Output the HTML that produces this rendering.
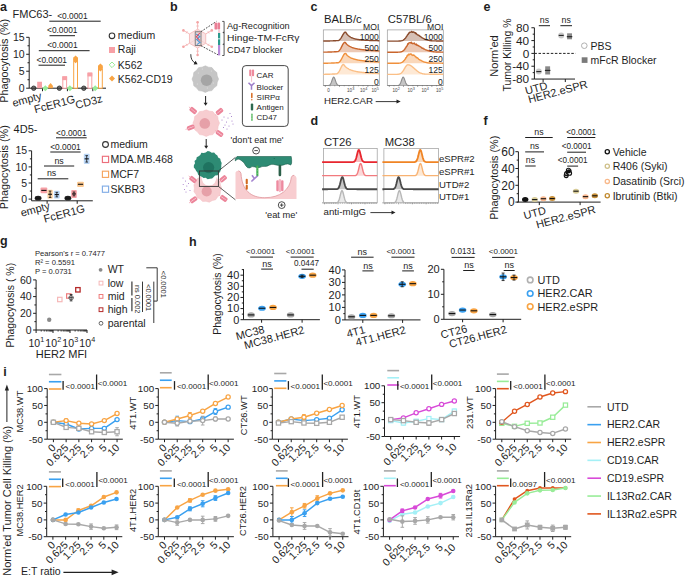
<!DOCTYPE html>
<html><head><meta charset="utf-8"><style>
html,body{margin:0;padding:0;background:#fff;width:685px;height:576px;overflow:hidden}
svg{display:block;font-family:"Liberation Sans",sans-serif}
</style></head><body>
<svg width="685" height="576" viewBox="0 0 685 576" fill="#1e1e1e">
<text x="0" y="10.5" font-size="12.5" font-weight="bold">a</text>
<text x="12.5" y="17.7" font-size="11">FMC63-</text>
<line x1="29.2" y1="37.3" x2="29.2" y2="88.2" stroke="#1e1e1e" stroke-width="1"/>
<line x1="26.2" y1="88.2" x2="29.2" y2="88.2" stroke="#1e1e1e" stroke-width="1"/>
<text x="24.7" y="91.88" font-size="10.5" text-anchor="end">0</text>
<line x1="26.2" y1="71.23" x2="29.2" y2="71.23" stroke="#1e1e1e" stroke-width="1"/>
<text x="24.7" y="74.91" font-size="10.5" text-anchor="end">5</text>
<line x1="26.2" y1="54.27" x2="29.2" y2="54.27" stroke="#1e1e1e" stroke-width="1"/>
<text x="24.7" y="57.94" font-size="10.5" text-anchor="end">10</text>
<line x1="26.2" y1="37.3" x2="29.2" y2="37.3" stroke="#1e1e1e" stroke-width="1"/>
<text x="24.7" y="40.98" font-size="10.5" text-anchor="end">15</text>
<line x1="27.5" y1="79.72" x2="29.2" y2="79.72" stroke="#1e1e1e" stroke-width="1"/>
<line x1="27.5" y1="62.75" x2="29.2" y2="62.75" stroke="#1e1e1e" stroke-width="1"/>
<line x1="27.5" y1="45.78" x2="29.2" y2="45.78" stroke="#1e1e1e" stroke-width="1"/>
<line x1="29.2" y1="88.2" x2="106" y2="88.2" stroke="#1e1e1e" stroke-width="1"/>
<line x1="42.5" y1="88.2" x2="42.5" y2="91.2" stroke="#1e1e1e" stroke-width="1"/>
<line x1="67.4" y1="88.2" x2="67.4" y2="91.2" stroke="#1e1e1e" stroke-width="1"/>
<line x1="92.8" y1="88.2" x2="92.8" y2="91.2" stroke="#1e1e1e" stroke-width="1"/>
<rect x="37.2" y="81.75" width="4.8" height="6.45" fill="#f7a0a6" stroke="none" stroke-width="1"/>
<path d="M48.3 85.73 L50.6 82.93 L52.9 85.73 L52.9 88.2 L48.3 88.2Z" stroke="none" fill="#f8a444" stroke-width="1"/>
<circle cx="33.7" cy="88.2" r="2.2" fill="#777" stroke="#333" stroke-width="0.9"/>
<line x1="31.5" y1="88.2" x2="35.9" y2="88.2" stroke="#222" stroke-width="0.9"/>
<path d="M42.3 88.2 L45.3 85.2 L48.3 88.2 L45.3 91.2Z" stroke="none" fill="#98ec98" stroke-width="1"/>
<rect x="62.8" y="77.16" width="3.8" height="11.04" fill="#fff" stroke="#f7a0a6" stroke-width="1"/>
<rect x="62.3" y="76.16" width="4.8" height="4" fill="#f7a0a6" stroke="none" stroke-width="1"/>
<rect x="73.7" y="58.16" width="3.8" height="30.04" fill="#fff" stroke="#f8a444" stroke-width="1"/>
<path d="M73.2 57.66 L75.6 55.46 L78 57.66 L75.6 59.86Z" stroke="none" fill="#f8a444" stroke-width="1"/>
<path d="M73.2 59.46 L75.6 57.26 L78 59.46 L75.6 61.66Z" stroke="none" fill="#f8a444" stroke-width="1"/>
<path d="M73.2 61.06 L75.6 58.86 L78 61.06 L75.6 63.26Z" stroke="none" fill="#f8a444" stroke-width="1"/>
<circle cx="59.4" cy="88.2" r="2.2" fill="#777" stroke="#333" stroke-width="0.9"/>
<line x1="57.2" y1="88.2" x2="61.6" y2="88.2" stroke="#222" stroke-width="0.9"/>
<path d="M66.9 88.2 L69.9 85.2 L72.9 88.2 L69.9 91.2Z" stroke="none" fill="#98ec98" stroke-width="1"/>
<rect x="88" y="73.43" width="3.8" height="14.77" fill="#fff" stroke="#f7a0a6" stroke-width="1"/>
<rect x="87.5" y="72.43" width="4.8" height="4" fill="#f7a0a6" stroke="none" stroke-width="1"/>
<rect x="98.5" y="66.3" width="3.8" height="21.9" fill="#fff" stroke="#f8a444" stroke-width="1"/>
<path d="M98 65.8 L100.4 63.6 L102.8 65.8 L100.4 68Z" stroke="none" fill="#f8a444" stroke-width="1"/>
<path d="M98 67.6 L100.4 65.4 L102.8 67.6 L100.4 69.8Z" stroke="none" fill="#f8a444" stroke-width="1"/>
<path d="M98 69.2 L100.4 67 L102.8 69.2 L100.4 71.4Z" stroke="none" fill="#f8a444" stroke-width="1"/>
<circle cx="83.8" cy="88.2" r="2.2" fill="#777" stroke="#333" stroke-width="0.9"/>
<line x1="81.6" y1="88.2" x2="86" y2="88.2" stroke="#222" stroke-width="0.9"/>
<path d="M92.2 88.2 L95.2 85.2 L98.2 88.2 L95.2 91.2Z" stroke="none" fill="#98ec98" stroke-width="1"/>
<line x1="49.3" y1="21.2" x2="100.7" y2="21.2" stroke="#1e1e1e" stroke-width="1"/>
<text x="72.4" y="18.6" font-size="8.4" text-anchor="middle">&lt;0.0001</text>
<line x1="49.5" y1="35.7" x2="75" y2="35.7" stroke="#1e1e1e" stroke-width="1"/>
<text x="62.25" y="33.4" font-size="8.4" text-anchor="middle">&lt;0.0001</text>
<line x1="38.8" y1="50.7" x2="89.6" y2="50.7" stroke="#1e1e1e" stroke-width="1"/>
<text x="62.4" y="48.4" font-size="8.4" text-anchor="middle">&lt;0.0001</text>
<line x1="38.5" y1="65.2" x2="65" y2="65.2" stroke="#1e1e1e" stroke-width="1"/>
<text x="51.75" y="62.9" font-size="8.4" text-anchor="middle">&lt;0.0001</text>
<text x="8.1" y="60.8" font-size="10.8" text-anchor="middle" transform="rotate(-90 8.1 60.8)">Phagocytosis (%)</text>
<text x="27.86" y="103.01" font-size="11" text-anchor="middle" transform="rotate(-15 27.86 103.01)">empty</text>
<text x="55.52" y="107.83" font-size="11" text-anchor="middle" transform="rotate(-15 55.52 107.83)">FcER1G</text>
<text x="89.87" y="105.48" font-size="11" text-anchor="middle" transform="rotate(-15 89.87 105.48)">CD3z</text>
<circle cx="112" cy="35.8" r="2.8" fill="none" stroke="#333" stroke-width="1.1"/>
<text x="117.8" y="38.8" font-size="10.5">medium</text>
<rect x="109" y="47" width="6" height="6" fill="#f7a0a6" stroke="none" stroke-width="1"/>
<text x="117.8" y="53.3" font-size="10.5">Raji</text>
<path d="M109.2 64.8 L112 62 L114.8 64.8 L112 67.6Z" stroke="#98ec98" fill="none" stroke-width="1"/>
<text x="117.8" y="68.9" font-size="10.5">K562</text>
<path d="M109 78.6 L112 75.6 L115 78.6 L112 81.6Z" stroke="none" fill="#f8a444" stroke-width="1"/>
<text x="117.8" y="82.5" font-size="10.5">K562-CD19</text>
<text x="13.6" y="132.8" font-size="11">4D5-</text>
<line x1="31.6" y1="150.8" x2="31.6" y2="200.8" stroke="#1e1e1e" stroke-width="1"/>
<line x1="28.6" y1="199.1" x2="31.6" y2="199.1" stroke="#1e1e1e" stroke-width="1"/>
<text x="27.1" y="202.78" font-size="10.5" text-anchor="end">0</text>
<line x1="28.6" y1="183" x2="31.6" y2="183" stroke="#1e1e1e" stroke-width="1"/>
<text x="27.1" y="186.68" font-size="10.5" text-anchor="end">5</text>
<line x1="28.6" y1="166.9" x2="31.6" y2="166.9" stroke="#1e1e1e" stroke-width="1"/>
<text x="27.1" y="170.58" font-size="10.5" text-anchor="end">10</text>
<line x1="28.6" y1="150.8" x2="31.6" y2="150.8" stroke="#1e1e1e" stroke-width="1"/>
<text x="27.1" y="154.48" font-size="10.5" text-anchor="end">15</text>
<line x1="29.9" y1="191.05" x2="31.6" y2="191.05" stroke="#1e1e1e" stroke-width="1"/>
<line x1="29.9" y1="174.95" x2="31.6" y2="174.95" stroke="#1e1e1e" stroke-width="1"/>
<line x1="29.9" y1="158.85" x2="31.6" y2="158.85" stroke="#1e1e1e" stroke-width="1"/>
<line x1="31.6" y1="200.8" x2="92.8" y2="200.8" stroke="#1e1e1e" stroke-width="1"/>
<line x1="47.1" y1="200.8" x2="47.1" y2="203.8" stroke="#1e1e1e" stroke-width="1"/>
<line x1="77.2" y1="200.8" x2="77.2" y2="203.8" stroke="#1e1e1e" stroke-width="1"/>
<line x1="56" y1="137.8" x2="86.7" y2="137.8" stroke="#1e1e1e" stroke-width="1"/>
<text x="71.35" y="135.5" font-size="8.4" text-anchor="middle">&lt;0.0001</text>
<line x1="50.3" y1="152" x2="80.6" y2="152" stroke="#1e1e1e" stroke-width="1"/>
<text x="65.45" y="149.7" font-size="8.4" text-anchor="middle">&lt;0.0001</text>
<line x1="44" y1="166" x2="74.2" y2="166" stroke="#1e1e1e" stroke-width="1"/>
<text x="59.1" y="163.6" font-size="8.8" text-anchor="middle">ns</text>
<line x1="37.7" y1="178.8" x2="68.3" y2="178.8" stroke="#1e1e1e" stroke-width="1"/>
<text x="51.6" y="176.4" font-size="8.8" text-anchor="middle">ns</text>
<ellipse cx="38.1" cy="198.13" rx="3.4" ry="2.3" fill="#222"/>
<line x1="35.3" y1="198.13" x2="40.9" y2="198.13" stroke="#111" stroke-width="1.1"/>
<rect x="40.5" y="187.61" width="6.8" height="5.6" fill="#f7a0a6" stroke="none" stroke-width="1" rx="1"/>
<line x1="41.3" y1="190.41" x2="46.5" y2="190.41" stroke="#111" stroke-width="1.1"/>
<rect x="47.4" y="189.87" width="5.4" height="8.8" fill="#fcd3a6" stroke="none" stroke-width="1" rx="1"/>
<line x1="48.2" y1="194.27" x2="52" y2="194.27" stroke="#111" stroke-width="1.1"/>
<rect x="53.9" y="190.69" width="5.8" height="7.8" fill="#b9d5f5" stroke="none" stroke-width="1" rx="1"/>
<line x1="54.7" y1="194.59" x2="58.9" y2="194.59" stroke="#111" stroke-width="1.1"/>
<ellipse cx="67.9" cy="198.13" rx="3.4" ry="2.3" fill="#222"/>
<line x1="65.1" y1="198.13" x2="70.7" y2="198.13" stroke="#111" stroke-width="1.1"/>
<rect x="71.2" y="189.95" width="5.6" height="8" fill="#f7a0a6" stroke="none" stroke-width="1" rx="1"/>
<line x1="72" y1="193.95" x2="76" y2="193.95" stroke="#111" stroke-width="1.1"/>
<rect x="77.1" y="181.69" width="6.8" height="5.2" fill="#fcc890" stroke="none" stroke-width="1" rx="1"/>
<line x1="77.9" y1="184.29" x2="83.1" y2="184.29" stroke="#111" stroke-width="1.1"/>
<rect x="83.8" y="153.65" width="5.8" height="10.4" fill="#b9d5f5" stroke="none" stroke-width="1" rx="1"/>
<line x1="84.6" y1="158.85" x2="88.8" y2="158.85" stroke="#111" stroke-width="1.1"/>
<line x1="50.1" y1="191.05" x2="50.1" y2="197.49" stroke="#111" stroke-width="0.8"/>
<line x1="48.8" y1="191.05" x2="51.4" y2="191.05" stroke="#111" stroke-width="0.8"/>
<line x1="48.8" y1="197.49" x2="51.4" y2="197.49" stroke="#111" stroke-width="0.8"/>
<line x1="56.8" y1="192.34" x2="56.8" y2="196.85" stroke="#111" stroke-width="0.8"/>
<line x1="55.5" y1="192.34" x2="58.1" y2="192.34" stroke="#111" stroke-width="0.8"/>
<line x1="55.5" y1="196.85" x2="58.1" y2="196.85" stroke="#111" stroke-width="0.8"/>
<line x1="86.7" y1="155.63" x2="86.7" y2="162.07" stroke="#111" stroke-width="0.8"/>
<line x1="85.4" y1="155.63" x2="88" y2="155.63" stroke="#111" stroke-width="0.8"/>
<line x1="85.4" y1="162.07" x2="88" y2="162.07" stroke="#111" stroke-width="0.8"/>
<line x1="74" y1="192.02" x2="74" y2="195.88" stroke="#111" stroke-width="0.8"/>
<line x1="72.7" y1="192.02" x2="75.3" y2="192.02" stroke="#111" stroke-width="0.8"/>
<line x1="72.7" y1="195.88" x2="75.3" y2="195.88" stroke="#111" stroke-width="0.8"/>
<text x="8.1" y="167.2" font-size="10.8" text-anchor="middle" transform="rotate(-90 8.1 167.2)">Phagocytosis (%)</text>
<text x="36.16" y="212.91" font-size="11" text-anchor="middle" transform="rotate(-15 36.16 212.91)">empty</text>
<text x="65.22" y="217.33" font-size="11" text-anchor="middle" transform="rotate(-15 65.22 217.33)">FcER1G</text>
<circle cx="105.5" cy="144.5" r="2.9" fill="none" stroke="#333" stroke-width="1.1"/>
<text x="110.4" y="148" font-size="10.5">medium</text>
<rect x="102.4" y="156.3" width="6.2" height="6.2" fill="none" stroke="#ec6f7c" stroke-width="1.15"/>
<text x="110.4" y="163" font-size="10.5">MDA.MB.468</text>
<rect x="102.4" y="171.2" width="6.2" height="6.2" fill="none" stroke="#f5a560" stroke-width="1.15"/>
<text x="110.4" y="178" font-size="10.5">MCF7</text>
<rect x="102.4" y="186.1" width="6.2" height="6.2" fill="none" stroke="#82ade6" stroke-width="1.15"/>
<text x="110.4" y="193" font-size="10.5">SKBR3</text>
<text x="170" y="10.5" font-size="12.5" font-weight="bold">b</text>
<line x1="197.6" y1="29.2" x2="197.6" y2="22.4" stroke="#f4b4b4" stroke-width="0.9"/>
<circle cx="197.6" cy="22.2" r="1.3" fill="#f4a4a4" stroke="none" stroke-width="1"/>
<line x1="198.9" y1="26" x2="196.3" y2="26" stroke="#f4b4b4" stroke-width="0.8"/>
<line x1="205.74" y1="33.9" x2="211.63" y2="30.5" stroke="#f4b4b4" stroke-width="0.9"/>
<circle cx="211.8" cy="30.4" r="1.3" fill="#f4a4a4" stroke="none" stroke-width="1"/>
<line x1="209.16" y1="33.43" x2="207.86" y2="31.17" stroke="#f4b4b4" stroke-width="0.8"/>
<line x1="205.74" y1="43.3" x2="211.63" y2="46.7" stroke="#f4b4b4" stroke-width="0.9"/>
<circle cx="211.8" cy="46.8" r="1.3" fill="#f4a4a4" stroke="none" stroke-width="1"/>
<line x1="207.86" y1="46.03" x2="209.16" y2="43.77" stroke="#f4b4b4" stroke-width="0.8"/>
<line x1="197.6" y1="48" x2="197.6" y2="54.8" stroke="#f4b4b4" stroke-width="0.9"/>
<circle cx="197.6" cy="55" r="1.3" fill="#f4a4a4" stroke="none" stroke-width="1"/>
<line x1="196.3" y1="51.2" x2="198.9" y2="51.2" stroke="#f4b4b4" stroke-width="0.8"/>
<line x1="189.46" y1="43.3" x2="183.57" y2="46.7" stroke="#f4b4b4" stroke-width="0.9"/>
<circle cx="183.4" cy="46.8" r="1.3" fill="#f4a4a4" stroke="none" stroke-width="1"/>
<line x1="186.04" y1="43.77" x2="187.34" y2="46.03" stroke="#f4b4b4" stroke-width="0.8"/>
<line x1="189.46" y1="33.9" x2="183.57" y2="30.5" stroke="#f4b4b4" stroke-width="0.9"/>
<circle cx="183.4" cy="30.4" r="1.3" fill="#f4a4a4" stroke="none" stroke-width="1"/>
<line x1="187.34" y1="31.17" x2="186.04" y2="33.43" stroke="#f4b4b4" stroke-width="0.8"/>
<path d="M197.6 29.2 L205.74 33.9 L205.74 43.3 L197.6 48 L189.46 43.3 L189.46 33.9Z" stroke="#f2b4b4" fill="#f9e2e2" stroke-width="0.8"/>
<path d="M197.6 29.2 L197.6 38.6 L189.5 43.3 M197.6 38.6 L205.7 43.3" stroke="#f4c4c4" fill="none" stroke-width="0.5"/>
<rect x="195.2" y="31.8" width="5.8" height="13.7" fill="#f0dada" stroke="#666" stroke-width="0.8"/>
<path d="M196.2 34 L199.8 36.5 L196.6 39.5 L200 42.5 L196.8 44.6" stroke="#4a9ad8" fill="none" stroke-width="1.1"/>
<path d="M199.8 33 L196.4 36.8 L199.8 40.5" stroke="#d84860" fill="none" stroke-width="1.1"/>
<line x1="201" y1="31.6" x2="216.4" y2="21.4" stroke="#333" stroke-width="0.9" stroke-dasharray="1.7 1.3"/>
<line x1="201" y1="45.7" x2="218" y2="54.8" stroke="#333" stroke-width="0.9" stroke-dasharray="1.7 1.3"/>
<rect x="214.5" y="22.6" width="2.7" height="7" fill="#ea7f95" stroke="none" stroke-width="1" rx="1.2"/>
<rect x="217.4" y="22.6" width="2.7" height="7" fill="#ea7f95" stroke="none" stroke-width="1" rx="1.2"/>
<rect x="218" y="29.6" width="2.1" height="3.4" fill="#f6d0d8" stroke="none" stroke-width="1"/>
<rect x="218" y="33" width="2.2" height="12" fill="#2a9a8c" stroke="none" stroke-width="1"/>
<line x1="219.1" y1="38.4" x2="219.1" y2="39.3" stroke="#fff" stroke-width="2.2"/>
<rect x="218" y="45" width="2.2" height="10.4" fill="#b78ad8" stroke="none" stroke-width="1"/>
<path d="M222.2 21.4 L224.1 21.4 L224.1 55.5 L222.2 55.5" stroke="#444" fill="none" stroke-width="0.9"/>
<path d="M224.1 31.6 L222.3 32.6 L224.1 33.6Z" stroke="none" fill="#444" stroke-width="1"/>
<path d="M224.1 43.3 L222.3 44.3 L224.1 45.3Z" stroke="none" fill="#444" stroke-width="1"/>
<text x="227" y="28.8" font-size="9" textLength="62.6" lengthAdjust="spacingAndGlyphs">Ag-Recognition</text>
<text x="227" y="41.2" font-size="9" textLength="72.5" lengthAdjust="spacingAndGlyphs">Hinge-TM-FcR&#947;</text>
<text x="227" y="53.4" font-size="9" textLength="55.7" lengthAdjust="spacingAndGlyphs">CD47 blocker</text>
<path d="M190.8 54.2 Q190.6 60.5 195.2 63" stroke="#222" fill="none" stroke-width="0.9"/>
<path d="M193.6 64.6 L197.6 64.2 L195.6 60.8Z" stroke="none" fill="#222" stroke-width="1"/>
<path d="M218.6 79.1 L217.27 82.31 L216.82 85.75 L214.06 87.86 L211.95 90.62 L208.51 91.07 L205.3 92.4 L202.09 91.07 L198.65 90.62 L196.54 87.86 L193.78 85.75 L193.33 82.31 L192 79.1 L193.33 75.89 L193.78 72.45 L196.54 70.34 L198.65 67.58 L202.09 67.13 L205.3 65.8 L208.51 67.13 L211.95 67.58 L214.06 70.34 L216.82 72.45 L217.27 75.89Z" stroke="#bbb" fill="#c6c6c6" stroke-width="0.5"/>
<circle cx="206.6" cy="80.2" r="5.8" fill="#a5a5a5" stroke="none" stroke-width="1"/>
<circle cx="198.3" cy="73.1" r="0.5" fill="#e4e4e4" stroke="none" stroke-width="1"/>
<circle cx="211.3" cy="71.1" r="0.5" fill="#e4e4e4" stroke="none" stroke-width="1"/>
<circle cx="213.3" cy="83.1" r="0.5" fill="#e4e4e4" stroke="none" stroke-width="1"/>
<circle cx="197.3" cy="84.1" r="0.5" fill="#e4e4e4" stroke="none" stroke-width="1"/>
<circle cx="207.3" cy="88.1" r="0.5" fill="#e4e4e4" stroke="none" stroke-width="1"/>
<circle cx="202.3" cy="69.1" r="0.5" fill="#e4e4e4" stroke="none" stroke-width="1"/>
<line x1="205.6" y1="96" x2="205.6" y2="103.3" stroke="#222" stroke-width="1"/>
<path d="M203.6 102.8 L205.6 105.8 L207.6 102.8Z" stroke="none" fill="#222" stroke-width="1"/>
<path d="M219.5 123.1 L218.17 126.31 L217.72 129.75 L214.96 131.86 L212.85 134.62 L209.41 135.07 L206.2 136.4 L202.99 135.07 L199.55 134.62 L197.44 131.86 L194.68 129.75 L194.23 126.31 L192.9 123.1 L194.23 119.89 L194.68 116.45 L197.44 114.34 L199.55 111.58 L202.99 111.13 L206.2 109.8 L209.41 111.13 L212.85 111.58 L214.96 114.34 L217.72 116.45 L218.17 119.89Z" stroke="#f2bcc0" fill="#f7cdd0" stroke-width="0.5"/>
<circle cx="204.8" cy="123.4" r="5.3" fill="#e6a0a8" stroke="none" stroke-width="1"/>
<g transform="translate(193.2 110.5) rotate(40)">
<rect x="-3.8" y="-2.3" width="7.6" height="4.6" fill="#ec8499" stroke="none" stroke-width="1" rx="1.4"/>
<rect x="-3" y="-0.25" width="6" height="0.5" fill="#fbe0e6" stroke="none" stroke-width="1"/>
<line x1="-5.6" y1="0" x2="-3.8" y2="0" stroke="#f4b0bc" stroke-width="0.8"/>
</g>
<g transform="translate(219.5 111.5) rotate(-40)">
<rect x="-3.8" y="-2.3" width="7.6" height="4.6" fill="#ec8499" stroke="none" stroke-width="1" rx="1.4"/>
<rect x="-3" y="-0.25" width="6" height="0.5" fill="#fbe0e6" stroke="none" stroke-width="1"/>
<line x1="-5.6" y1="0" x2="-3.8" y2="0" stroke="#f4b0bc" stroke-width="0.8"/>
</g>
<g transform="translate(190.8 127.5) rotate(-20)">
<rect x="-3.8" y="-2.3" width="7.6" height="4.6" fill="#ec8499" stroke="none" stroke-width="1" rx="1.4"/>
<rect x="-3" y="-0.25" width="6" height="0.5" fill="#fbe0e6" stroke="none" stroke-width="1"/>
<line x1="-5.6" y1="0" x2="-3.8" y2="0" stroke="#f4b0bc" stroke-width="0.8"/>
</g>
<g transform="translate(219.5 133.5) rotate(35)">
<rect x="-3.8" y="-2.3" width="7.6" height="4.6" fill="#ec8499" stroke="none" stroke-width="1" rx="1.4"/>
<rect x="-3" y="-0.25" width="6" height="0.5" fill="#fbe0e6" stroke="none" stroke-width="1"/>
<line x1="-5.6" y1="0" x2="-3.8" y2="0" stroke="#f4b0bc" stroke-width="0.8"/>
</g>
<circle cx="222" cy="120" r="0.5" fill="#9060c0" stroke="none" stroke-width="1"/>
<circle cx="224" cy="117" r="0.5" fill="#9060c0" stroke="none" stroke-width="1"/>
<circle cx="226.5" cy="122" r="0.5" fill="#9060c0" stroke="none" stroke-width="1"/>
<circle cx="228" cy="118" r="0.5" fill="#9060c0" stroke="none" stroke-width="1"/>
<circle cx="230" cy="113.5" r="0.5" fill="#9060c0" stroke="none" stroke-width="1"/>
<circle cx="225" cy="125" r="0.5" fill="#9060c0" stroke="none" stroke-width="1"/>
<circle cx="229" cy="126" r="0.5" fill="#9060c0" stroke="none" stroke-width="1"/>
<circle cx="232" cy="121" r="0.5" fill="#9060c0" stroke="none" stroke-width="1"/>
<circle cx="223.5" cy="127.5" r="0.5" fill="#9060c0" stroke="none" stroke-width="1"/>
<circle cx="227" cy="129" r="0.5" fill="#9060c0" stroke="none" stroke-width="1"/>
<circle cx="231.5" cy="116.5" r="0.5" fill="#9060c0" stroke="none" stroke-width="1"/>
<circle cx="233" cy="124" r="0.5" fill="#9060c0" stroke="none" stroke-width="1"/>
<line x1="206.2" y1="139" x2="206.2" y2="146.3" stroke="#222" stroke-width="1"/>
<path d="M204.2 145.8 L206.2 148.8 L208.2 145.8Z" stroke="none" fill="#222" stroke-width="1"/>
<path d="M221.7 188.2 L220.41 191.36 L220.08 194.75 L217.47 196.95 L215.61 199.8 L212.28 200.53 L209.3 202.2 L206.01 201.29 L202.6 201.38 L200.11 199.06 L197.05 197.55 L195.92 194.33 L193.91 191.57 L194.41 188.2 L193.91 184.83 L195.92 182.07 L197.05 178.85 L200.11 177.34 L202.6 175.02 L206.01 175.11 L209.3 174.2 L212.28 175.87 L215.61 176.6 L217.47 179.45 L220.08 181.65 L220.41 185.04Z" stroke="#f2bcc0" fill="#f7cdd0" stroke-width="0.5"/>
<circle cx="206.7" cy="191.4" r="5.1" fill="#e6a0a8" stroke="none" stroke-width="1"/>
<g transform="translate(193 179.5) rotate(40)">
<rect x="-3.8" y="-2.3" width="7.6" height="4.6" fill="#ec8499" stroke="none" stroke-width="1" rx="1.4"/>
<rect x="-3" y="-0.25" width="6" height="0.5" fill="#fbe0e6" stroke="none" stroke-width="1"/>
<line x1="-5.6" y1="0" x2="-3.8" y2="0" stroke="#f4b0bc" stroke-width="0.8"/>
</g>
<g transform="translate(223.2 178.8) rotate(-40)">
<rect x="-3.8" y="-2.3" width="7.6" height="4.6" fill="#ec8499" stroke="none" stroke-width="1" rx="1.4"/>
<rect x="-3" y="-0.25" width="6" height="0.5" fill="#fbe0e6" stroke="none" stroke-width="1"/>
<line x1="-5.6" y1="0" x2="-3.8" y2="0" stroke="#f4b0bc" stroke-width="0.8"/>
</g>
<g transform="translate(193.6 199.8) rotate(-35)">
<rect x="-3.8" y="-2.3" width="7.6" height="4.6" fill="#ec8499" stroke="none" stroke-width="1" rx="1.4"/>
<rect x="-3" y="-0.25" width="6" height="0.5" fill="#fbe0e6" stroke="none" stroke-width="1"/>
<line x1="-5.6" y1="0" x2="-3.8" y2="0" stroke="#f4b0bc" stroke-width="0.8"/>
</g>
<g transform="translate(223.8 198.4) rotate(35)">
<rect x="-3.8" y="-2.3" width="7.6" height="4.6" fill="#ec8499" stroke="none" stroke-width="1" rx="1.4"/>
<rect x="-3" y="-0.25" width="6" height="0.5" fill="#fbe0e6" stroke="none" stroke-width="1"/>
<line x1="-5.6" y1="0" x2="-3.8" y2="0" stroke="#f4b0bc" stroke-width="0.8"/>
</g>
<circle cx="183" cy="178" r="0.5" fill="#9a68c4" stroke="none" stroke-width="1"/>
<circle cx="185.5" cy="181" r="0.5" fill="#9a68c4" stroke="none" stroke-width="1"/>
<circle cx="183.2" cy="184.5" r="0.5" fill="#9a68c4" stroke="none" stroke-width="1"/>
<circle cx="186.8" cy="186" r="0.5" fill="#9a68c4" stroke="none" stroke-width="1"/>
<circle cx="184.5" cy="189.5" r="0.5" fill="#9a68c4" stroke="none" stroke-width="1"/>
<circle cx="188.5" cy="183.5" r="0.5" fill="#9a68c4" stroke="none" stroke-width="1"/>
<circle cx="190" cy="190.5" r="0.5" fill="#9a68c4" stroke="none" stroke-width="1"/>
<circle cx="186" cy="192" r="0.5" fill="#9a68c4" stroke="none" stroke-width="1"/>
<path d="M201.3 174.5 Q201.3 185.6 209 185.6 Q216.7 185.6 216.7 174.5 Z" stroke="none" fill="#fff" stroke-width="1"/>
<path d="M221.3 165.2 L221.32 167.36 L220.89 169.49 L220.27 171.6 L218.85 173.3 L217.65 175.15 L215.13 175.43 L213.76 177.09 L212.06 178.62 L209.83 178.67 L207.7 179.24 L205.7 177.82 L203.57 177.9 L201.8 176.78 L199.78 176.1 L198.14 174.76 L197.49 172.62 L196.16 171.08 L195.29 169.23 L193.81 167.4 L193.87 165.2 L195 163.19 L194.5 160.91 L196.28 159.38 L196.71 157.21 L198.65 156.15 L200.29 155 L201.35 152.73 L203.7 152.9 L205.67 152.41 L207.7 151.03 L209.89 151.38 L211.74 152.78 L214.12 152.6 L215.61 154.31 L217.38 155.52 L218.16 157.6 L220.27 158.8 L220.73 160.96 L221.67 162.99Z" stroke="none" fill="#2e8b74" stroke-width="1"/>
<circle cx="208.6" cy="167.6" r="5.6" fill="#1f7360" stroke="none" stroke-width="1"/>
<rect x="199.4" y="171" width="19" height="15.4" fill="none" stroke="#333" stroke-width="0.9"/>
<line x1="218.4" y1="171" x2="235.4" y2="157.4" stroke="#333" stroke-width="0.8"/>
<line x1="218.4" y1="186.4" x2="235.4" y2="199.8" stroke="#333" stroke-width="0.8"/>
<path d="M235.5 199 L235.5 172.6 Q236.3 170.6 238.4 170.8 Q240.6 171.3 241 173.5 C242 190 250.5 197.7 264.8 197.7 C280 197.7 290 190 291.4 177.2 Q292.3 175 294.2 175.3 Q296.3 175.9 296.5 178 L296.5 199 Z" stroke="none" fill="#f8cdd0" stroke-width="1"/>
<path d="M238.4 170.8 Q240.6 171.3 241 173.5 C242 190 250.5 197.7 264.8 197.7 C280 197.7 290 190 291.4 177.2 Q292.3 175 294.2 175.3" stroke="#e0959c" fill="none" stroke-width="0.8"/>
<path d="M235.3 158.5 L237 156.5 L291.2 156.5 Q291.9 160 291.6 163 Q291.2 165.2 290.4 164.9 Q289 164 287.6 163.9 Q285.5 164 283.6 164.9 Q281 165.6 278.7 165.4 Q276 165 273.7 164.4 Q271.5 164.1 269.7 164.9 Q267 166.5 264.8 166.4 Q262 166.2 259.8 167.4 Q257 168.2 254.8 166.9 Q252 165.8 249.9 167.9 Q247.5 168.6 245.9 165.9 Q244 162 241.9 160.9 Q239.8 159 238 159 Q236.5 159.8 235.3 160.9 Z" stroke="#1d5e4c" fill="#2e8b74" stroke-width="0.6"/>
<circle cx="274.2" cy="158.6" r="0.5" fill="#1c5e4e" stroke="none" stroke-width="1"/>
<rect x="256.3" y="165.6" width="2.1" height="11" fill="#3fae50" stroke="none" stroke-width="1" rx="0.8"/>
<line x1="256.6" y1="168" x2="258.1" y2="168" stroke="#a6e0ae" stroke-width="0.4"/>
<line x1="256.6" y1="170.7" x2="258.1" y2="170.7" stroke="#a6e0ae" stroke-width="0.4"/>
<line x1="256.6" y1="173.4" x2="258.1" y2="173.4" stroke="#a6e0ae" stroke-width="0.4"/>
<path d="M257.5 175.8 L254.4 178.6 M254.4 178.6 L252 175.2 M254.4 178.6 L251.4 181.5" stroke="#a585d0" fill="none" stroke-width="1.6"/>
<rect x="245.7" y="178.8" width="2.1" height="5.4" fill="#d2691f" stroke="none" stroke-width="1" rx="1"/>
<rect x="245.7" y="184.8" width="2.1" height="5" fill="#d2691f" stroke="none" stroke-width="1" rx="1"/>
<rect x="278.6" y="164.8" width="2.6" height="11.4" fill="#2b5f49" stroke="none" stroke-width="1" rx="1.2"/>
<rect x="276.3" y="180.3" width="2.4" height="11" fill="#ee8aa0" stroke="none" stroke-width="1" rx="1.1"/>
<rect x="281.1" y="180.3" width="2.4" height="11" fill="#ee8aa0" stroke="none" stroke-width="1" rx="1.1"/>
<rect x="278.9" y="179.4" width="2" height="12.4" fill="#f6c4cf" stroke="#ee8aa0" stroke-width="0.5" rx="1"/>
<text x="230.6" y="143.3" font-size="8.7" textLength="53" lengthAdjust="spacingAndGlyphs">'don't eat me'</text>
<circle cx="256.1" cy="150.6" r="3.4" fill="#fff" stroke="#222" stroke-width="0.8"/>
<line x1="254.3" y1="150.6" x2="257.9" y2="150.6" stroke="#222" stroke-width="0.8"/>
<circle cx="281.7" cy="205.1" r="3.4" fill="#fff" stroke="#222" stroke-width="0.8"/>
<line x1="279.9" y1="205.1" x2="283.5" y2="205.1" stroke="#222" stroke-width="0.8"/>
<line x1="281.7" y1="203.3" x2="281.7" y2="206.9" stroke="#222" stroke-width="0.8"/>
<text x="265.2" y="217.6" font-size="8.5" textLength="32" lengthAdjust="spacingAndGlyphs">'eat me'</text>
<rect x="242.4" y="65.6" width="45.8" height="60.8" fill="#fff" stroke="#333" stroke-width="0.9" rx="3.5"/>
<rect x="249.2" y="69.4" width="2.2" height="6.8" fill="#ee8a9c" stroke="none" stroke-width="1" rx="1"/>
<rect x="251.9" y="69.4" width="2.2" height="6.8" fill="#ee8a9c" stroke="none" stroke-width="1" rx="1"/>
<line x1="251.6" y1="76" x2="251.6" y2="81.8" stroke="#f4b0bc" stroke-width="0.8"/>
<text x="256.6" y="78.3" font-size="8">CAR</text>
<path d="M248.5 82.8 L251.5 85.6 L254.5 82.8 M251.5 85.6 L251.5 89.8" stroke="#9d7dc8" fill="none" stroke-width="1.5"/>
<text x="256.6" y="89.5" font-size="8">Blocker</text>
<rect x="251" y="92.8" width="1.6" height="5.5" fill="#d9722a" stroke="none" stroke-width="1" rx="0.8"/>
<circle cx="251.8" cy="99.8" r="0.8" fill="#d9722a" stroke="none" stroke-width="1"/>
<text x="256.6" y="99.6" font-size="8">SIRP&#945;</text>
<rect x="250.8" y="103.6" width="2.4" height="7" fill="#2d6a4f" stroke="none" stroke-width="1" rx="1"/>
<text x="256.6" y="109.5" font-size="8">Antigen</text>
<rect x="251.2" y="113.4" width="1.5" height="7.6" fill="#5dbb63" stroke="none" stroke-width="1" rx="0.7"/>
<line x1="251.95" y1="115.5" x2="251.95" y2="116.2" stroke="#fff" stroke-width="0.5"/>
<line x1="251.95" y1="118.3" x2="251.95" y2="119" stroke="#fff" stroke-width="0.5"/>
<text x="256.6" y="120" font-size="8">CD47</text>
<text x="310.6" y="10.5" font-size="12.5" font-weight="bold">c</text>
<text x="324" y="23.4" font-size="11.3">BALB/c</text>
<text x="387.8" y="22.6" font-size="11.3">C57BL/6</text>
<rect x="323.3" y="29.9" width="56" height="55.5" fill="#fff" stroke="#9a9a9a" stroke-width="0.7"/>
<text x="379.3" y="29.5" font-size="8.6" text-anchor="end">MOI</text>
<path d="M323.3 41.06 L323.8 41.06 L324.3 41.05 L324.8 41.05 L325.3 41.04 L325.8 41.03 L326.3 41.02 L326.8 41.01 L327.3 41 L327.8 40.99 L328.3 40.98 L328.8 40.97 L329.3 40.95 L329.8 40.94 L330.3 40.92 L330.8 40.91 L331.3 40.89 L331.8 40.87 L332.3 40.85 L332.8 40.83 L333.3 40.81 L333.8 40.79 L334.3 40.76 L334.8 40.74 L335.3 40.72 L335.8 40.69 L336.3 40.67 L336.8 40.64 L337.3 40.62 L337.8 40.6 L338.3 40.55 L338.8 40.3 L339.3 39.96 L339.8 39.52 L340.3 38.98 L340.8 38.32 L341.3 37.56 L341.8 36.72 L342.3 35.82 L342.8 34.92 L343.3 34.06 L343.8 33.29 L344.3 32.69 L344.8 32.28 L345.3 32.1 L345.8 32.28 L346.3 33.02 L346.8 33.97 L347.3 34.53 L347.8 35.03 L348.3 35.49 L348.8 35.91 L349.3 36.29 L349.8 36.64 L350.3 36.96 L350.8 37.25 L351.3 37.51 L351.8 37.75 L352.3 37.97 L352.8 38.18 L353.3 38.36 L353.8 38.53 L354.3 38.68 L354.8 38.83 L355.3 38.96 L355.8 39.08 L356.3 39.19 L356.8 39.29 L357.3 39.39 L357.8 39.47 L358.3 39.55 L358.8 39.63 L359.3 39.7 L359.8 39.76 L360.3 39.82 L360.8 39.88 L361.3 39.93 L361.8 39.97 L362.3 40.02 L362.8 40.06 L363.3 40.1 L363.8 40.14 L364.3 40.17 L364.8 40.21 L365.3 40.24 L365.8 40.27 L366.3 40.29 L366.8 40.32 L367.3 40.34 L367.8 40.37 L368.3 40.39 L368.8 40.41 L369.3 40.43 L369.8 40.45 L370.3 40.47 L370.8 40.49 L371.3 40.5 L371.8 40.52 L372.3 40.54 L372.8 40.55 L373.3 40.57 L373.8 40.58 L374.3 40.59 L374.8 40.61 L375.3 40.62 L375.8 40.63 L376.3 40.64 L376.8 40.65 L377.3 40.67 L377.8 40.68 L378.3 40.69 L378.8 40.7 L379.3 40.71 L379.3 41.1 L323.3 41.1 Z" stroke="none" fill="#8a4b2c" stroke-width="1" fill-opacity="0.35"/>
<path d="M323.3 41.06 L323.8 41.06 L324.3 41.05 L324.8 41.05 L325.3 41.04 L325.8 41.03 L326.3 41.02 L326.8 41.01 L327.3 41 L327.8 40.99 L328.3 40.98 L328.8 40.97 L329.3 40.95 L329.8 40.94 L330.3 40.92 L330.8 40.91 L331.3 40.89 L331.8 40.87 L332.3 40.85 L332.8 40.83 L333.3 40.81 L333.8 40.79 L334.3 40.76 L334.8 40.74 L335.3 40.72 L335.8 40.69 L336.3 40.67 L336.8 40.64 L337.3 40.62 L337.8 40.6 L338.3 40.55 L338.8 40.3 L339.3 39.96 L339.8 39.52 L340.3 38.98 L340.8 38.32 L341.3 37.56 L341.8 36.72 L342.3 35.82 L342.8 34.92 L343.3 34.06 L343.8 33.29 L344.3 32.69 L344.8 32.28 L345.3 32.1 L345.8 32.28 L346.3 33.02 L346.8 33.97 L347.3 34.53 L347.8 35.03 L348.3 35.49 L348.8 35.91 L349.3 36.29 L349.8 36.64 L350.3 36.96 L350.8 37.25 L351.3 37.51 L351.8 37.75 L352.3 37.97 L352.8 38.18 L353.3 38.36 L353.8 38.53 L354.3 38.68 L354.8 38.83 L355.3 38.96 L355.8 39.08 L356.3 39.19 L356.8 39.29 L357.3 39.39 L357.8 39.47 L358.3 39.55 L358.8 39.63 L359.3 39.7 L359.8 39.76 L360.3 39.82 L360.8 39.88 L361.3 39.93 L361.8 39.97 L362.3 40.02 L362.8 40.06 L363.3 40.1 L363.8 40.14 L364.3 40.17 L364.8 40.21 L365.3 40.24 L365.8 40.27 L366.3 40.29 L366.8 40.32 L367.3 40.34 L367.8 40.37 L368.3 40.39 L368.8 40.41 L369.3 40.43 L369.8 40.45 L370.3 40.47 L370.8 40.49 L371.3 40.5 L371.8 40.52 L372.3 40.54 L372.8 40.55 L373.3 40.57 L373.8 40.58 L374.3 40.59 L374.8 40.61 L375.3 40.62 L375.8 40.63 L376.3 40.64 L376.8 40.65 L377.3 40.67 L377.8 40.68 L378.3 40.69 L378.8 40.7 L379.3 40.71" stroke="#8a4b2c" fill="none" stroke-width="1.4" stroke-linejoin="round"/>
<text x="378.8" y="40.1" font-size="8.6" text-anchor="end">1000</text>
<path d="M323.3 52.16 L323.8 52.15 L324.3 52.14 L324.8 52.13 L325.3 52.13 L325.8 52.12 L326.3 52.11 L326.8 52.1 L327.3 52.08 L327.8 52.07 L328.3 52.06 L328.8 52.04 L329.3 52.02 L329.8 52.01 L330.3 51.99 L330.8 51.97 L331.3 51.95 L331.8 51.93 L332.3 51.9 L332.8 51.88 L333.3 51.85 L333.8 51.83 L334.3 51.8 L334.8 51.78 L335.3 51.75 L335.8 51.72 L336.3 51.7 L336.8 51.67 L337.3 51.65 L337.8 51.6 L338.3 51.32 L338.8 50.95 L339.3 50.47 L339.8 49.87 L340.3 49.14 L340.8 48.31 L341.3 47.38 L341.8 46.4 L342.3 45.4 L342.8 44.45 L343.3 43.61 L343.8 42.94 L344.3 42.5 L344.8 42.31 L345.3 42.45 L345.8 43.06 L346.3 43.85 L346.8 44.31 L347.3 44.74 L347.8 45.13 L348.3 45.5 L348.8 45.83 L349.3 46.13 L349.8 46.42 L350.3 46.68 L350.8 46.92 L351.3 47.14 L351.8 47.35 L352.3 47.54 L352.8 47.72 L353.3 47.88 L353.8 48.04 L354.3 48.18 L354.8 48.32 L355.3 48.45 L355.8 48.57 L356.3 48.68 L356.8 48.78 L357.3 48.88 L357.8 48.98 L358.3 49.07 L358.8 49.15 L359.3 49.23 L359.8 49.31 L360.3 49.38 L360.8 49.45 L361.3 49.51 L361.8 49.58 L362.3 49.64 L362.8 49.7 L363.3 49.75 L363.8 49.81 L364.3 49.86 L364.8 49.91 L365.3 49.96 L365.8 50 L366.3 50.05 L366.8 50.09 L367.3 50.14 L367.8 50.18 L368.3 50.22 L368.8 50.26 L369.3 50.29 L369.8 50.33 L370.3 50.37 L370.8 50.4 L371.3 50.44 L371.8 50.47 L372.3 50.5 L372.8 50.53 L373.3 50.57 L373.8 50.6 L374.3 50.63 L374.8 50.65 L375.3 50.68 L375.8 50.71 L376.3 50.74 L376.8 50.76 L377.3 50.79 L377.8 50.82 L378.3 50.84 L378.8 50.87 L379.3 50.89 L379.3 52.2 L323.3 52.2 Z" stroke="none" fill="#c9652c" stroke-width="1" fill-opacity="0.35"/>
<path d="M323.3 52.16 L323.8 52.15 L324.3 52.14 L324.8 52.13 L325.3 52.13 L325.8 52.12 L326.3 52.11 L326.8 52.1 L327.3 52.08 L327.8 52.07 L328.3 52.06 L328.8 52.04 L329.3 52.02 L329.8 52.01 L330.3 51.99 L330.8 51.97 L331.3 51.95 L331.8 51.93 L332.3 51.9 L332.8 51.88 L333.3 51.85 L333.8 51.83 L334.3 51.8 L334.8 51.78 L335.3 51.75 L335.8 51.72 L336.3 51.7 L336.8 51.67 L337.3 51.65 L337.8 51.6 L338.3 51.32 L338.8 50.95 L339.3 50.47 L339.8 49.87 L340.3 49.14 L340.8 48.31 L341.3 47.38 L341.8 46.4 L342.3 45.4 L342.8 44.45 L343.3 43.61 L343.8 42.94 L344.3 42.5 L344.8 42.31 L345.3 42.45 L345.8 43.06 L346.3 43.85 L346.8 44.31 L347.3 44.74 L347.8 45.13 L348.3 45.5 L348.8 45.83 L349.3 46.13 L349.8 46.42 L350.3 46.68 L350.8 46.92 L351.3 47.14 L351.8 47.35 L352.3 47.54 L352.8 47.72 L353.3 47.88 L353.8 48.04 L354.3 48.18 L354.8 48.32 L355.3 48.45 L355.8 48.57 L356.3 48.68 L356.8 48.78 L357.3 48.88 L357.8 48.98 L358.3 49.07 L358.8 49.15 L359.3 49.23 L359.8 49.31 L360.3 49.38 L360.8 49.45 L361.3 49.51 L361.8 49.58 L362.3 49.64 L362.8 49.7 L363.3 49.75 L363.8 49.81 L364.3 49.86 L364.8 49.91 L365.3 49.96 L365.8 50 L366.3 50.05 L366.8 50.09 L367.3 50.14 L367.8 50.18 L368.3 50.22 L368.8 50.26 L369.3 50.29 L369.8 50.33 L370.3 50.37 L370.8 50.4 L371.3 50.44 L371.8 50.47 L372.3 50.5 L372.8 50.53 L373.3 50.57 L373.8 50.6 L374.3 50.63 L374.8 50.65 L375.3 50.68 L375.8 50.71 L376.3 50.74 L376.8 50.76 L377.3 50.79 L377.8 50.82 L378.3 50.84 L378.8 50.87 L379.3 50.89" stroke="#c9652c" fill="none" stroke-width="1.4" stroke-linejoin="round"/>
<text x="378.8" y="51.2" font-size="8.6" text-anchor="end">500</text>
<path d="M323.3 63.26 L323.8 63.26 L324.3 63.25 L324.8 63.24 L325.3 63.23 L325.8 63.23 L326.3 63.22 L326.8 63.21 L327.3 63.2 L327.8 63.18 L328.3 63.17 L328.8 63.16 L329.3 63.14 L329.8 63.12 L330.3 63.11 L330.8 63.09 L331.3 63.07 L331.8 63.05 L332.3 63.03 L332.8 63 L333.3 62.98 L333.8 62.95 L334.3 62.93 L334.8 62.9 L335.3 62.88 L335.8 62.85 L336.3 62.82 L336.8 62.8 L337.3 62.77 L337.8 62.75 L338.3 62.7 L338.8 62.42 L339.3 62.05 L339.8 61.57 L340.3 60.97 L340.8 60.24 L341.3 59.41 L341.8 58.48 L342.3 57.5 L342.8 56.5 L343.3 55.55 L343.8 54.71 L344.3 54.04 L344.8 53.6 L345.3 53.41 L345.8 53.55 L346.3 54.16 L346.8 54.95 L347.3 55.41 L347.8 55.84 L348.3 56.23 L348.8 56.6 L349.3 56.93 L349.8 57.23 L350.3 57.52 L350.8 57.78 L351.3 58.02 L351.8 58.24 L352.3 58.45 L352.8 58.64 L353.3 58.82 L353.8 58.98 L354.3 59.14 L354.8 59.28 L355.3 59.42 L355.8 59.55 L356.3 59.67 L356.8 59.78 L357.3 59.88 L357.8 59.98 L358.3 60.08 L358.8 60.17 L359.3 60.25 L359.8 60.33 L360.3 60.41 L360.8 60.48 L361.3 60.55 L361.8 60.61 L362.3 60.68 L362.8 60.74 L363.3 60.8 L363.8 60.85 L364.3 60.91 L364.8 60.96 L365.3 61.01 L365.8 61.06 L366.3 61.1 L366.8 61.15 L367.3 61.19 L367.8 61.24 L368.3 61.28 L368.8 61.32 L369.3 61.36 L369.8 61.39 L370.3 61.43 L370.8 61.47 L371.3 61.5 L371.8 61.54 L372.3 61.57 L372.8 61.6 L373.3 61.63 L373.8 61.67 L374.3 61.7 L374.8 61.73 L375.3 61.75 L375.8 61.78 L376.3 61.81 L376.8 61.84 L377.3 61.86 L377.8 61.89 L378.3 61.92 L378.8 61.94 L379.3 61.97 L379.3 63.3 L323.3 63.3 Z" stroke="none" fill="#f0903c" stroke-width="1" fill-opacity="0.35"/>
<path d="M323.3 63.26 L323.8 63.26 L324.3 63.25 L324.8 63.24 L325.3 63.23 L325.8 63.23 L326.3 63.22 L326.8 63.21 L327.3 63.2 L327.8 63.18 L328.3 63.17 L328.8 63.16 L329.3 63.14 L329.8 63.12 L330.3 63.11 L330.8 63.09 L331.3 63.07 L331.8 63.05 L332.3 63.03 L332.8 63 L333.3 62.98 L333.8 62.95 L334.3 62.93 L334.8 62.9 L335.3 62.88 L335.8 62.85 L336.3 62.82 L336.8 62.8 L337.3 62.77 L337.8 62.75 L338.3 62.7 L338.8 62.42 L339.3 62.05 L339.8 61.57 L340.3 60.97 L340.8 60.24 L341.3 59.41 L341.8 58.48 L342.3 57.5 L342.8 56.5 L343.3 55.55 L343.8 54.71 L344.3 54.04 L344.8 53.6 L345.3 53.41 L345.8 53.55 L346.3 54.16 L346.8 54.95 L347.3 55.41 L347.8 55.84 L348.3 56.23 L348.8 56.6 L349.3 56.93 L349.8 57.23 L350.3 57.52 L350.8 57.78 L351.3 58.02 L351.8 58.24 L352.3 58.45 L352.8 58.64 L353.3 58.82 L353.8 58.98 L354.3 59.14 L354.8 59.28 L355.3 59.42 L355.8 59.55 L356.3 59.67 L356.8 59.78 L357.3 59.88 L357.8 59.98 L358.3 60.08 L358.8 60.17 L359.3 60.25 L359.8 60.33 L360.3 60.41 L360.8 60.48 L361.3 60.55 L361.8 60.61 L362.3 60.68 L362.8 60.74 L363.3 60.8 L363.8 60.85 L364.3 60.91 L364.8 60.96 L365.3 61.01 L365.8 61.06 L366.3 61.1 L366.8 61.15 L367.3 61.19 L367.8 61.24 L368.3 61.28 L368.8 61.32 L369.3 61.36 L369.8 61.39 L370.3 61.43 L370.8 61.47 L371.3 61.5 L371.8 61.54 L372.3 61.57 L372.8 61.6 L373.3 61.63 L373.8 61.67 L374.3 61.7 L374.8 61.73 L375.3 61.75 L375.8 61.78 L376.3 61.81 L376.8 61.84 L377.3 61.86 L377.8 61.89 L378.3 61.92 L378.8 61.94 L379.3 61.97" stroke="#f0903c" fill="none" stroke-width="1.4" stroke-linejoin="round"/>
<text x="378.8" y="62.3" font-size="8.6" text-anchor="end">250</text>
<path d="M323.3 74.35 L323.8 74.35 L324.3 74.34 L324.8 74.33 L325.3 74.32 L325.8 74.31 L326.3 74.3 L326.8 74.29 L327.3 74.27 L327.8 74.26 L328.3 74.24 L328.8 74.23 L329.3 74.21 L329.8 74.19 L330.3 74.17 L330.8 74.14 L331.3 74.12 L331.8 74.09 L332.3 74.07 L332.8 74.04 L333.3 74.02 L333.8 73.99 L334.3 73.96 L334.8 73.93 L335.3 73.9 L335.8 73.87 L336.3 73.85 L336.8 73.78 L337.3 73.48 L337.8 73.06 L338.3 72.52 L338.8 71.83 L339.3 71.01 L339.8 70.07 L340.3 69.04 L340.8 67.97 L341.3 66.93 L341.8 65.99 L342.3 65.24 L342.8 64.72 L343.3 64.51 L343.8 64.65 L344.3 65.26 L344.8 66.06 L345.3 66.54 L345.8 66.98 L346.3 67.38 L346.8 67.76 L347.3 68.11 L347.8 68.43 L348.3 68.73 L348.8 69.01 L349.3 69.27 L349.8 69.51 L350.3 69.74 L350.8 69.94 L351.3 70.14 L351.8 70.32 L352.3 70.49 L352.8 70.65 L353.3 70.8 L353.8 70.94 L354.3 71.07 L354.8 71.19 L355.3 71.31 L355.8 71.41 L356.3 71.52 L356.8 71.61 L357.3 71.71 L357.8 71.79 L358.3 71.88 L358.8 71.95 L359.3 72.03 L359.8 72.1 L360.3 72.17 L360.8 72.23 L361.3 72.29 L361.8 72.35 L362.3 72.41 L362.8 72.46 L363.3 72.51 L363.8 72.56 L364.3 72.61 L364.8 72.66 L365.3 72.7 L365.8 72.74 L366.3 72.78 L366.8 72.82 L367.3 72.86 L367.8 72.9 L368.3 72.93 L368.8 72.97 L369.3 73 L369.8 73.03 L370.3 73.06 L370.8 73.09 L371.3 73.12 L371.8 73.15 L372.3 73.18 L372.8 73.21 L373.3 73.23 L373.8 73.26 L374.3 73.29 L374.8 73.31 L375.3 73.33 L375.8 73.36 L376.3 73.38 L376.8 73.4 L377.3 73.42 L377.8 73.44 L378.3 73.46 L378.8 73.48 L379.3 73.5 L379.3 74.4 L323.3 74.4 Z" stroke="none" fill="#fbbf86" stroke-width="1" fill-opacity="0.35"/>
<path d="M323.3 74.35 L323.8 74.35 L324.3 74.34 L324.8 74.33 L325.3 74.32 L325.8 74.31 L326.3 74.3 L326.8 74.29 L327.3 74.27 L327.8 74.26 L328.3 74.24 L328.8 74.23 L329.3 74.21 L329.8 74.19 L330.3 74.17 L330.8 74.14 L331.3 74.12 L331.8 74.09 L332.3 74.07 L332.8 74.04 L333.3 74.02 L333.8 73.99 L334.3 73.96 L334.8 73.93 L335.3 73.9 L335.8 73.87 L336.3 73.85 L336.8 73.78 L337.3 73.48 L337.8 73.06 L338.3 72.52 L338.8 71.83 L339.3 71.01 L339.8 70.07 L340.3 69.04 L340.8 67.97 L341.3 66.93 L341.8 65.99 L342.3 65.24 L342.8 64.72 L343.3 64.51 L343.8 64.65 L344.3 65.26 L344.8 66.06 L345.3 66.54 L345.8 66.98 L346.3 67.38 L346.8 67.76 L347.3 68.11 L347.8 68.43 L348.3 68.73 L348.8 69.01 L349.3 69.27 L349.8 69.51 L350.3 69.74 L350.8 69.94 L351.3 70.14 L351.8 70.32 L352.3 70.49 L352.8 70.65 L353.3 70.8 L353.8 70.94 L354.3 71.07 L354.8 71.19 L355.3 71.31 L355.8 71.41 L356.3 71.52 L356.8 71.61 L357.3 71.71 L357.8 71.79 L358.3 71.88 L358.8 71.95 L359.3 72.03 L359.8 72.1 L360.3 72.17 L360.8 72.23 L361.3 72.29 L361.8 72.35 L362.3 72.41 L362.8 72.46 L363.3 72.51 L363.8 72.56 L364.3 72.61 L364.8 72.66 L365.3 72.7 L365.8 72.74 L366.3 72.78 L366.8 72.82 L367.3 72.86 L367.8 72.9 L368.3 72.93 L368.8 72.97 L369.3 73 L369.8 73.03 L370.3 73.06 L370.8 73.09 L371.3 73.12 L371.8 73.15 L372.3 73.18 L372.8 73.21 L373.3 73.23 L373.8 73.26 L374.3 73.29 L374.8 73.31 L375.3 73.33 L375.8 73.36 L376.3 73.38 L376.8 73.4 L377.3 73.42 L377.8 73.44 L378.3 73.46 L378.8 73.48 L379.3 73.5" stroke="#fbbf86" fill="none" stroke-width="1.4" stroke-linejoin="round"/>
<text x="378.8" y="73.4" font-size="8.6" text-anchor="end">125</text>
<path d="M323.3 85.5 L323.8 85.5 L324.3 85.5 L324.8 85.5 L325.3 85.5 L325.8 85.5 L326.3 85.5 L326.8 85.5 L327.3 85.49 L327.8 85.48 L328.3 85.45 L328.8 85.37 L329.3 85.21 L329.8 84.9 L330.3 84.36 L330.8 83.54 L331.3 82.4 L331.8 81 L332.3 79.52 L332.8 78.2 L333.3 77.33 L333.8 77.11 L334.3 77.61 L334.8 78.69 L335.3 80.11 L335.8 81.58 L336.3 82.89 L336.8 83.91 L337.3 84.61 L337.8 85.04 L338.3 85.28 L338.8 85.41 L339.3 85.46 L339.8 85.49 L340.3 85.5 L340.8 85.5 L341.3 85.5 L341.8 85.5 L342.3 85.5 L342.8 85.5 L343.3 85.5 L343.8 85.5 L344.3 85.5 L344.8 85.5 L345.3 85.5 L345.8 85.5 L346.3 85.5 L346.8 85.5 L347.3 85.5 L347.8 85.5 L348.3 85.5 L348.8 85.5 L349.3 85.5 L349.8 85.5 L350.3 85.5 L350.8 85.5 L351.3 85.5 L351.8 85.5 L352.3 85.5 L352.8 85.5 L353.3 85.5 L353.8 85.5 L354.3 85.5 L354.8 85.5 L355.3 85.5 L355.8 85.5 L356.3 85.5 L356.8 85.5 L357.3 85.5 L357.8 85.5 L358.3 85.5 L358.8 85.5 L359.3 85.5 L359.8 85.5 L360.3 85.5 L360.8 85.5 L361.3 85.5 L361.8 85.5 L362.3 85.5 L362.8 85.5 L363.3 85.5 L363.8 85.5 L364.3 85.5 L364.8 85.5 L365.3 85.5 L365.8 85.5 L366.3 85.5 L366.8 85.5 L367.3 85.5 L367.8 85.5 L368.3 85.5 L368.8 85.5 L369.3 85.5 L369.8 85.5 L370.3 85.5 L370.8 85.5 L371.3 85.5 L371.8 85.5 L372.3 85.5 L372.8 85.5 L373.3 85.5 L373.8 85.5 L374.3 85.5 L374.8 85.5 L375.3 85.5 L375.8 85.5 L376.3 85.5 L376.8 85.5 L377.3 85.5 L377.8 85.5 L378.3 85.5 L378.8 85.5 L379.3 85.5 L379.3 85.5 L323.3 85.5 Z" stroke="none" fill="#8c8c8c" stroke-width="1" fill-opacity="0.5"/>
<path d="M323.3 85.5 L323.8 85.5 L324.3 85.5 L324.8 85.5 L325.3 85.5 L325.8 85.5 L326.3 85.5 L326.8 85.5 L327.3 85.49 L327.8 85.48 L328.3 85.45 L328.8 85.37 L329.3 85.21 L329.8 84.9 L330.3 84.36 L330.8 83.54 L331.3 82.4 L331.8 81 L332.3 79.52 L332.8 78.2 L333.3 77.33 L333.8 77.11 L334.3 77.61 L334.8 78.69 L335.3 80.11 L335.8 81.58 L336.3 82.89 L336.8 83.91 L337.3 84.61 L337.8 85.04 L338.3 85.28 L338.8 85.41 L339.3 85.46 L339.8 85.49 L340.3 85.5 L340.8 85.5 L341.3 85.5 L341.8 85.5 L342.3 85.5 L342.8 85.5 L343.3 85.5 L343.8 85.5 L344.3 85.5 L344.8 85.5 L345.3 85.5 L345.8 85.5 L346.3 85.5 L346.8 85.5 L347.3 85.5 L347.8 85.5 L348.3 85.5 L348.8 85.5 L349.3 85.5 L349.8 85.5 L350.3 85.5 L350.8 85.5 L351.3 85.5 L351.8 85.5 L352.3 85.5 L352.8 85.5 L353.3 85.5 L353.8 85.5 L354.3 85.5 L354.8 85.5 L355.3 85.5 L355.8 85.5 L356.3 85.5 L356.8 85.5 L357.3 85.5 L357.8 85.5 L358.3 85.5 L358.8 85.5 L359.3 85.5 L359.8 85.5 L360.3 85.5 L360.8 85.5 L361.3 85.5 L361.8 85.5 L362.3 85.5 L362.8 85.5 L363.3 85.5 L363.8 85.5 L364.3 85.5 L364.8 85.5 L365.3 85.5 L365.8 85.5 L366.3 85.5 L366.8 85.5 L367.3 85.5 L367.8 85.5 L368.3 85.5 L368.8 85.5 L369.3 85.5 L369.8 85.5 L370.3 85.5 L370.8 85.5 L371.3 85.5 L371.8 85.5 L372.3 85.5 L372.8 85.5 L373.3 85.5 L373.8 85.5 L374.3 85.5 L374.8 85.5 L375.3 85.5 L375.8 85.5 L376.3 85.5 L376.8 85.5 L377.3 85.5 L377.8 85.5 L378.3 85.5 L378.8 85.5 L379.3 85.5" stroke="#8c8c8c" fill="none" stroke-width="1.1" stroke-linejoin="round"/>
<text x="378.8" y="84.5" font-size="8.6" text-anchor="end">0</text>
<line x1="325.3" y1="85.4" x2="325.3" y2="87" stroke="#555" stroke-width="0.5"/>
<line x1="330.03" y1="85.4" x2="330.03" y2="86.3" stroke="#555" stroke-width="0.5"/>
<line x1="334.75" y1="85.4" x2="334.75" y2="86.3" stroke="#555" stroke-width="0.5"/>
<line x1="339.48" y1="85.4" x2="339.48" y2="87" stroke="#555" stroke-width="0.5"/>
<line x1="344.21" y1="85.4" x2="344.21" y2="86.3" stroke="#555" stroke-width="0.5"/>
<line x1="348.94" y1="85.4" x2="348.94" y2="86.3" stroke="#555" stroke-width="0.5"/>
<line x1="353.66" y1="85.4" x2="353.66" y2="87" stroke="#555" stroke-width="0.5"/>
<line x1="358.39" y1="85.4" x2="358.39" y2="86.3" stroke="#555" stroke-width="0.5"/>
<line x1="363.12" y1="85.4" x2="363.12" y2="86.3" stroke="#555" stroke-width="0.5"/>
<line x1="367.85" y1="85.4" x2="367.85" y2="87" stroke="#555" stroke-width="0.5"/>
<line x1="372.57" y1="85.4" x2="372.57" y2="86.3" stroke="#555" stroke-width="0.5"/>
<line x1="377.3" y1="85.4" x2="377.3" y2="86.3" stroke="#555" stroke-width="0.5"/>
<rect x="387.3" y="29.9" width="56" height="55.5" fill="#fff" stroke="#9a9a9a" stroke-width="0.7"/>
<text x="443.3" y="29.5" font-size="8.6" text-anchor="end">MOI</text>
<path d="M387.3 41.1 L387.8 41.1 L388.3 41.1 L388.8 41.1 L389.3 41.1 L389.8 41.1 L390.3 41.1 L390.8 41.1 L391.3 41.1 L391.8 41.1 L392.3 41.1 L392.8 41.1 L393.3 41.1 L393.8 41.1 L394.3 41.1 L394.8 41.1 L395.3 41.1 L395.8 41.1 L396.3 41.1 L396.8 41.1 L397.3 41.09 L397.8 41.09 L398.3 41.08 L398.8 41.06 L399.3 41.04 L399.8 41.01 L400.3 40.97 L400.8 40.9 L401.3 40.81 L401.8 40.69 L402.3 40.52 L402.8 40.3 L403.3 40.03 L403.8 39.68 L404.3 39.26 L404.8 38.76 L405.3 38.24 L405.8 37.67 L406.3 36.72 L406.8 36.29 L407.3 35.22 L407.8 34.56 L408.3 34.11 L408.8 33.04 L409.3 32.96 L409.8 32.13 L410.3 32.27 L410.8 32.16 L411.3 31.8 L411.8 31.41 L412.3 32.28 L412.8 32.29 L413.3 32.01 L413.8 31.87 L414.3 32.48 L414.8 32.91 L415.3 32.62 L415.8 33.79 L416.3 33.36 L416.8 34.18 L417.3 34.63 L417.8 34.98 L418.3 35.18 L418.8 35.18 L419.3 35.96 L419.8 36.06 L420.3 36.38 L420.8 36.86 L421.3 37.1 L421.8 37.64 L422.3 37.93 L422.8 38.16 L423.3 38.33 L423.8 38.59 L424.3 38.84 L424.8 39.07 L425.3 39.28 L425.8 39.48 L426.3 39.66 L426.8 39.83 L427.3 39.98 L427.8 40.12 L428.3 40.24 L428.8 40.35 L429.3 40.45 L429.8 40.54 L430.3 40.62 L430.8 40.69 L431.3 40.75 L431.8 40.8 L432.3 40.85 L432.8 40.88 L433.3 40.89 L433.8 40.9 L434.3 40.9 L434.8 40.91 L435.3 40.92 L435.8 40.92 L436.3 40.93 L436.8 40.93 L437.3 40.94 L437.8 40.94 L438.3 40.95 L438.8 40.95 L439.3 40.96 L439.8 40.96 L440.3 40.97 L440.8 40.97 L441.3 40.98 L441.8 40.98 L442.3 40.98 L442.8 40.99 L443.3 40.99 L443.3 41.1 L387.3 41.1 Z" stroke="none" fill="#8a4b2c" stroke-width="1" fill-opacity="0.35"/>
<path d="M387.3 41.1 L387.8 41.1 L388.3 41.1 L388.8 41.1 L389.3 41.1 L389.8 41.1 L390.3 41.1 L390.8 41.1 L391.3 41.1 L391.8 41.1 L392.3 41.1 L392.8 41.1 L393.3 41.1 L393.8 41.1 L394.3 41.1 L394.8 41.1 L395.3 41.1 L395.8 41.1 L396.3 41.1 L396.8 41.1 L397.3 41.09 L397.8 41.09 L398.3 41.08 L398.8 41.06 L399.3 41.04 L399.8 41.01 L400.3 40.97 L400.8 40.9 L401.3 40.81 L401.8 40.69 L402.3 40.52 L402.8 40.3 L403.3 40.03 L403.8 39.68 L404.3 39.26 L404.8 38.76 L405.3 38.24 L405.8 37.67 L406.3 36.72 L406.8 36.29 L407.3 35.22 L407.8 34.56 L408.3 34.11 L408.8 33.04 L409.3 32.96 L409.8 32.13 L410.3 32.27 L410.8 32.16 L411.3 31.8 L411.8 31.41 L412.3 32.28 L412.8 32.29 L413.3 32.01 L413.8 31.87 L414.3 32.48 L414.8 32.91 L415.3 32.62 L415.8 33.79 L416.3 33.36 L416.8 34.18 L417.3 34.63 L417.8 34.98 L418.3 35.18 L418.8 35.18 L419.3 35.96 L419.8 36.06 L420.3 36.38 L420.8 36.86 L421.3 37.1 L421.8 37.64 L422.3 37.93 L422.8 38.16 L423.3 38.33 L423.8 38.59 L424.3 38.84 L424.8 39.07 L425.3 39.28 L425.8 39.48 L426.3 39.66 L426.8 39.83 L427.3 39.98 L427.8 40.12 L428.3 40.24 L428.8 40.35 L429.3 40.45 L429.8 40.54 L430.3 40.62 L430.8 40.69 L431.3 40.75 L431.8 40.8 L432.3 40.85 L432.8 40.88 L433.3 40.89 L433.8 40.9 L434.3 40.9 L434.8 40.91 L435.3 40.92 L435.8 40.92 L436.3 40.93 L436.8 40.93 L437.3 40.94 L437.8 40.94 L438.3 40.95 L438.8 40.95 L439.3 40.96 L439.8 40.96 L440.3 40.97 L440.8 40.97 L441.3 40.98 L441.8 40.98 L442.3 40.98 L442.8 40.99 L443.3 40.99" stroke="#8a4b2c" fill="none" stroke-width="1.4" stroke-linejoin="round"/>
<text x="442.8" y="40.1" font-size="8.6" text-anchor="end">1000</text>
<path d="M387.3 52.2 L387.8 52.2 L388.3 52.2 L388.8 52.2 L389.3 52.2 L389.8 52.2 L390.3 52.2 L390.8 52.2 L391.3 52.2 L391.8 52.2 L392.3 52.2 L392.8 52.2 L393.3 52.2 L393.8 52.2 L394.3 52.2 L394.8 52.2 L395.3 52.2 L395.8 52.2 L396.3 52.2 L396.8 52.19 L397.3 52.19 L397.8 52.18 L398.3 52.16 L398.8 52.14 L399.3 52.11 L399.8 52.06 L400.3 51.99 L400.8 51.9 L401.3 51.76 L401.8 51.58 L402.3 51.35 L402.8 51.04 L403.3 50.66 L403.8 50.2 L404.3 49.65 L404.8 49.15 L405.3 48.03 L405.8 47.79 L406.3 46.54 L406.8 46.27 L407.3 45.34 L407.8 43.73 L408.3 44.04 L408.8 42.96 L409.3 42.85 L409.8 42.68 L410.3 42.61 L410.8 43.08 L411.3 42.22 L411.8 43.35 L412.3 43.25 L412.8 43.67 L413.3 43.48 L413.8 43.46 L414.3 43.01 L414.8 43.9 L415.3 44.46 L415.8 44.52 L416.3 43.93 L416.8 45.26 L417.3 44.93 L417.8 45.47 L418.3 45.49 L418.8 46.1 L419.3 46.08 L419.8 46.56 L420.3 46.75 L420.8 46.87 L421.3 47.41 L421.8 48 L422.3 48.32 L422.8 48.07 L423.3 48.6 L423.8 49.01 L424.3 48.9 L424.8 49.35 L425.3 49.58 L425.8 49.79 L426.3 50 L426.8 50.19 L427.3 50.37 L427.8 50.54 L428.3 50.7 L428.8 50.85 L429.3 50.98 L429.8 51.11 L430.3 51.22 L430.8 51.33 L431.3 51.42 L431.8 51.51 L432.3 51.59 L432.8 51.66 L433.3 51.73 L433.8 51.78 L434.3 51.84 L434.8 51.88 L435.3 51.92 L435.8 51.96 L436.3 51.99 L436.8 52.02 L437.3 52.04 L437.8 52.05 L438.3 52.05 L438.8 52.06 L439.3 52.06 L439.8 52.07 L440.3 52.07 L440.8 52.08 L441.3 52.08 L441.8 52.08 L442.3 52.09 L442.8 52.09 L443.3 52.1 L443.3 52.2 L387.3 52.2 Z" stroke="none" fill="#c9652c" stroke-width="1" fill-opacity="0.35"/>
<path d="M387.3 52.2 L387.8 52.2 L388.3 52.2 L388.8 52.2 L389.3 52.2 L389.8 52.2 L390.3 52.2 L390.8 52.2 L391.3 52.2 L391.8 52.2 L392.3 52.2 L392.8 52.2 L393.3 52.2 L393.8 52.2 L394.3 52.2 L394.8 52.2 L395.3 52.2 L395.8 52.2 L396.3 52.2 L396.8 52.19 L397.3 52.19 L397.8 52.18 L398.3 52.16 L398.8 52.14 L399.3 52.11 L399.8 52.06 L400.3 51.99 L400.8 51.9 L401.3 51.76 L401.8 51.58 L402.3 51.35 L402.8 51.04 L403.3 50.66 L403.8 50.2 L404.3 49.65 L404.8 49.15 L405.3 48.03 L405.8 47.79 L406.3 46.54 L406.8 46.27 L407.3 45.34 L407.8 43.73 L408.3 44.04 L408.8 42.96 L409.3 42.85 L409.8 42.68 L410.3 42.61 L410.8 43.08 L411.3 42.22 L411.8 43.35 L412.3 43.25 L412.8 43.67 L413.3 43.48 L413.8 43.46 L414.3 43.01 L414.8 43.9 L415.3 44.46 L415.8 44.52 L416.3 43.93 L416.8 45.26 L417.3 44.93 L417.8 45.47 L418.3 45.49 L418.8 46.1 L419.3 46.08 L419.8 46.56 L420.3 46.75 L420.8 46.87 L421.3 47.41 L421.8 48 L422.3 48.32 L422.8 48.07 L423.3 48.6 L423.8 49.01 L424.3 48.9 L424.8 49.35 L425.3 49.58 L425.8 49.79 L426.3 50 L426.8 50.19 L427.3 50.37 L427.8 50.54 L428.3 50.7 L428.8 50.85 L429.3 50.98 L429.8 51.11 L430.3 51.22 L430.8 51.33 L431.3 51.42 L431.8 51.51 L432.3 51.59 L432.8 51.66 L433.3 51.73 L433.8 51.78 L434.3 51.84 L434.8 51.88 L435.3 51.92 L435.8 51.96 L436.3 51.99 L436.8 52.02 L437.3 52.04 L437.8 52.05 L438.3 52.05 L438.8 52.06 L439.3 52.06 L439.8 52.07 L440.3 52.07 L440.8 52.08 L441.3 52.08 L441.8 52.08 L442.3 52.09 L442.8 52.09 L443.3 52.1" stroke="#c9652c" fill="none" stroke-width="1.4" stroke-linejoin="round"/>
<text x="442.8" y="51.2" font-size="8.6" text-anchor="end">500</text>
<path d="M387.3 63.3 L387.8 63.3 L388.3 63.3 L388.8 63.3 L389.3 63.3 L389.8 63.3 L390.3 63.3 L390.8 63.3 L391.3 63.3 L391.8 63.3 L392.3 63.3 L392.8 63.3 L393.3 63.3 L393.8 63.3 L394.3 63.3 L394.8 63.3 L395.3 63.3 L395.8 63.3 L396.3 63.29 L396.8 63.29 L397.3 63.28 L397.8 63.27 L398.3 63.25 L398.8 63.21 L399.3 63.17 L399.8 63.1 L400.3 63.01 L400.8 62.88 L401.3 62.71 L401.8 62.48 L402.3 62.19 L402.8 61.83 L403.3 61.38 L403.8 60.86 L404.3 60.27 L404.8 59.64 L405.3 59.06 L405.8 57.75 L406.3 57.69 L406.8 56.46 L407.3 55.3 L407.8 55.64 L408.3 54.55 L408.8 54.12 L409.3 54.75 L409.8 54.27 L410.3 53.87 L410.8 54.3 L411.3 54.06 L411.8 54.97 L412.3 55.06 L412.8 55.44 L413.3 55.2 L413.8 55 L414.3 55.7 L414.8 55.84 L415.3 56.6 L415.8 56.6 L416.3 57.57 L416.8 57.75 L417.3 57.8 L417.8 58.14 L418.3 58.73 L418.8 59.3 L419.3 59.52 L419.8 59.87 L420.3 60.14 L420.8 60.21 L421.3 60.63 L421.8 60.9 L422.3 61.16 L422.8 61.39 L423.3 61.61 L423.8 61.81 L424.3 61.99 L424.8 62.15 L425.3 62.3 L425.8 62.43 L426.3 62.55 L426.8 62.66 L427.3 62.75 L427.8 62.83 L428.3 62.9 L428.8 62.96 L429.3 63.01 L429.8 63.01 L430.3 63.02 L430.8 63.03 L431.3 63.04 L431.8 63.05 L432.3 63.06 L432.8 63.07 L433.3 63.07 L433.8 63.08 L434.3 63.09 L434.8 63.1 L435.3 63.1 L435.8 63.11 L436.3 63.12 L436.8 63.12 L437.3 63.13 L437.8 63.13 L438.3 63.14 L438.8 63.14 L439.3 63.15 L439.8 63.15 L440.3 63.16 L440.8 63.16 L441.3 63.17 L441.8 63.17 L442.3 63.18 L442.8 63.18 L443.3 63.18 L443.3 63.3 L387.3 63.3 Z" stroke="none" fill="#f0903c" stroke-width="1" fill-opacity="0.35"/>
<path d="M387.3 63.3 L387.8 63.3 L388.3 63.3 L388.8 63.3 L389.3 63.3 L389.8 63.3 L390.3 63.3 L390.8 63.3 L391.3 63.3 L391.8 63.3 L392.3 63.3 L392.8 63.3 L393.3 63.3 L393.8 63.3 L394.3 63.3 L394.8 63.3 L395.3 63.3 L395.8 63.3 L396.3 63.29 L396.8 63.29 L397.3 63.28 L397.8 63.27 L398.3 63.25 L398.8 63.21 L399.3 63.17 L399.8 63.1 L400.3 63.01 L400.8 62.88 L401.3 62.71 L401.8 62.48 L402.3 62.19 L402.8 61.83 L403.3 61.38 L403.8 60.86 L404.3 60.27 L404.8 59.64 L405.3 59.06 L405.8 57.75 L406.3 57.69 L406.8 56.46 L407.3 55.3 L407.8 55.64 L408.3 54.55 L408.8 54.12 L409.3 54.75 L409.8 54.27 L410.3 53.87 L410.8 54.3 L411.3 54.06 L411.8 54.97 L412.3 55.06 L412.8 55.44 L413.3 55.2 L413.8 55 L414.3 55.7 L414.8 55.84 L415.3 56.6 L415.8 56.6 L416.3 57.57 L416.8 57.75 L417.3 57.8 L417.8 58.14 L418.3 58.73 L418.8 59.3 L419.3 59.52 L419.8 59.87 L420.3 60.14 L420.8 60.21 L421.3 60.63 L421.8 60.9 L422.3 61.16 L422.8 61.39 L423.3 61.61 L423.8 61.81 L424.3 61.99 L424.8 62.15 L425.3 62.3 L425.8 62.43 L426.3 62.55 L426.8 62.66 L427.3 62.75 L427.8 62.83 L428.3 62.9 L428.8 62.96 L429.3 63.01 L429.8 63.01 L430.3 63.02 L430.8 63.03 L431.3 63.04 L431.8 63.05 L432.3 63.06 L432.8 63.07 L433.3 63.07 L433.8 63.08 L434.3 63.09 L434.8 63.1 L435.3 63.1 L435.8 63.11 L436.3 63.12 L436.8 63.12 L437.3 63.13 L437.8 63.13 L438.3 63.14 L438.8 63.14 L439.3 63.15 L439.8 63.15 L440.3 63.16 L440.8 63.16 L441.3 63.17 L441.8 63.17 L442.3 63.18 L442.8 63.18 L443.3 63.18" stroke="#f0903c" fill="none" stroke-width="1.4" stroke-linejoin="round"/>
<text x="442.8" y="62.3" font-size="8.6" text-anchor="end">250</text>
<path d="M387.3 74.4 L387.8 74.4 L388.3 74.4 L388.8 74.4 L389.3 74.4 L389.8 74.4 L390.3 74.4 L390.8 74.4 L391.3 74.4 L391.8 74.4 L392.3 74.4 L392.8 74.4 L393.3 74.4 L393.8 74.4 L394.3 74.4 L394.8 74.39 L395.3 74.39 L395.8 74.38 L396.3 74.37 L396.8 74.35 L397.3 74.33 L397.8 74.28 L398.3 74.22 L398.8 74.13 L399.3 74.01 L399.8 73.84 L400.3 73.61 L400.8 73.32 L401.3 72.94 L401.8 72.48 L402.3 71.93 L402.8 71.28 L403.3 70.56 L403.8 69.76 L404.3 68.92 L404.8 68.06 L405.3 67.23 L405.8 66.47 L406.3 65.81 L406.8 65.29 L407.3 64.95 L407.8 64.8 L408.3 64.82 L408.8 64.89 L409.3 65.02 L409.8 65.2 L410.3 65.43 L410.8 65.71 L411.3 66.03 L411.8 66.38 L412.3 66.77 L412.8 67.17 L413.3 67.6 L413.8 68.04 L414.3 68.49 L414.8 68.94 L415.3 69.38 L415.8 69.81 L416.3 70.23 L416.8 70.64 L417.3 71.03 L417.8 71.39 L418.3 71.73 L418.8 72.05 L419.3 72.34 L419.8 72.6 L420.3 72.84 L420.8 73.06 L421.3 73.25 L421.8 73.42 L422.3 73.57 L422.8 73.71 L423.3 73.82 L423.8 73.92 L424.3 74 L424.8 74.07 L425.3 74.1 L425.8 74.11 L426.3 74.12 L426.8 74.13 L427.3 74.14 L427.8 74.15 L428.3 74.15 L428.8 74.16 L429.3 74.17 L429.8 74.18 L430.3 74.18 L430.8 74.19 L431.3 74.2 L431.8 74.2 L432.3 74.21 L432.8 74.22 L433.3 74.22 L433.8 74.23 L434.3 74.23 L434.8 74.24 L435.3 74.25 L435.8 74.25 L436.3 74.26 L436.8 74.26 L437.3 74.26 L437.8 74.27 L438.3 74.27 L438.8 74.28 L439.3 74.28 L439.8 74.29 L440.3 74.29 L440.8 74.29 L441.3 74.3 L441.8 74.3 L442.3 74.3 L442.8 74.31 L443.3 74.31 L443.3 74.4 L387.3 74.4 Z" stroke="none" fill="#fbbf86" stroke-width="1" fill-opacity="0.35"/>
<path d="M387.3 74.4 L387.8 74.4 L388.3 74.4 L388.8 74.4 L389.3 74.4 L389.8 74.4 L390.3 74.4 L390.8 74.4 L391.3 74.4 L391.8 74.4 L392.3 74.4 L392.8 74.4 L393.3 74.4 L393.8 74.4 L394.3 74.4 L394.8 74.39 L395.3 74.39 L395.8 74.38 L396.3 74.37 L396.8 74.35 L397.3 74.33 L397.8 74.28 L398.3 74.22 L398.8 74.13 L399.3 74.01 L399.8 73.84 L400.3 73.61 L400.8 73.32 L401.3 72.94 L401.8 72.48 L402.3 71.93 L402.8 71.28 L403.3 70.56 L403.8 69.76 L404.3 68.92 L404.8 68.06 L405.3 67.23 L405.8 66.47 L406.3 65.81 L406.8 65.29 L407.3 64.95 L407.8 64.8 L408.3 64.82 L408.8 64.89 L409.3 65.02 L409.8 65.2 L410.3 65.43 L410.8 65.71 L411.3 66.03 L411.8 66.38 L412.3 66.77 L412.8 67.17 L413.3 67.6 L413.8 68.04 L414.3 68.49 L414.8 68.94 L415.3 69.38 L415.8 69.81 L416.3 70.23 L416.8 70.64 L417.3 71.03 L417.8 71.39 L418.3 71.73 L418.8 72.05 L419.3 72.34 L419.8 72.6 L420.3 72.84 L420.8 73.06 L421.3 73.25 L421.8 73.42 L422.3 73.57 L422.8 73.71 L423.3 73.82 L423.8 73.92 L424.3 74 L424.8 74.07 L425.3 74.1 L425.8 74.11 L426.3 74.12 L426.8 74.13 L427.3 74.14 L427.8 74.15 L428.3 74.15 L428.8 74.16 L429.3 74.17 L429.8 74.18 L430.3 74.18 L430.8 74.19 L431.3 74.2 L431.8 74.2 L432.3 74.21 L432.8 74.22 L433.3 74.22 L433.8 74.23 L434.3 74.23 L434.8 74.24 L435.3 74.25 L435.8 74.25 L436.3 74.26 L436.8 74.26 L437.3 74.26 L437.8 74.27 L438.3 74.27 L438.8 74.28 L439.3 74.28 L439.8 74.29 L440.3 74.29 L440.8 74.29 L441.3 74.3 L441.8 74.3 L442.3 74.3 L442.8 74.31 L443.3 74.31" stroke="#fbbf86" fill="none" stroke-width="1.4" stroke-linejoin="round"/>
<text x="442.8" y="73.4" font-size="8.6" text-anchor="end">125</text>
<path d="M387.3 85.5 L387.8 85.5 L388.3 85.5 L388.8 85.5 L389.3 85.5 L389.8 85.5 L390.3 85.5 L390.8 85.5 L391.3 85.5 L391.8 85.5 L392.3 85.5 L392.8 85.5 L393.3 85.5 L393.8 85.5 L394.3 85.5 L394.8 85.5 L395.3 85.5 L395.8 85.5 L396.3 85.5 L396.8 85.49 L397.3 85.48 L397.8 85.45 L398.3 85.37 L398.8 85.21 L399.3 84.9 L399.8 84.36 L400.3 83.54 L400.8 82.4 L401.3 81 L401.8 79.52 L402.3 78.2 L402.8 77.33 L403.3 77.11 L403.8 77.61 L404.3 78.69 L404.8 80.11 L405.3 81.58 L405.8 82.89 L406.3 83.91 L406.8 84.61 L407.3 85.04 L407.8 85.28 L408.3 85.41 L408.8 85.46 L409.3 85.49 L409.8 85.5 L410.3 85.5 L410.8 85.5 L411.3 85.5 L411.8 85.5 L412.3 85.5 L412.8 85.5 L413.3 85.5 L413.8 85.5 L414.3 85.5 L414.8 85.5 L415.3 85.5 L415.8 85.5 L416.3 85.5 L416.8 85.5 L417.3 85.5 L417.8 85.5 L418.3 85.5 L418.8 85.5 L419.3 85.5 L419.8 85.5 L420.3 85.5 L420.8 85.5 L421.3 85.5 L421.8 85.5 L422.3 85.5 L422.8 85.5 L423.3 85.5 L423.8 85.5 L424.3 85.5 L424.8 85.5 L425.3 85.5 L425.8 85.5 L426.3 85.5 L426.8 85.5 L427.3 85.5 L427.8 85.5 L428.3 85.5 L428.8 85.5 L429.3 85.5 L429.8 85.5 L430.3 85.5 L430.8 85.5 L431.3 85.5 L431.8 85.5 L432.3 85.5 L432.8 85.5 L433.3 85.5 L433.8 85.5 L434.3 85.5 L434.8 85.5 L435.3 85.5 L435.8 85.5 L436.3 85.5 L436.8 85.5 L437.3 85.5 L437.8 85.5 L438.3 85.5 L438.8 85.5 L439.3 85.5 L439.8 85.5 L440.3 85.5 L440.8 85.5 L441.3 85.5 L441.8 85.5 L442.3 85.5 L442.8 85.5 L443.3 85.5 L443.3 85.5 L387.3 85.5 Z" stroke="none" fill="#8c8c8c" stroke-width="1" fill-opacity="0.5"/>
<path d="M387.3 85.5 L387.8 85.5 L388.3 85.5 L388.8 85.5 L389.3 85.5 L389.8 85.5 L390.3 85.5 L390.8 85.5 L391.3 85.5 L391.8 85.5 L392.3 85.5 L392.8 85.5 L393.3 85.5 L393.8 85.5 L394.3 85.5 L394.8 85.5 L395.3 85.5 L395.8 85.5 L396.3 85.5 L396.8 85.49 L397.3 85.48 L397.8 85.45 L398.3 85.37 L398.8 85.21 L399.3 84.9 L399.8 84.36 L400.3 83.54 L400.8 82.4 L401.3 81 L401.8 79.52 L402.3 78.2 L402.8 77.33 L403.3 77.11 L403.8 77.61 L404.3 78.69 L404.8 80.11 L405.3 81.58 L405.8 82.89 L406.3 83.91 L406.8 84.61 L407.3 85.04 L407.8 85.28 L408.3 85.41 L408.8 85.46 L409.3 85.49 L409.8 85.5 L410.3 85.5 L410.8 85.5 L411.3 85.5 L411.8 85.5 L412.3 85.5 L412.8 85.5 L413.3 85.5 L413.8 85.5 L414.3 85.5 L414.8 85.5 L415.3 85.5 L415.8 85.5 L416.3 85.5 L416.8 85.5 L417.3 85.5 L417.8 85.5 L418.3 85.5 L418.8 85.5 L419.3 85.5 L419.8 85.5 L420.3 85.5 L420.8 85.5 L421.3 85.5 L421.8 85.5 L422.3 85.5 L422.8 85.5 L423.3 85.5 L423.8 85.5 L424.3 85.5 L424.8 85.5 L425.3 85.5 L425.8 85.5 L426.3 85.5 L426.8 85.5 L427.3 85.5 L427.8 85.5 L428.3 85.5 L428.8 85.5 L429.3 85.5 L429.8 85.5 L430.3 85.5 L430.8 85.5 L431.3 85.5 L431.8 85.5 L432.3 85.5 L432.8 85.5 L433.3 85.5 L433.8 85.5 L434.3 85.5 L434.8 85.5 L435.3 85.5 L435.8 85.5 L436.3 85.5 L436.8 85.5 L437.3 85.5 L437.8 85.5 L438.3 85.5 L438.8 85.5 L439.3 85.5 L439.8 85.5 L440.3 85.5 L440.8 85.5 L441.3 85.5 L441.8 85.5 L442.3 85.5 L442.8 85.5 L443.3 85.5" stroke="#8c8c8c" fill="none" stroke-width="1.1" stroke-linejoin="round"/>
<text x="442.8" y="84.5" font-size="8.6" text-anchor="end">0</text>
<line x1="389.3" y1="85.4" x2="389.3" y2="87" stroke="#555" stroke-width="0.5"/>
<line x1="394.03" y1="85.4" x2="394.03" y2="86.3" stroke="#555" stroke-width="0.5"/>
<line x1="398.75" y1="85.4" x2="398.75" y2="86.3" stroke="#555" stroke-width="0.5"/>
<line x1="403.48" y1="85.4" x2="403.48" y2="87" stroke="#555" stroke-width="0.5"/>
<line x1="408.21" y1="85.4" x2="408.21" y2="86.3" stroke="#555" stroke-width="0.5"/>
<line x1="412.94" y1="85.4" x2="412.94" y2="86.3" stroke="#555" stroke-width="0.5"/>
<line x1="417.66" y1="85.4" x2="417.66" y2="87" stroke="#555" stroke-width="0.5"/>
<line x1="422.39" y1="85.4" x2="422.39" y2="86.3" stroke="#555" stroke-width="0.5"/>
<line x1="427.12" y1="85.4" x2="427.12" y2="86.3" stroke="#555" stroke-width="0.5"/>
<line x1="431.85" y1="85.4" x2="431.85" y2="87" stroke="#555" stroke-width="0.5"/>
<line x1="436.57" y1="85.4" x2="436.57" y2="86.3" stroke="#555" stroke-width="0.5"/>
<line x1="441.3" y1="85.4" x2="441.3" y2="86.3" stroke="#555" stroke-width="0.5"/>
<text x="328.6" y="92.4" font-size="4.6" text-anchor="middle" fill="#444">0</text>
<text x="349.5" y="92.4" font-size="4.6" text-anchor="middle" fill="#444">10</text>
<text x="352.2" y="89.8" font-size="3.8" fill="#444">3</text>
<text x="362.5" y="92.4" font-size="4.6" text-anchor="middle" fill="#444">10</text>
<text x="365.2" y="89.8" font-size="3.8" fill="#444">4</text>
<text x="374" y="92.4" font-size="4.6" text-anchor="middle" fill="#444">10</text>
<text x="376.7" y="89.8" font-size="3.8" fill="#444">5</text>
<text x="395" y="92.4" font-size="4.6" text-anchor="middle" fill="#444">10</text>
<text x="397.7" y="89.8" font-size="3.8" fill="#444">2</text>
<text x="410" y="92.4" font-size="4.6" text-anchor="middle" fill="#444">10</text>
<text x="412.7" y="89.8" font-size="3.8" fill="#444">3</text>
<text x="424" y="92.4" font-size="4.6" text-anchor="middle" fill="#444">10</text>
<text x="426.7" y="89.8" font-size="3.8" fill="#444">4</text>
<text x="438.5" y="92.4" font-size="4.6" text-anchor="middle" fill="#444">10</text>
<text x="441.2" y="89.8" font-size="3.8" fill="#444">5</text>
<text x="323.9" y="104.1" font-size="9.7">HER2.CAR</text>
<line x1="375.7" y1="101.6" x2="398" y2="101.6" stroke="#222" stroke-width="0.9"/>
<path d="M396.5 99.6 L400.7 101.6 L396.5 103.6Z" stroke="none" fill="#222" stroke-width="1"/>
<text x="310.6" y="124.5" font-size="12.5" font-weight="bold">d</text>
<text x="323.9" y="145.9" font-size="11.3">CT26</text>
<text x="384.7" y="146.1" font-size="11.3">MC38</text>
<rect x="323.6" y="148.5" width="53.6" height="54.3" fill="#fff" stroke="#9a9a9a" stroke-width="0.7"/>
<path d="M322.1 162.07 L322.6 162.07 L323.09 162.07 L323.59 162.07 L324.09 162.07 L324.58 162.07 L325.08 162.07 L325.57 162.07 L326.07 162.07 L326.57 162.07 L327.06 162.07 L327.56 162.07 L328.06 162.07 L328.55 162.07 L329.05 162.07 L329.55 162.07 L330.04 162.07 L330.54 162.07 L331.04 162.07 L331.53 162.07 L332.03 162.07 L332.52 162.07 L333.02 162.07 L333.52 162.07 L334.01 162.07 L334.51 162.07 L335.01 162.07 L335.5 162.07 L336 162.07 L336.5 162.07 L336.99 162.07 L337.49 162.07 L337.98 162.07 L338.48 162.07 L338.98 162.07 L339.47 162.07 L339.97 162.07 L340.47 162.07 L340.96 162.07 L341.46 162.07 L341.96 162.07 L342.45 162.07 L342.95 162.07 L343.45 162.07 L343.94 162.07 L344.44 162.07 L344.93 162.07 L345.43 162.07 L345.93 162.07 L346.42 162.07 L346.92 162.07 L347.42 162.07 L347.91 162.07 L348.41 162.07 L348.91 162.07 L349.4 162.07 L349.9 162.07 L350.39 162.07 L350.89 162.07 L351.39 162.07 L351.88 162.07 L352.38 162.06 L352.88 162.04 L353.37 161.98 L353.87 161.84 L354.37 161.58 L354.86 161.1 L355.36 160.31 L355.85 159.11 L356.35 157.48 L356.85 155.52 L357.34 153.43 L357.84 151.56 L358.34 150.28 L358.83 149.86 L359.33 150.4 L359.83 151.79 L360.32 153.71 L360.82 155.79 L361.32 157.73 L361.81 159.3 L362.31 160.44 L362.8 161.18 L363.3 161.63 L363.8 161.87 L364.29 161.99 L364.79 162.04 L365.29 162.06 L365.78 162.07 L366.28 162.07 L366.78 162.07 L367.27 162.07 L367.77 162.07 L368.26 162.07 L368.76 162.07 L369.26 162.07 L369.75 162.07 L370.25 162.07 L370.75 162.07 L371.24 162.07 L371.74 162.07 L372.24 162.07 L372.73 162.07 L373.23 162.07 L373.73 162.07 L374.22 162.07 L374.72 162.07 L375.21 162.07 L375.71 162.07 L376.21 162.07 L376.7 162.07 L377.2 162.07 L377.2 162.07 L322.1 162.07 Z" stroke="none" fill="#e8262e" stroke-width="1" fill-opacity="0.3"/>
<path d="M322.1 162.07 L322.6 162.07 L323.09 162.07 L323.59 162.07 L324.09 162.07 L324.58 162.07 L325.08 162.07 L325.57 162.07 L326.07 162.07 L326.57 162.07 L327.06 162.07 L327.56 162.07 L328.06 162.07 L328.55 162.07 L329.05 162.07 L329.55 162.07 L330.04 162.07 L330.54 162.07 L331.04 162.07 L331.53 162.07 L332.03 162.07 L332.52 162.07 L333.02 162.07 L333.52 162.07 L334.01 162.07 L334.51 162.07 L335.01 162.07 L335.5 162.07 L336 162.07 L336.5 162.07 L336.99 162.07 L337.49 162.07 L337.98 162.07 L338.48 162.07 L338.98 162.07 L339.47 162.07 L339.97 162.07 L340.47 162.07 L340.96 162.07 L341.46 162.07 L341.96 162.07 L342.45 162.07 L342.95 162.07 L343.45 162.07 L343.94 162.07 L344.44 162.07 L344.93 162.07 L345.43 162.07 L345.93 162.07 L346.42 162.07 L346.92 162.07 L347.42 162.07 L347.91 162.07 L348.41 162.07 L348.91 162.07 L349.4 162.07 L349.9 162.07 L350.39 162.07 L350.89 162.07 L351.39 162.07 L351.88 162.07 L352.38 162.06 L352.88 162.04 L353.37 161.98 L353.87 161.84 L354.37 161.58 L354.86 161.1 L355.36 160.31 L355.85 159.11 L356.35 157.48 L356.85 155.52 L357.34 153.43 L357.84 151.56 L358.34 150.28 L358.83 149.86 L359.33 150.4 L359.83 151.79 L360.32 153.71 L360.82 155.79 L361.32 157.73 L361.81 159.3 L362.31 160.44 L362.8 161.18 L363.3 161.63 L363.8 161.87 L364.29 161.99 L364.79 162.04 L365.29 162.06 L365.78 162.07 L366.28 162.07 L366.78 162.07 L367.27 162.07 L367.77 162.07 L368.26 162.07 L368.76 162.07 L369.26 162.07 L369.75 162.07 L370.25 162.07 L370.75 162.07 L371.24 162.07 L371.74 162.07 L372.24 162.07 L372.73 162.07 L373.23 162.07 L373.73 162.07 L374.22 162.07 L374.72 162.07 L375.21 162.07 L375.71 162.07 L376.21 162.07 L376.7 162.07 L377.2 162.07" stroke="#e8262e" fill="none" stroke-width="1.8" stroke-linejoin="round"/>
<path d="M322.1 175.65 L322.6 175.65 L323.09 175.65 L323.59 175.65 L324.09 175.65 L324.58 175.65 L325.08 175.65 L325.57 175.65 L326.07 175.65 L326.57 175.65 L327.06 175.65 L327.56 175.65 L328.06 175.65 L328.55 175.65 L329.05 175.65 L329.55 175.65 L330.04 175.65 L330.54 175.65 L331.04 175.65 L331.53 175.65 L332.03 175.65 L332.52 175.65 L333.02 175.65 L333.52 175.65 L334.01 175.65 L334.51 175.65 L335.01 175.65 L335.5 175.65 L336 175.65 L336.5 175.65 L336.99 175.65 L337.49 175.65 L337.98 175.65 L338.48 175.65 L338.98 175.65 L339.47 175.65 L339.97 175.65 L340.47 175.65 L340.96 175.65 L341.46 175.65 L341.96 175.65 L342.45 175.65 L342.95 175.65 L343.45 175.65 L343.94 175.65 L344.44 175.65 L344.93 175.65 L345.43 175.65 L345.93 175.65 L346.42 175.65 L346.92 175.65 L347.42 175.65 L347.91 175.65 L348.41 175.65 L348.91 175.65 L349.4 175.65 L349.9 175.65 L350.39 175.65 L350.89 175.65 L351.39 175.65 L351.88 175.65 L352.38 175.65 L352.88 175.65 L353.37 175.65 L353.87 175.64 L354.37 175.63 L354.86 175.59 L355.36 175.51 L355.85 175.34 L356.35 175.01 L356.85 174.42 L357.34 173.49 L357.84 172.13 L358.34 170.36 L358.83 168.31 L359.33 166.26 L359.83 164.57 L360.32 163.59 L360.82 163.53 L361.32 164.41 L361.81 166.04 L362.31 168.06 L362.8 170.12 L363.3 171.94 L363.8 173.35 L364.29 174.33 L364.79 174.95 L365.29 175.31 L365.78 175.5 L366.28 175.59 L366.78 175.63 L367.27 175.64 L367.77 175.65 L368.26 175.65 L368.76 175.65 L369.26 175.65 L369.75 175.65 L370.25 175.65 L370.75 175.65 L371.24 175.65 L371.74 175.65 L372.24 175.65 L372.73 175.65 L373.23 175.65 L373.73 175.65 L374.22 175.65 L374.72 175.65 L375.21 175.65 L375.71 175.65 L376.21 175.65 L376.7 175.65 L377.2 175.65 L377.2 175.65 L322.1 175.65 Z" stroke="none" fill="#f27a7e" stroke-width="1" fill-opacity="0.3"/>
<path d="M322.1 175.65 L322.6 175.65 L323.09 175.65 L323.59 175.65 L324.09 175.65 L324.58 175.65 L325.08 175.65 L325.57 175.65 L326.07 175.65 L326.57 175.65 L327.06 175.65 L327.56 175.65 L328.06 175.65 L328.55 175.65 L329.05 175.65 L329.55 175.65 L330.04 175.65 L330.54 175.65 L331.04 175.65 L331.53 175.65 L332.03 175.65 L332.52 175.65 L333.02 175.65 L333.52 175.65 L334.01 175.65 L334.51 175.65 L335.01 175.65 L335.5 175.65 L336 175.65 L336.5 175.65 L336.99 175.65 L337.49 175.65 L337.98 175.65 L338.48 175.65 L338.98 175.65 L339.47 175.65 L339.97 175.65 L340.47 175.65 L340.96 175.65 L341.46 175.65 L341.96 175.65 L342.45 175.65 L342.95 175.65 L343.45 175.65 L343.94 175.65 L344.44 175.65 L344.93 175.65 L345.43 175.65 L345.93 175.65 L346.42 175.65 L346.92 175.65 L347.42 175.65 L347.91 175.65 L348.41 175.65 L348.91 175.65 L349.4 175.65 L349.9 175.65 L350.39 175.65 L350.89 175.65 L351.39 175.65 L351.88 175.65 L352.38 175.65 L352.88 175.65 L353.37 175.65 L353.87 175.64 L354.37 175.63 L354.86 175.59 L355.36 175.51 L355.85 175.34 L356.35 175.01 L356.85 174.42 L357.34 173.49 L357.84 172.13 L358.34 170.36 L358.83 168.31 L359.33 166.26 L359.83 164.57 L360.32 163.59 L360.82 163.53 L361.32 164.41 L361.81 166.04 L362.31 168.06 L362.8 170.12 L363.3 171.94 L363.8 173.35 L364.29 174.33 L364.79 174.95 L365.29 175.31 L365.78 175.5 L366.28 175.59 L366.78 175.63 L367.27 175.64 L367.77 175.65 L368.26 175.65 L368.76 175.65 L369.26 175.65 L369.75 175.65 L370.25 175.65 L370.75 175.65 L371.24 175.65 L371.74 175.65 L372.24 175.65 L372.73 175.65 L373.23 175.65 L373.73 175.65 L374.22 175.65 L374.72 175.65 L375.21 175.65 L375.71 175.65 L376.21 175.65 L376.7 175.65 L377.2 175.65" stroke="#f27a7e" fill="none" stroke-width="1.4" stroke-linejoin="round"/>
<path d="M322.1 189.23 L322.6 189.23 L323.09 189.23 L323.59 189.23 L324.09 189.23 L324.58 189.23 L325.08 189.23 L325.57 189.23 L326.07 189.23 L326.57 189.23 L327.06 189.23 L327.56 189.23 L328.06 189.22 L328.55 189.22 L329.05 189.22 L329.55 189.22 L330.04 189.22 L330.54 189.22 L331.04 189.22 L331.53 189.22 L332.03 189.22 L332.52 189.22 L333.02 189.22 L333.52 189.22 L334.01 189.22 L334.51 189.22 L335.01 189.22 L335.5 189.22 L336 189.21 L336.5 189.18 L336.99 189.1 L337.49 188.95 L337.98 188.64 L338.48 188.1 L338.98 187.21 L339.47 185.91 L339.97 184.19 L340.47 182.17 L340.96 180.1 L341.46 178.34 L341.96 177.24 L342.45 177.05 L342.95 177.82 L343.45 179.36 L343.94 181.36 L344.44 183.43 L344.93 185.29 L345.43 186.76 L345.93 187.8 L346.42 188.46 L346.92 188.85 L347.42 189.05 L347.91 189.15 L348.41 189.2 L348.91 189.22 L349.4 189.22 L349.9 189.22 L350.39 189.22 L350.89 189.22 L351.39 189.22 L351.88 189.22 L352.38 189.22 L352.88 189.22 L353.37 189.22 L353.87 189.22 L354.37 189.22 L354.86 189.22 L355.36 189.22 L355.85 189.22 L356.35 189.22 L356.85 189.23 L357.34 189.23 L357.84 189.23 L358.34 189.23 L358.83 189.23 L359.33 189.23 L359.83 189.23 L360.32 189.23 L360.82 189.23 L361.32 189.23 L361.81 189.23 L362.31 189.23 L362.8 189.23 L363.3 189.23 L363.8 189.23 L364.29 189.23 L364.79 189.23 L365.29 189.23 L365.78 189.23 L366.28 189.23 L366.78 189.23 L367.27 189.23 L367.77 189.23 L368.26 189.23 L368.76 189.23 L369.26 189.23 L369.75 189.23 L370.25 189.23 L370.75 189.23 L371.24 189.23 L371.74 189.23 L372.24 189.23 L372.73 189.23 L373.23 189.23 L373.73 189.23 L374.22 189.23 L374.72 189.23 L375.21 189.23 L375.71 189.23 L376.21 189.23 L376.7 189.23 L377.2 189.23 L377.2 189.23 L322.1 189.23 Z" stroke="none" fill="#4a4a4a" stroke-width="1" fill-opacity="0.3"/>
<path d="M322.1 189.23 L322.6 189.23 L323.09 189.23 L323.59 189.23 L324.09 189.23 L324.58 189.23 L325.08 189.23 L325.57 189.23 L326.07 189.23 L326.57 189.23 L327.06 189.23 L327.56 189.23 L328.06 189.22 L328.55 189.22 L329.05 189.22 L329.55 189.22 L330.04 189.22 L330.54 189.22 L331.04 189.22 L331.53 189.22 L332.03 189.22 L332.52 189.22 L333.02 189.22 L333.52 189.22 L334.01 189.22 L334.51 189.22 L335.01 189.22 L335.5 189.22 L336 189.21 L336.5 189.18 L336.99 189.1 L337.49 188.95 L337.98 188.64 L338.48 188.1 L338.98 187.21 L339.47 185.91 L339.97 184.19 L340.47 182.17 L340.96 180.1 L341.46 178.34 L341.96 177.24 L342.45 177.05 L342.95 177.82 L343.45 179.36 L343.94 181.36 L344.44 183.43 L344.93 185.29 L345.43 186.76 L345.93 187.8 L346.42 188.46 L346.92 188.85 L347.42 189.05 L347.91 189.15 L348.41 189.2 L348.91 189.22 L349.4 189.22 L349.9 189.22 L350.39 189.22 L350.89 189.22 L351.39 189.22 L351.88 189.22 L352.38 189.22 L352.88 189.22 L353.37 189.22 L353.87 189.22 L354.37 189.22 L354.86 189.22 L355.36 189.22 L355.85 189.22 L356.35 189.22 L356.85 189.23 L357.34 189.23 L357.84 189.23 L358.34 189.23 L358.83 189.23 L359.33 189.23 L359.83 189.23 L360.32 189.23 L360.82 189.23 L361.32 189.23 L361.81 189.23 L362.31 189.23 L362.8 189.23 L363.3 189.23 L363.8 189.23 L364.29 189.23 L364.79 189.23 L365.29 189.23 L365.78 189.23 L366.28 189.23 L366.78 189.23 L367.27 189.23 L367.77 189.23 L368.26 189.23 L368.76 189.23 L369.26 189.23 L369.75 189.23 L370.25 189.23 L370.75 189.23 L371.24 189.23 L371.74 189.23 L372.24 189.23 L372.73 189.23 L373.23 189.23 L373.73 189.23 L374.22 189.23 L374.72 189.23 L375.21 189.23 L375.71 189.23 L376.21 189.23 L376.7 189.23 L377.2 189.23" stroke="#4a4a4a" fill="none" stroke-width="1.8" stroke-linejoin="round"/>
<path d="M322.1 202.8 L322.6 202.8 L323.09 202.8 L323.59 202.8 L324.09 202.8 L324.58 202.8 L325.08 202.8 L325.57 202.8 L326.07 202.8 L326.57 202.8 L327.06 202.8 L327.56 202.8 L328.06 202.8 L328.55 202.8 L329.05 202.8 L329.55 202.8 L330.04 202.8 L330.54 202.8 L331.04 202.8 L331.53 202.8 L332.03 202.8 L332.52 202.8 L333.02 202.8 L333.52 202.8 L334.01 202.8 L334.51 202.8 L335.01 202.8 L335.5 202.79 L336 202.77 L336.5 202.71 L336.99 202.6 L337.49 202.36 L337.98 201.92 L338.48 201.18 L338.98 200.05 L339.47 198.49 L339.97 196.56 L340.47 194.48 L340.96 192.55 L341.46 191.15 L341.96 190.59 L342.45 190.98 L342.95 192.25 L343.45 194.11 L343.94 196.2 L344.44 198.17 L344.93 199.8 L345.43 201.01 L345.93 201.81 L346.42 202.3 L346.92 202.57 L347.42 202.7 L347.91 202.76 L348.41 202.79 L348.91 202.79 L349.4 202.8 L349.9 202.8 L350.39 202.8 L350.89 202.8 L351.39 202.8 L351.88 202.8 L352.38 202.8 L352.88 202.8 L353.37 202.8 L353.87 202.8 L354.37 202.8 L354.86 202.8 L355.36 202.8 L355.85 202.8 L356.35 202.8 L356.85 202.8 L357.34 202.8 L357.84 202.8 L358.34 202.8 L358.83 202.8 L359.33 202.8 L359.83 202.8 L360.32 202.8 L360.82 202.8 L361.32 202.8 L361.81 202.8 L362.31 202.8 L362.8 202.8 L363.3 202.8 L363.8 202.8 L364.29 202.8 L364.79 202.8 L365.29 202.8 L365.78 202.8 L366.28 202.8 L366.78 202.8 L367.27 202.8 L367.77 202.8 L368.26 202.8 L368.76 202.8 L369.26 202.8 L369.75 202.8 L370.25 202.8 L370.75 202.8 L371.24 202.8 L371.74 202.8 L372.24 202.8 L372.73 202.8 L373.23 202.8 L373.73 202.8 L374.22 202.8 L374.72 202.8 L375.21 202.8 L375.71 202.8 L376.21 202.8 L376.7 202.8 L377.2 202.8 L377.2 202.8 L322.1 202.8 Z" stroke="none" fill="#b8b8b8" stroke-width="1" fill-opacity="0.3"/>
<path d="M322.1 202.8 L322.6 202.8 L323.09 202.8 L323.59 202.8 L324.09 202.8 L324.58 202.8 L325.08 202.8 L325.57 202.8 L326.07 202.8 L326.57 202.8 L327.06 202.8 L327.56 202.8 L328.06 202.8 L328.55 202.8 L329.05 202.8 L329.55 202.8 L330.04 202.8 L330.54 202.8 L331.04 202.8 L331.53 202.8 L332.03 202.8 L332.52 202.8 L333.02 202.8 L333.52 202.8 L334.01 202.8 L334.51 202.8 L335.01 202.8 L335.5 202.79 L336 202.77 L336.5 202.71 L336.99 202.6 L337.49 202.36 L337.98 201.92 L338.48 201.18 L338.98 200.05 L339.47 198.49 L339.97 196.56 L340.47 194.48 L340.96 192.55 L341.46 191.15 L341.96 190.59 L342.45 190.98 L342.95 192.25 L343.45 194.11 L343.94 196.2 L344.44 198.17 L344.93 199.8 L345.43 201.01 L345.93 201.81 L346.42 202.3 L346.92 202.57 L347.42 202.7 L347.91 202.76 L348.41 202.79 L348.91 202.79 L349.4 202.8 L349.9 202.8 L350.39 202.8 L350.89 202.8 L351.39 202.8 L351.88 202.8 L352.38 202.8 L352.88 202.8 L353.37 202.8 L353.87 202.8 L354.37 202.8 L354.86 202.8 L355.36 202.8 L355.85 202.8 L356.35 202.8 L356.85 202.8 L357.34 202.8 L357.84 202.8 L358.34 202.8 L358.83 202.8 L359.33 202.8 L359.83 202.8 L360.32 202.8 L360.82 202.8 L361.32 202.8 L361.81 202.8 L362.31 202.8 L362.8 202.8 L363.3 202.8 L363.8 202.8 L364.29 202.8 L364.79 202.8 L365.29 202.8 L365.78 202.8 L366.28 202.8 L366.78 202.8 L367.27 202.8 L367.77 202.8 L368.26 202.8 L368.76 202.8 L369.26 202.8 L369.75 202.8 L370.25 202.8 L370.75 202.8 L371.24 202.8 L371.74 202.8 L372.24 202.8 L372.73 202.8 L373.23 202.8 L373.73 202.8 L374.22 202.8 L374.72 202.8 L375.21 202.8 L375.71 202.8 L376.21 202.8 L376.7 202.8 L377.2 202.8" stroke="#b8b8b8" fill="none" stroke-width="1.4" stroke-linejoin="round"/>
<line x1="324.6" y1="202.8" x2="324.6" y2="204.3" stroke="#555" stroke-width="0.5"/>
<line x1="326.84" y1="202.8" x2="326.84" y2="203.6" stroke="#555" stroke-width="0.5"/>
<line x1="329.09" y1="202.8" x2="329.09" y2="203.6" stroke="#555" stroke-width="0.5"/>
<line x1="331.33" y1="202.8" x2="331.33" y2="203.6" stroke="#555" stroke-width="0.5"/>
<line x1="333.57" y1="202.8" x2="333.57" y2="203.6" stroke="#555" stroke-width="0.5"/>
<line x1="335.82" y1="202.8" x2="335.82" y2="203.6" stroke="#555" stroke-width="0.5"/>
<line x1="338.06" y1="202.8" x2="338.06" y2="204.3" stroke="#555" stroke-width="0.5"/>
<line x1="340.3" y1="202.8" x2="340.3" y2="203.6" stroke="#555" stroke-width="0.5"/>
<line x1="342.55" y1="202.8" x2="342.55" y2="203.6" stroke="#555" stroke-width="0.5"/>
<line x1="344.79" y1="202.8" x2="344.79" y2="203.6" stroke="#555" stroke-width="0.5"/>
<line x1="347.03" y1="202.8" x2="347.03" y2="203.6" stroke="#555" stroke-width="0.5"/>
<line x1="349.28" y1="202.8" x2="349.28" y2="203.6" stroke="#555" stroke-width="0.5"/>
<line x1="351.52" y1="202.8" x2="351.52" y2="204.3" stroke="#555" stroke-width="0.5"/>
<line x1="353.77" y1="202.8" x2="353.77" y2="203.6" stroke="#555" stroke-width="0.5"/>
<line x1="356.01" y1="202.8" x2="356.01" y2="203.6" stroke="#555" stroke-width="0.5"/>
<line x1="358.25" y1="202.8" x2="358.25" y2="203.6" stroke="#555" stroke-width="0.5"/>
<line x1="360.5" y1="202.8" x2="360.5" y2="203.6" stroke="#555" stroke-width="0.5"/>
<line x1="362.74" y1="202.8" x2="362.74" y2="203.6" stroke="#555" stroke-width="0.5"/>
<line x1="364.98" y1="202.8" x2="364.98" y2="204.3" stroke="#555" stroke-width="0.5"/>
<line x1="367.23" y1="202.8" x2="367.23" y2="203.6" stroke="#555" stroke-width="0.5"/>
<line x1="369.47" y1="202.8" x2="369.47" y2="203.6" stroke="#555" stroke-width="0.5"/>
<line x1="371.71" y1="202.8" x2="371.71" y2="203.6" stroke="#555" stroke-width="0.5"/>
<line x1="373.96" y1="202.8" x2="373.96" y2="203.6" stroke="#555" stroke-width="0.5"/>
<line x1="376.2" y1="202.8" x2="376.2" y2="203.6" stroke="#555" stroke-width="0.5"/>
<rect x="383.9" y="148.5" width="54.7" height="54.3" fill="#fff" stroke="#9a9a9a" stroke-width="0.7"/>
<path d="M382.4 162.07 L382.9 162.07 L383.39 162.07 L383.89 162.07 L384.39 162.07 L384.89 162.07 L385.38 162.07 L385.88 162.07 L386.38 162.07 L386.88 162.07 L387.37 162.07 L387.87 162.07 L388.37 162.07 L388.87 162.07 L389.36 162.07 L389.86 162.07 L390.36 162.07 L390.85 162.07 L391.35 162.07 L391.85 162.07 L392.35 162.07 L392.84 162.07 L393.34 162.07 L393.84 162.07 L394.34 162.07 L394.83 162.07 L395.33 162.07 L395.83 162.07 L396.33 162.07 L396.82 162.07 L397.32 162.07 L397.82 162.07 L398.32 162.07 L398.81 162.07 L399.31 162.07 L399.81 162.07 L400.3 162.07 L400.8 162.07 L401.3 162.07 L401.8 162.07 L402.29 162.07 L402.79 162.07 L403.29 162.07 L403.79 162.07 L404.28 162.07 L404.78 162.07 L405.28 162.07 L405.78 162.07 L406.27 162.07 L406.77 162.07 L407.27 162.07 L407.76 162.07 L408.26 162.07 L408.76 162.07 L409.26 162.07 L409.75 162.07 L410.25 162.07 L410.75 162.07 L411.25 162.07 L411.74 162.07 L412.24 162.07 L412.74 162.07 L413.24 162.07 L413.73 162.06 L414.23 162.05 L414.73 162 L415.22 161.89 L415.72 161.68 L416.22 161.27 L416.72 160.57 L417.21 159.49 L417.71 157.98 L418.21 156.09 L418.71 154.01 L419.2 152.03 L419.7 150.55 L420.2 149.88 L420.7 150.17 L421.19 151.35 L421.69 153.16 L422.19 155.25 L422.68 157.25 L423.18 158.93 L423.68 160.18 L424.18 161.02 L424.67 161.54 L425.17 161.82 L425.67 161.96 L426.17 162.03 L426.66 162.06 L427.16 162.07 L427.66 162.07 L428.16 162.07 L428.65 162.07 L429.15 162.07 L429.65 162.07 L430.15 162.07 L430.64 162.07 L431.14 162.07 L431.64 162.07 L432.13 162.07 L432.63 162.07 L433.13 162.07 L433.63 162.07 L434.12 162.07 L434.62 162.07 L435.12 162.07 L435.62 162.07 L436.11 162.07 L436.61 162.07 L437.11 162.07 L437.61 162.07 L438.1 162.07 L438.6 162.07 L438.6 162.07 L382.4 162.07 Z" stroke="none" fill="#f08424" stroke-width="1" fill-opacity="0.3"/>
<path d="M382.4 162.07 L382.9 162.07 L383.39 162.07 L383.89 162.07 L384.39 162.07 L384.89 162.07 L385.38 162.07 L385.88 162.07 L386.38 162.07 L386.88 162.07 L387.37 162.07 L387.87 162.07 L388.37 162.07 L388.87 162.07 L389.36 162.07 L389.86 162.07 L390.36 162.07 L390.85 162.07 L391.35 162.07 L391.85 162.07 L392.35 162.07 L392.84 162.07 L393.34 162.07 L393.84 162.07 L394.34 162.07 L394.83 162.07 L395.33 162.07 L395.83 162.07 L396.33 162.07 L396.82 162.07 L397.32 162.07 L397.82 162.07 L398.32 162.07 L398.81 162.07 L399.31 162.07 L399.81 162.07 L400.3 162.07 L400.8 162.07 L401.3 162.07 L401.8 162.07 L402.29 162.07 L402.79 162.07 L403.29 162.07 L403.79 162.07 L404.28 162.07 L404.78 162.07 L405.28 162.07 L405.78 162.07 L406.27 162.07 L406.77 162.07 L407.27 162.07 L407.76 162.07 L408.26 162.07 L408.76 162.07 L409.26 162.07 L409.75 162.07 L410.25 162.07 L410.75 162.07 L411.25 162.07 L411.74 162.07 L412.24 162.07 L412.74 162.07 L413.24 162.07 L413.73 162.06 L414.23 162.05 L414.73 162 L415.22 161.89 L415.72 161.68 L416.22 161.27 L416.72 160.57 L417.21 159.49 L417.71 157.98 L418.21 156.09 L418.71 154.01 L419.2 152.03 L419.7 150.55 L420.2 149.88 L420.7 150.17 L421.19 151.35 L421.69 153.16 L422.19 155.25 L422.68 157.25 L423.18 158.93 L423.68 160.18 L424.18 161.02 L424.67 161.54 L425.17 161.82 L425.67 161.96 L426.17 162.03 L426.66 162.06 L427.16 162.07 L427.66 162.07 L428.16 162.07 L428.65 162.07 L429.15 162.07 L429.65 162.07 L430.15 162.07 L430.64 162.07 L431.14 162.07 L431.64 162.07 L432.13 162.07 L432.63 162.07 L433.13 162.07 L433.63 162.07 L434.12 162.07 L434.62 162.07 L435.12 162.07 L435.62 162.07 L436.11 162.07 L436.61 162.07 L437.11 162.07 L437.61 162.07 L438.1 162.07 L438.6 162.07" stroke="#f08424" fill="none" stroke-width="1.8" stroke-linejoin="round"/>
<path d="M382.4 175.65 L382.9 175.65 L383.39 175.65 L383.89 175.65 L384.39 175.65 L384.89 175.65 L385.38 175.65 L385.88 175.65 L386.38 175.65 L386.88 175.65 L387.37 175.65 L387.87 175.65 L388.37 175.65 L388.87 175.65 L389.36 175.65 L389.86 175.65 L390.36 175.65 L390.85 175.65 L391.35 175.65 L391.85 175.65 L392.35 175.65 L392.84 175.65 L393.34 175.65 L393.84 175.65 L394.34 175.65 L394.83 175.65 L395.33 175.65 L395.83 175.65 L396.33 175.65 L396.82 175.65 L397.32 175.65 L397.82 175.65 L398.32 175.65 L398.81 175.65 L399.31 175.65 L399.81 175.65 L400.3 175.65 L400.8 175.65 L401.3 175.65 L401.8 175.65 L402.29 175.65 L402.79 175.65 L403.29 175.65 L403.79 175.65 L404.28 175.65 L404.78 175.65 L405.28 175.65 L405.78 175.65 L406.27 175.65 L406.77 175.65 L407.27 175.65 L407.76 175.65 L408.26 175.65 L408.76 175.65 L409.26 175.65 L409.75 175.65 L410.25 175.65 L410.75 175.65 L411.25 175.65 L411.74 175.65 L412.24 175.65 L412.74 175.65 L413.24 175.65 L413.73 175.64 L414.23 175.63 L414.73 175.59 L415.22 175.5 L415.72 175.31 L416.22 174.95 L416.72 174.32 L417.21 173.32 L417.71 171.9 L418.21 170.07 L418.71 168 L419.2 165.98 L419.7 164.37 L420.2 163.51 L420.7 163.61 L421.19 164.62 L421.69 166.34 L422.19 168.4 L422.68 170.44 L423.18 172.2 L423.68 173.54 L424.18 174.46 L424.67 175.03 L425.17 175.35 L425.67 175.52 L426.17 175.6 L426.66 175.63 L427.16 175.64 L427.66 175.65 L428.16 175.65 L428.65 175.65 L429.15 175.65 L429.65 175.65 L430.15 175.65 L430.64 175.65 L431.14 175.65 L431.64 175.65 L432.13 175.65 L432.63 175.65 L433.13 175.65 L433.63 175.65 L434.12 175.65 L434.62 175.65 L435.12 175.65 L435.62 175.65 L436.11 175.65 L436.61 175.65 L437.11 175.65 L437.61 175.65 L438.1 175.65 L438.6 175.65 L438.6 175.65 L382.4 175.65 Z" stroke="none" fill="#f8b272" stroke-width="1" fill-opacity="0.3"/>
<path d="M382.4 175.65 L382.9 175.65 L383.39 175.65 L383.89 175.65 L384.39 175.65 L384.89 175.65 L385.38 175.65 L385.88 175.65 L386.38 175.65 L386.88 175.65 L387.37 175.65 L387.87 175.65 L388.37 175.65 L388.87 175.65 L389.36 175.65 L389.86 175.65 L390.36 175.65 L390.85 175.65 L391.35 175.65 L391.85 175.65 L392.35 175.65 L392.84 175.65 L393.34 175.65 L393.84 175.65 L394.34 175.65 L394.83 175.65 L395.33 175.65 L395.83 175.65 L396.33 175.65 L396.82 175.65 L397.32 175.65 L397.82 175.65 L398.32 175.65 L398.81 175.65 L399.31 175.65 L399.81 175.65 L400.3 175.65 L400.8 175.65 L401.3 175.65 L401.8 175.65 L402.29 175.65 L402.79 175.65 L403.29 175.65 L403.79 175.65 L404.28 175.65 L404.78 175.65 L405.28 175.65 L405.78 175.65 L406.27 175.65 L406.77 175.65 L407.27 175.65 L407.76 175.65 L408.26 175.65 L408.76 175.65 L409.26 175.65 L409.75 175.65 L410.25 175.65 L410.75 175.65 L411.25 175.65 L411.74 175.65 L412.24 175.65 L412.74 175.65 L413.24 175.65 L413.73 175.64 L414.23 175.63 L414.73 175.59 L415.22 175.5 L415.72 175.31 L416.22 174.95 L416.72 174.32 L417.21 173.32 L417.71 171.9 L418.21 170.07 L418.71 168 L419.2 165.98 L419.7 164.37 L420.2 163.51 L420.7 163.61 L421.19 164.62 L421.69 166.34 L422.19 168.4 L422.68 170.44 L423.18 172.2 L423.68 173.54 L424.18 174.46 L424.67 175.03 L425.17 175.35 L425.67 175.52 L426.17 175.6 L426.66 175.63 L427.16 175.64 L427.66 175.65 L428.16 175.65 L428.65 175.65 L429.15 175.65 L429.65 175.65 L430.15 175.65 L430.64 175.65 L431.14 175.65 L431.64 175.65 L432.13 175.65 L432.63 175.65 L433.13 175.65 L433.63 175.65 L434.12 175.65 L434.62 175.65 L435.12 175.65 L435.62 175.65 L436.11 175.65 L436.61 175.65 L437.11 175.65 L437.61 175.65 L438.1 175.65 L438.6 175.65" stroke="#f8b272" fill="none" stroke-width="1.4" stroke-linejoin="round"/>
<path d="M382.4 189.23 L382.9 189.23 L383.39 189.23 L383.89 189.23 L384.39 189.22 L384.89 189.22 L385.38 189.22 L385.88 189.22 L386.38 189.22 L386.88 189.22 L387.37 189.22 L387.87 189.22 L388.37 189.22 L388.87 189.22 L389.36 189.22 L389.86 189.22 L390.36 189.22 L390.85 189.22 L391.35 189.22 L391.85 189.22 L392.35 189.2 L392.84 189.17 L393.34 189.09 L393.84 188.92 L394.34 188.6 L394.83 188.02 L395.33 187.09 L395.83 185.74 L396.33 183.97 L396.82 181.93 L397.32 179.87 L397.82 178.17 L398.32 177.17 L398.81 177.1 L399.31 177.97 L399.81 179.59 L400.3 181.62 L400.8 183.69 L401.3 185.51 L401.8 186.92 L402.29 187.91 L402.79 188.53 L403.29 188.89 L403.79 189.07 L404.28 189.16 L404.78 189.2 L405.28 189.22 L405.78 189.22 L406.27 189.22 L406.77 189.22 L407.27 189.22 L407.76 189.22 L408.26 189.22 L408.76 189.22 L409.26 189.22 L409.75 189.22 L410.25 189.22 L410.75 189.22 L411.25 189.22 L411.74 189.22 L412.24 189.22 L412.74 189.22 L413.24 189.23 L413.73 189.23 L414.23 189.23 L414.73 189.23 L415.22 189.23 L415.72 189.23 L416.22 189.23 L416.72 189.23 L417.21 189.23 L417.71 189.23 L418.21 189.23 L418.71 189.23 L419.2 189.23 L419.7 189.23 L420.2 189.23 L420.7 189.23 L421.19 189.23 L421.69 189.23 L422.19 189.23 L422.68 189.23 L423.18 189.23 L423.68 189.23 L424.18 189.23 L424.67 189.23 L425.17 189.23 L425.67 189.23 L426.17 189.23 L426.66 189.23 L427.16 189.23 L427.66 189.23 L428.16 189.23 L428.65 189.23 L429.15 189.23 L429.65 189.23 L430.15 189.23 L430.64 189.23 L431.14 189.23 L431.64 189.23 L432.13 189.23 L432.63 189.23 L433.13 189.23 L433.63 189.23 L434.12 189.23 L434.62 189.23 L435.12 189.23 L435.62 189.23 L436.11 189.23 L436.61 189.23 L437.11 189.23 L437.61 189.23 L438.1 189.23 L438.6 189.23 L438.6 189.23 L382.4 189.23 Z" stroke="none" fill="#4a4a4a" stroke-width="1" fill-opacity="0.3"/>
<path d="M382.4 189.23 L382.9 189.23 L383.39 189.23 L383.89 189.23 L384.39 189.22 L384.89 189.22 L385.38 189.22 L385.88 189.22 L386.38 189.22 L386.88 189.22 L387.37 189.22 L387.87 189.22 L388.37 189.22 L388.87 189.22 L389.36 189.22 L389.86 189.22 L390.36 189.22 L390.85 189.22 L391.35 189.22 L391.85 189.22 L392.35 189.2 L392.84 189.17 L393.34 189.09 L393.84 188.92 L394.34 188.6 L394.83 188.02 L395.33 187.09 L395.83 185.74 L396.33 183.97 L396.82 181.93 L397.32 179.87 L397.82 178.17 L398.32 177.17 L398.81 177.1 L399.31 177.97 L399.81 179.59 L400.3 181.62 L400.8 183.69 L401.3 185.51 L401.8 186.92 L402.29 187.91 L402.79 188.53 L403.29 188.89 L403.79 189.07 L404.28 189.16 L404.78 189.2 L405.28 189.22 L405.78 189.22 L406.27 189.22 L406.77 189.22 L407.27 189.22 L407.76 189.22 L408.26 189.22 L408.76 189.22 L409.26 189.22 L409.75 189.22 L410.25 189.22 L410.75 189.22 L411.25 189.22 L411.74 189.22 L412.24 189.22 L412.74 189.22 L413.24 189.23 L413.73 189.23 L414.23 189.23 L414.73 189.23 L415.22 189.23 L415.72 189.23 L416.22 189.23 L416.72 189.23 L417.21 189.23 L417.71 189.23 L418.21 189.23 L418.71 189.23 L419.2 189.23 L419.7 189.23 L420.2 189.23 L420.7 189.23 L421.19 189.23 L421.69 189.23 L422.19 189.23 L422.68 189.23 L423.18 189.23 L423.68 189.23 L424.18 189.23 L424.67 189.23 L425.17 189.23 L425.67 189.23 L426.17 189.23 L426.66 189.23 L427.16 189.23 L427.66 189.23 L428.16 189.23 L428.65 189.23 L429.15 189.23 L429.65 189.23 L430.15 189.23 L430.64 189.23 L431.14 189.23 L431.64 189.23 L432.13 189.23 L432.63 189.23 L433.13 189.23 L433.63 189.23 L434.12 189.23 L434.62 189.23 L435.12 189.23 L435.62 189.23 L436.11 189.23 L436.61 189.23 L437.11 189.23 L437.61 189.23 L438.1 189.23 L438.6 189.23" stroke="#4a4a4a" fill="none" stroke-width="1.8" stroke-linejoin="round"/>
<path d="M382.4 202.8 L382.9 202.8 L383.39 202.8 L383.89 202.8 L384.39 202.8 L384.89 202.8 L385.38 202.8 L385.88 202.8 L386.38 202.8 L386.88 202.8 L387.37 202.8 L387.87 202.8 L388.37 202.8 L388.87 202.8 L389.36 202.8 L389.86 202.8 L390.36 202.8 L390.85 202.8 L391.35 202.8 L391.85 202.8 L392.35 202.8 L392.84 202.79 L393.34 202.77 L393.84 202.72 L394.34 202.61 L394.83 202.39 L395.33 201.98 L395.83 201.28 L396.33 200.19 L396.82 198.67 L397.32 196.77 L397.82 194.68 L398.32 192.72 L398.81 191.25 L399.31 190.6 L399.81 190.91 L400.3 192.11 L400.8 193.94 L401.3 196.02 L401.8 198.02 L402.29 199.69 L402.79 200.93 L403.29 201.77 L403.79 202.27 L404.28 202.55 L404.78 202.69 L405.28 202.76 L405.78 202.78 L406.27 202.79 L406.77 202.8 L407.27 202.8 L407.76 202.8 L408.26 202.8 L408.76 202.8 L409.26 202.8 L409.75 202.8 L410.25 202.8 L410.75 202.8 L411.25 202.8 L411.74 202.8 L412.24 202.8 L412.74 202.8 L413.24 202.8 L413.73 202.8 L414.23 202.8 L414.73 202.8 L415.22 202.8 L415.72 202.8 L416.22 202.8 L416.72 202.8 L417.21 202.8 L417.71 202.8 L418.21 202.8 L418.71 202.8 L419.2 202.8 L419.7 202.8 L420.2 202.8 L420.7 202.8 L421.19 202.8 L421.69 202.8 L422.19 202.8 L422.68 202.8 L423.18 202.8 L423.68 202.8 L424.18 202.8 L424.67 202.8 L425.17 202.8 L425.67 202.8 L426.17 202.8 L426.66 202.8 L427.16 202.8 L427.66 202.8 L428.16 202.8 L428.65 202.8 L429.15 202.8 L429.65 202.8 L430.15 202.8 L430.64 202.8 L431.14 202.8 L431.64 202.8 L432.13 202.8 L432.63 202.8 L433.13 202.8 L433.63 202.8 L434.12 202.8 L434.62 202.8 L435.12 202.8 L435.62 202.8 L436.11 202.8 L436.61 202.8 L437.11 202.8 L437.61 202.8 L438.1 202.8 L438.6 202.8 L438.6 202.8 L382.4 202.8 Z" stroke="none" fill="#b8b8b8" stroke-width="1" fill-opacity="0.3"/>
<path d="M382.4 202.8 L382.9 202.8 L383.39 202.8 L383.89 202.8 L384.39 202.8 L384.89 202.8 L385.38 202.8 L385.88 202.8 L386.38 202.8 L386.88 202.8 L387.37 202.8 L387.87 202.8 L388.37 202.8 L388.87 202.8 L389.36 202.8 L389.86 202.8 L390.36 202.8 L390.85 202.8 L391.35 202.8 L391.85 202.8 L392.35 202.8 L392.84 202.79 L393.34 202.77 L393.84 202.72 L394.34 202.61 L394.83 202.39 L395.33 201.98 L395.83 201.28 L396.33 200.19 L396.82 198.67 L397.32 196.77 L397.82 194.68 L398.32 192.72 L398.81 191.25 L399.31 190.6 L399.81 190.91 L400.3 192.11 L400.8 193.94 L401.3 196.02 L401.8 198.02 L402.29 199.69 L402.79 200.93 L403.29 201.77 L403.79 202.27 L404.28 202.55 L404.78 202.69 L405.28 202.76 L405.78 202.78 L406.27 202.79 L406.77 202.8 L407.27 202.8 L407.76 202.8 L408.26 202.8 L408.76 202.8 L409.26 202.8 L409.75 202.8 L410.25 202.8 L410.75 202.8 L411.25 202.8 L411.74 202.8 L412.24 202.8 L412.74 202.8 L413.24 202.8 L413.73 202.8 L414.23 202.8 L414.73 202.8 L415.22 202.8 L415.72 202.8 L416.22 202.8 L416.72 202.8 L417.21 202.8 L417.71 202.8 L418.21 202.8 L418.71 202.8 L419.2 202.8 L419.7 202.8 L420.2 202.8 L420.7 202.8 L421.19 202.8 L421.69 202.8 L422.19 202.8 L422.68 202.8 L423.18 202.8 L423.68 202.8 L424.18 202.8 L424.67 202.8 L425.17 202.8 L425.67 202.8 L426.17 202.8 L426.66 202.8 L427.16 202.8 L427.66 202.8 L428.16 202.8 L428.65 202.8 L429.15 202.8 L429.65 202.8 L430.15 202.8 L430.64 202.8 L431.14 202.8 L431.64 202.8 L432.13 202.8 L432.63 202.8 L433.13 202.8 L433.63 202.8 L434.12 202.8 L434.62 202.8 L435.12 202.8 L435.62 202.8 L436.11 202.8 L436.61 202.8 L437.11 202.8 L437.61 202.8 L438.1 202.8 L438.6 202.8" stroke="#b8b8b8" fill="none" stroke-width="1.4" stroke-linejoin="round"/>
<line x1="384.9" y1="202.8" x2="384.9" y2="204.3" stroke="#555" stroke-width="0.5"/>
<line x1="387.19" y1="202.8" x2="387.19" y2="203.6" stroke="#555" stroke-width="0.5"/>
<line x1="389.48" y1="202.8" x2="389.48" y2="203.6" stroke="#555" stroke-width="0.5"/>
<line x1="391.77" y1="202.8" x2="391.77" y2="203.6" stroke="#555" stroke-width="0.5"/>
<line x1="394.07" y1="202.8" x2="394.07" y2="203.6" stroke="#555" stroke-width="0.5"/>
<line x1="396.36" y1="202.8" x2="396.36" y2="203.6" stroke="#555" stroke-width="0.5"/>
<line x1="398.65" y1="202.8" x2="398.65" y2="204.3" stroke="#555" stroke-width="0.5"/>
<line x1="400.94" y1="202.8" x2="400.94" y2="203.6" stroke="#555" stroke-width="0.5"/>
<line x1="403.23" y1="202.8" x2="403.23" y2="203.6" stroke="#555" stroke-width="0.5"/>
<line x1="405.52" y1="202.8" x2="405.52" y2="203.6" stroke="#555" stroke-width="0.5"/>
<line x1="407.81" y1="202.8" x2="407.81" y2="203.6" stroke="#555" stroke-width="0.5"/>
<line x1="410.1" y1="202.8" x2="410.1" y2="203.6" stroke="#555" stroke-width="0.5"/>
<line x1="412.4" y1="202.8" x2="412.4" y2="204.3" stroke="#555" stroke-width="0.5"/>
<line x1="414.69" y1="202.8" x2="414.69" y2="203.6" stroke="#555" stroke-width="0.5"/>
<line x1="416.98" y1="202.8" x2="416.98" y2="203.6" stroke="#555" stroke-width="0.5"/>
<line x1="419.27" y1="202.8" x2="419.27" y2="203.6" stroke="#555" stroke-width="0.5"/>
<line x1="421.56" y1="202.8" x2="421.56" y2="203.6" stroke="#555" stroke-width="0.5"/>
<line x1="423.85" y1="202.8" x2="423.85" y2="203.6" stroke="#555" stroke-width="0.5"/>
<line x1="426.14" y1="202.8" x2="426.14" y2="204.3" stroke="#555" stroke-width="0.5"/>
<line x1="428.43" y1="202.8" x2="428.43" y2="203.6" stroke="#555" stroke-width="0.5"/>
<line x1="430.73" y1="202.8" x2="430.73" y2="203.6" stroke="#555" stroke-width="0.5"/>
<line x1="433.02" y1="202.8" x2="433.02" y2="203.6" stroke="#555" stroke-width="0.5"/>
<line x1="435.31" y1="202.8" x2="435.31" y2="203.6" stroke="#555" stroke-width="0.5"/>
<line x1="437.6" y1="202.8" x2="437.6" y2="203.6" stroke="#555" stroke-width="0.5"/>
<text x="438.9" y="162.2" font-size="9.6">eSPR#2</text>
<text x="438.9" y="174.9" font-size="9.6">eSPR#1</text>
<text x="438.9" y="187.7" font-size="9.6">UTD#2</text>
<text x="438.9" y="200.3" font-size="9.6">UTD#1</text>
<text x="323.6" y="215.1" font-size="9.7">anti-mIgG</text>
<line x1="370.4" y1="212.6" x2="393" y2="212.6" stroke="#222" stroke-width="0.9"/>
<path d="M391.5 210.6 L395.5 212.6 L391.5 214.6Z" stroke="none" fill="#222" stroke-width="1"/>
<text x="483.6" y="10.8" font-size="12.5" font-weight="bold">e</text>
<line x1="534.4" y1="27.75" x2="534.4" y2="79.05" stroke="#1e1e1e" stroke-width="1"/>
<line x1="531.4" y1="27.75" x2="534.4" y2="27.75" stroke="#1e1e1e" stroke-width="1"/>
<text x="529.2" y="31.88" font-size="11.8" text-anchor="end">80</text>
<line x1="531.4" y1="40.58" x2="534.4" y2="40.58" stroke="#1e1e1e" stroke-width="1"/>
<text x="529.2" y="44.71" font-size="11.8" text-anchor="end">40</text>
<line x1="531.4" y1="53.4" x2="534.4" y2="53.4" stroke="#1e1e1e" stroke-width="1"/>
<text x="529.2" y="57.53" font-size="11.8" text-anchor="end">0</text>
<line x1="531.4" y1="66.22" x2="534.4" y2="66.22" stroke="#1e1e1e" stroke-width="1"/>
<text x="529.2" y="70.35" font-size="11.8" text-anchor="end">-40</text>
<line x1="531.4" y1="79.05" x2="534.4" y2="79.05" stroke="#1e1e1e" stroke-width="1"/>
<text x="529.2" y="83.18" font-size="11.8" text-anchor="end">-80</text>
<line x1="532.7" y1="34.16" x2="534.4" y2="34.16" stroke="#1e1e1e" stroke-width="1"/>
<line x1="532.7" y1="46.99" x2="534.4" y2="46.99" stroke="#1e1e1e" stroke-width="1"/>
<line x1="532.7" y1="59.81" x2="534.4" y2="59.81" stroke="#1e1e1e" stroke-width="1"/>
<line x1="532.7" y1="72.64" x2="534.4" y2="72.64" stroke="#1e1e1e" stroke-width="1"/>
<line x1="534.4" y1="79.05" x2="575" y2="79.05" stroke="#1e1e1e" stroke-width="1"/>
<line x1="543.1" y1="79.05" x2="543.1" y2="82.05" stroke="#1e1e1e" stroke-width="1"/>
<line x1="565.3" y1="79.05" x2="565.3" y2="82.05" stroke="#1e1e1e" stroke-width="1"/>
<line x1="534.4" y1="53.4" x2="575.6" y2="53.4" stroke="#222" stroke-width="1" stroke-dasharray="2.5 1.6"/>
<line x1="538.8" y1="25.7" x2="550" y2="25.7" stroke="#1e1e1e" stroke-width="1"/>
<text x="544.4" y="22.7" font-size="8.8" text-anchor="middle">ns</text>
<line x1="560.4" y1="25.7" x2="572" y2="25.7" stroke="#1e1e1e" stroke-width="1"/>
<text x="566.2" y="22.7" font-size="8.8" text-anchor="middle">ns</text>
<circle cx="538.8" cy="71.6" r="3" fill="#c8c8c8" stroke="none" stroke-width="1"/>
<line x1="536.3" y1="71.6" x2="541.3" y2="71.6" stroke="#222" stroke-width="1.1"/>
<rect x="545.2" y="66.3" width="4.9" height="8.2" fill="#8a8a8a" stroke="none" stroke-width="1"/>
<line x1="544.9" y1="70.4" x2="550.4" y2="70.4" stroke="#222" stroke-width="1.1"/>
<circle cx="561.2" cy="35.4" r="3" fill="#c8c8c8" stroke="none" stroke-width="1"/>
<line x1="558.7" y1="35.4" x2="563.7" y2="35.4" stroke="#222" stroke-width="1.1"/>
<rect x="567.1" y="33.3" width="4.9" height="6" fill="#8a8a8a" stroke="none" stroke-width="1"/>
<line x1="566.8" y1="36.7" x2="572.3" y2="36.7" stroke="#222" stroke-width="1.1"/>
<text x="497.9" y="56" font-size="11.1" text-anchor="middle" transform="rotate(-90 497.9 56)">Norm'ed</text>
<text x="510.8" y="55" font-size="10.5" text-anchor="middle" transform="rotate(-90 510.8 55)">Tumor Killing %</text>
<text x="537.22" y="91.93" font-size="11" text-anchor="middle" transform="rotate(-15 537.22 91.93)">UTD</text>
<text x="558.67" y="95.33" font-size="11" text-anchor="middle" transform="rotate(-15 558.67 95.33)">HER2.eSPR</text>
<circle cx="584.3" cy="45.7" r="2.8" fill="#fff" stroke="#b0b0b0" stroke-width="1"/>
<text x="590.6" y="50" font-size="10.5">PBS</text>
<rect x="581.7" y="57.3" width="5.8" height="5.6" fill="#7a7a7a" stroke="none" stroke-width="1"/>
<text x="590.6" y="63.6" font-size="10.5">mFcR Blocker</text>
<text x="483.4" y="124.9" font-size="12.5" font-weight="bold">f</text>
<line x1="518.4" y1="151.7" x2="518.4" y2="202.1" stroke="#1e1e1e" stroke-width="1"/>
<line x1="515.4" y1="202.1" x2="518.4" y2="202.1" stroke="#1e1e1e" stroke-width="1"/>
<text x="514.6" y="206.3" font-size="12" text-anchor="end">0</text>
<line x1="515.4" y1="185.3" x2="518.4" y2="185.3" stroke="#1e1e1e" stroke-width="1"/>
<text x="514.6" y="189.5" font-size="12" text-anchor="end">20</text>
<line x1="515.4" y1="168.5" x2="518.4" y2="168.5" stroke="#1e1e1e" stroke-width="1"/>
<text x="514.6" y="172.7" font-size="12" text-anchor="end">40</text>
<line x1="515.4" y1="151.7" x2="518.4" y2="151.7" stroke="#1e1e1e" stroke-width="1"/>
<text x="514.6" y="155.9" font-size="12" text-anchor="end">60</text>
<line x1="516.7" y1="193.7" x2="518.4" y2="193.7" stroke="#1e1e1e" stroke-width="1"/>
<line x1="516.7" y1="176.9" x2="518.4" y2="176.9" stroke="#1e1e1e" stroke-width="1"/>
<line x1="516.7" y1="160.1" x2="518.4" y2="160.1" stroke="#1e1e1e" stroke-width="1"/>
<line x1="517" y1="202.1" x2="600.6" y2="202.1" stroke="#1e1e1e" stroke-width="1"/>
<line x1="539.3" y1="202.1" x2="539.3" y2="205.1" stroke="#1e1e1e" stroke-width="1"/>
<line x1="580.1" y1="202.1" x2="580.1" y2="205.1" stroke="#1e1e1e" stroke-width="1"/>
<line x1="525.2" y1="137.5" x2="552.7" y2="137.5" stroke="#1e1e1e" stroke-width="1"/>
<text x="538.95" y="134.5" font-size="8.8" text-anchor="middle">ns</text>
<line x1="525.2" y1="151.9" x2="544" y2="151.9" stroke="#1e1e1e" stroke-width="1"/>
<text x="534.6" y="148.9" font-size="8.8" text-anchor="middle">ns</text>
<line x1="525.2" y1="166" x2="535.7" y2="166" stroke="#1e1e1e" stroke-width="1"/>
<text x="530.45" y="163" font-size="8.8" text-anchor="middle">ns</text>
<line x1="567.2" y1="137.5" x2="595.3" y2="137.5" stroke="#1e1e1e" stroke-width="1"/>
<text x="581.25" y="134.5" font-size="8.2" text-anchor="middle">&lt;0.0001</text>
<line x1="567.2" y1="152.2" x2="586" y2="152.2" stroke="#1e1e1e" stroke-width="1"/>
<text x="576.6" y="149.2" font-size="8.2" text-anchor="middle">&lt;0.0001</text>
<line x1="567.2" y1="166.1" x2="578.1" y2="166.1" stroke="#1e1e1e" stroke-width="1"/>
<text x="572.65" y="163.1" font-size="8.2" text-anchor="middle">&lt;0.0001</text>
<ellipse cx="525.2" cy="199.58" rx="3.2" ry="2.5" fill="#111"/>
<line x1="522.6" y1="199.58" x2="527.8" y2="199.58" stroke="#111" stroke-width="1.1"/>
<ellipse cx="534.7" cy="199.58" rx="3.2" ry="2.5" fill="#d8cc98"/>
<line x1="532.1" y1="199.58" x2="537.3" y2="199.58" stroke="#111" stroke-width="1.1"/>
<ellipse cx="543.4" cy="198.74" rx="3.2" ry="2.5" fill="#f8b890"/>
<line x1="540.8" y1="198.74" x2="546" y2="198.74" stroke="#111" stroke-width="1.1"/>
<ellipse cx="552.2" cy="198.57" rx="3.2" ry="2.5" fill="#c8903a"/>
<line x1="549.6" y1="198.57" x2="554.8" y2="198.57" stroke="#111" stroke-width="1.1"/>
<ellipse cx="576" cy="191.18" rx="3.2" ry="2.5" fill="#d8cc98"/>
<line x1="573.4" y1="191.18" x2="578.6" y2="191.18" stroke="#111" stroke-width="1.1"/>
<ellipse cx="585.5" cy="196.64" rx="3.2" ry="2.5" fill="#f8b890"/>
<line x1="582.9" y1="196.64" x2="588.1" y2="196.64" stroke="#111" stroke-width="1.1"/>
<ellipse cx="594.8" cy="195.8" rx="3.2" ry="2.5" fill="#c8903a"/>
<line x1="592.2" y1="195.8" x2="597.4" y2="195.8" stroke="#111" stroke-width="1.1"/>
<circle cx="566.2" cy="175.6" r="2" fill="#fff" stroke="#111" stroke-width="1.1"/>
<circle cx="566.6" cy="173.6" r="2" fill="#fff" stroke="#111" stroke-width="1.1"/>
<circle cx="568" cy="172.2" r="2" fill="#fff" stroke="#111" stroke-width="1.1"/>
<circle cx="569.1" cy="171" r="2" fill="#fff" stroke="#111" stroke-width="1.1"/>
<circle cx="569.6" cy="173.2" r="2" fill="#fff" stroke="#111" stroke-width="1.1"/>
<circle cx="568.4" cy="170.2" r="2" fill="#fff" stroke="#111" stroke-width="1.1"/>
<circle cx="568.8" cy="171.2" r="2" fill="#111" stroke="none" stroke-width="1"/>
<line x1="565.6" y1="172.6" x2="570.4" y2="172.6" stroke="#111" stroke-width="1.1"/>
<text x="497.7" y="177.7" font-size="10.8" text-anchor="middle" transform="rotate(-90 497.7 177.7)">Phagocytosis (%)</text>
<text x="535.67" y="216.53" font-size="11" text-anchor="middle" transform="rotate(-15 535.67 216.53)">UTD</text>
<text x="566.67" y="220.63" font-size="11" text-anchor="middle" transform="rotate(-15 566.67 220.63)">HER2.eSPR</text>
<circle cx="607.3" cy="151.8" r="2.1" fill="#fff" stroke="#111" stroke-width="1.3"/>
<text x="612.7" y="155.6" font-size="10.5">Vehicle</text>
<circle cx="607.3" cy="166.3" r="2.1" fill="#fff" stroke="#cfc08a" stroke-width="1.3"/>
<text x="612.7" y="170.1" font-size="10.5">R406 (Syki)</text>
<circle cx="607.3" cy="181.4" r="2.1" fill="#fff" stroke="#f8b88a" stroke-width="1.3"/>
<text x="612.7" y="185.2" font-size="10.5">Dasatinib (Srci)</text>
<circle cx="607.3" cy="195.8" r="2.1" fill="#fff" stroke="#c08a30" stroke-width="1.3"/>
<text x="612.7" y="199.6" font-size="10.5">Ibrutinib (Btki)</text>
<text x="0" y="245.4" font-size="12.5" font-weight="bold">g</text>
<text x="35" y="255.5" font-size="7.6">Pearson's r = 0.7477</text>
<text x="35" y="264.5" font-size="7.6">R&#178; = 0.5591</text>
<text x="35" y="273.5" font-size="7.6">P = 0.0731</text>
<line x1="36.1" y1="279.9" x2="36.1" y2="330" stroke="#1e1e1e" stroke-width="1"/>
<line x1="33.1" y1="330" x2="36.1" y2="330" stroke="#1e1e1e" stroke-width="1"/>
<text x="31.6" y="333.68" font-size="10.5" text-anchor="end">0</text>
<line x1="33.1" y1="313.3" x2="36.1" y2="313.3" stroke="#1e1e1e" stroke-width="1"/>
<text x="31.6" y="316.98" font-size="10.5" text-anchor="end">20</text>
<line x1="33.1" y1="296.6" x2="36.1" y2="296.6" stroke="#1e1e1e" stroke-width="1"/>
<text x="31.6" y="300.28" font-size="10.5" text-anchor="end">40</text>
<line x1="33.1" y1="279.9" x2="36.1" y2="279.9" stroke="#1e1e1e" stroke-width="1"/>
<text x="31.6" y="283.57" font-size="10.5" text-anchor="end">60</text>
<line x1="34.4" y1="321.65" x2="36.1" y2="321.65" stroke="#1e1e1e" stroke-width="1"/>
<line x1="34.4" y1="304.95" x2="36.1" y2="304.95" stroke="#1e1e1e" stroke-width="1"/>
<line x1="34.4" y1="288.25" x2="36.1" y2="288.25" stroke="#1e1e1e" stroke-width="1"/>
<line x1="36.1" y1="330" x2="87" y2="330" stroke="#1e1e1e" stroke-width="1"/>
<line x1="36.1" y1="330" x2="36.1" y2="333" stroke="#1e1e1e" stroke-width="1"/>
<line x1="41.22" y1="330" x2="41.22" y2="331.6" stroke="#1e1e1e" stroke-width="0.8"/>
<line x1="44.21" y1="330" x2="44.21" y2="331.6" stroke="#1e1e1e" stroke-width="0.8"/>
<line x1="46.34" y1="330" x2="46.34" y2="331.6" stroke="#1e1e1e" stroke-width="0.8"/>
<line x1="47.98" y1="330" x2="47.98" y2="331.6" stroke="#1e1e1e" stroke-width="0.8"/>
<line x1="49.33" y1="330" x2="49.33" y2="331.6" stroke="#1e1e1e" stroke-width="0.8"/>
<line x1="50.47" y1="330" x2="50.47" y2="331.6" stroke="#1e1e1e" stroke-width="0.8"/>
<line x1="51.45" y1="330" x2="51.45" y2="331.6" stroke="#1e1e1e" stroke-width="0.8"/>
<line x1="52.32" y1="330" x2="52.32" y2="331.6" stroke="#1e1e1e" stroke-width="0.8"/>
<line x1="53" y1="330" x2="53" y2="333" stroke="#1e1e1e" stroke-width="1"/>
<line x1="58.12" y1="330" x2="58.12" y2="331.6" stroke="#1e1e1e" stroke-width="0.8"/>
<line x1="61.11" y1="330" x2="61.11" y2="331.6" stroke="#1e1e1e" stroke-width="0.8"/>
<line x1="63.24" y1="330" x2="63.24" y2="331.6" stroke="#1e1e1e" stroke-width="0.8"/>
<line x1="64.88" y1="330" x2="64.88" y2="331.6" stroke="#1e1e1e" stroke-width="0.8"/>
<line x1="66.23" y1="330" x2="66.23" y2="331.6" stroke="#1e1e1e" stroke-width="0.8"/>
<line x1="67.37" y1="330" x2="67.37" y2="331.6" stroke="#1e1e1e" stroke-width="0.8"/>
<line x1="68.35" y1="330" x2="68.35" y2="331.6" stroke="#1e1e1e" stroke-width="0.8"/>
<line x1="69.22" y1="330" x2="69.22" y2="331.6" stroke="#1e1e1e" stroke-width="0.8"/>
<line x1="70" y1="330" x2="70" y2="333" stroke="#1e1e1e" stroke-width="1"/>
<line x1="75.12" y1="330" x2="75.12" y2="331.6" stroke="#1e1e1e" stroke-width="0.8"/>
<line x1="78.11" y1="330" x2="78.11" y2="331.6" stroke="#1e1e1e" stroke-width="0.8"/>
<line x1="80.24" y1="330" x2="80.24" y2="331.6" stroke="#1e1e1e" stroke-width="0.8"/>
<line x1="81.88" y1="330" x2="81.88" y2="331.6" stroke="#1e1e1e" stroke-width="0.8"/>
<line x1="83.23" y1="330" x2="83.23" y2="331.6" stroke="#1e1e1e" stroke-width="0.8"/>
<line x1="84.37" y1="330" x2="84.37" y2="331.6" stroke="#1e1e1e" stroke-width="0.8"/>
<line x1="85.35" y1="330" x2="85.35" y2="331.6" stroke="#1e1e1e" stroke-width="0.8"/>
<line x1="86.22" y1="330" x2="86.22" y2="331.6" stroke="#1e1e1e" stroke-width="0.8"/>
<line x1="87" y1="330" x2="87" y2="333" stroke="#1e1e1e" stroke-width="1"/>
<text x="34.3" y="347.2" font-size="10.5" text-anchor="middle">10</text>
<text x="40.3" y="342.2" font-size="7.2">1</text>
<text x="51.2" y="347.2" font-size="10.5" text-anchor="middle">10</text>
<text x="57.2" y="342.2" font-size="7.2">2</text>
<text x="68.2" y="347.2" font-size="10.5" text-anchor="middle">10</text>
<text x="74.2" y="342.2" font-size="7.2">3</text>
<text x="85.2" y="347.2" font-size="10.5" text-anchor="middle">10</text>
<text x="91.2" y="342.2" font-size="7.2">4</text>
<text x="61.5" y="358.3" font-size="11" text-anchor="middle">HER2 MFI</text>
<text x="13.7" y="305.1" font-size="10.5" text-anchor="middle" transform="rotate(-90 13.7 305.1)">Phagocytosis ( %)</text>
<circle cx="49.2" cy="319.8" r="2.2" fill="#8a8a8a" stroke="none" stroke-width="1"/>
<rect x="57.6" y="297.3" width="4.4" height="4.4" fill="#fff" stroke="#f6b8b8" stroke-width="1.2"/>
<rect x="66.6" y="293.8" width="4.4" height="4.4" fill="#fff" stroke="#ee7c7c" stroke-width="1.2"/>
<circle cx="71.1" cy="297.7" r="2.2" fill="#fff" stroke="#555" stroke-width="0.9"/>
<line x1="71.1" y1="294.5" x2="71.1" y2="300.9" stroke="#222" stroke-width="0.8"/>
<line x1="69.7" y1="294.5" x2="72.5" y2="294.5" stroke="#222" stroke-width="0.8"/>
<line x1="69.7" y1="300.9" x2="72.5" y2="300.9" stroke="#222" stroke-width="0.8"/>
<line x1="68.8" y1="297.7" x2="73.4" y2="297.7" stroke="#222" stroke-width="0.8"/>
<rect x="75.7" y="287.6" width="4.4" height="4.4" fill="#fff" stroke="#b52a2a" stroke-width="1.3"/>
<circle cx="100.6" cy="269.8" r="1.9" fill="#8a8a8a" stroke="none" stroke-width="1"/>
<text x="107.7" y="273.4" font-size="10.5">WT</text>
<rect x="99.1" y="281.2" width="3.8" height="3.8" fill="#fff" stroke="#f6b8b8" stroke-width="1"/>
<text x="107.7" y="286.5" font-size="10.5">low</text>
<rect x="99.1" y="294.5" width="3.8" height="3.8" fill="#fff" stroke="#ee7c7c" stroke-width="1"/>
<text x="107.7" y="299.8" font-size="10.5">mid</text>
<rect x="99.1" y="307.8" width="3.8" height="3.8" fill="#fff" stroke="#b52a2a" stroke-width="1"/>
<text x="107.7" y="313.1" font-size="10.5">high</text>
<circle cx="101" cy="323.3" r="1.9" fill="#fff" stroke="#555" stroke-width="0.9"/>
<text x="107.7" y="327.4" font-size="10.5">parental</text>
<path d="M146.3 267.8 L157.2 267.8 L157.2 301.1 L153.8 301.1" stroke="#222" fill="none" stroke-width="0.9"/>
<line x1="153.8" y1="281.6" x2="153.8" y2="323" stroke="#222" stroke-width="0.9"/>
<line x1="142.5" y1="281.6" x2="142.5" y2="312" stroke="#222" stroke-width="0.9"/>
<line x1="131.9" y1="281.6" x2="131.9" y2="295.6" stroke="#444" stroke-width="1.3"/>
<line x1="131.9" y1="298" x2="131.9" y2="311.3" stroke="#444" stroke-width="1.3"/>
<text x="160.6" y="284.3" font-size="7.4" text-anchor="middle" transform="rotate(90 160.6 284.3)">&lt;0.0001</text>
<text x="146" y="297.6" font-size="7.4" text-anchor="middle" transform="rotate(90 146 297.6)">&lt;0.0001</text>
<text x="134.6" y="299.2" font-size="7.4" text-anchor="middle" transform="rotate(90 134.6 299.2)">ns 0.002</text>
<text x="189.1" y="246.2" font-size="12.5" font-weight="bold">h</text>
<text x="220.8" y="294" font-size="10.5" text-anchor="middle" transform="rotate(-90 220.8 294)">Phagocytosis (%)</text>
<line x1="243.5" y1="269.06" x2="243.5" y2="319.7" stroke="#1e1e1e" stroke-width="1"/>
<line x1="240.5" y1="319.7" x2="243.5" y2="319.7" stroke="#1e1e1e" stroke-width="1"/>
<text x="239.3" y="323.55" font-size="11" text-anchor="end">0</text>
<line x1="240.5" y1="308.57" x2="243.5" y2="308.57" stroke="#1e1e1e" stroke-width="1"/>
<text x="239.3" y="312.42" font-size="11" text-anchor="end">10</text>
<line x1="240.5" y1="297.44" x2="243.5" y2="297.44" stroke="#1e1e1e" stroke-width="1"/>
<text x="239.3" y="301.29" font-size="11" text-anchor="end">20</text>
<line x1="240.5" y1="286.31" x2="243.5" y2="286.31" stroke="#1e1e1e" stroke-width="1"/>
<text x="239.3" y="290.16" font-size="11" text-anchor="end">30</text>
<line x1="240.5" y1="275.18" x2="243.5" y2="275.18" stroke="#1e1e1e" stroke-width="1"/>
<text x="239.3" y="279.03" font-size="11" text-anchor="end">40</text>
<line x1="241.8" y1="314.13" x2="243.5" y2="314.13" stroke="#1e1e1e" stroke-width="1"/>
<line x1="241.8" y1="303" x2="243.5" y2="303" stroke="#1e1e1e" stroke-width="1"/>
<line x1="241.8" y1="291.88" x2="243.5" y2="291.88" stroke="#1e1e1e" stroke-width="1"/>
<line x1="241.8" y1="280.75" x2="243.5" y2="280.75" stroke="#1e1e1e" stroke-width="1"/>
<line x1="241.8" y1="269.62" x2="243.5" y2="269.62" stroke="#1e1e1e" stroke-width="1"/>
<line x1="243.5" y1="319.7" x2="319.9" y2="319.7" stroke="#1e1e1e" stroke-width="1"/>
<line x1="261.6" y1="319.7" x2="261.6" y2="322.7" stroke="#1e1e1e" stroke-width="1"/>
<line x1="302.1" y1="319.7" x2="302.1" y2="322.7" stroke="#1e1e1e" stroke-width="1"/>
<ellipse cx="251.1" cy="314.91" rx="3.8" ry="2.6" fill="#a8a8a8"/>
<line x1="247.9" y1="314.91" x2="254.3" y2="314.91" stroke="#111" stroke-width="1.1"/>
<ellipse cx="262" cy="308.24" rx="3.8" ry="2.6" fill="#3aa0f0"/>
<line x1="258.8" y1="308.24" x2="265.2" y2="308.24" stroke="#111" stroke-width="1.1"/>
<ellipse cx="273" cy="307.46" rx="3.8" ry="2.6" fill="#f8a444"/>
<line x1="269.8" y1="307.46" x2="276.2" y2="307.46" stroke="#111" stroke-width="1.1"/>
<ellipse cx="290.6" cy="314.91" rx="3.8" ry="2.6" fill="#a8a8a8"/>
<line x1="287.4" y1="314.91" x2="293.8" y2="314.91" stroke="#111" stroke-width="1.1"/>
<ellipse cx="302.1" cy="276.29" rx="3.8" ry="2.6" fill="#3aa0f0"/>
<line x1="298.9" y1="276.29" x2="305.3" y2="276.29" stroke="#111" stroke-width="1.1"/>
<line x1="302.1" y1="275.18" x2="302.1" y2="277.41" stroke="#111" stroke-width="0.8"/>
<line x1="300.6" y1="275.18" x2="303.6" y2="275.18" stroke="#111" stroke-width="0.8"/>
<line x1="300.6" y1="277.41" x2="303.6" y2="277.41" stroke="#111" stroke-width="0.8"/>
<ellipse cx="312.7" cy="275.18" rx="3.8" ry="2.6" fill="#f8a444"/>
<line x1="309.5" y1="275.18" x2="315.9" y2="275.18" stroke="#111" stroke-width="1.1"/>
<line x1="250.2" y1="257.1" x2="273" y2="257.1" stroke="#1e1e1e" stroke-width="1"/>
<text x="260.6" y="253.6" font-size="8" text-anchor="middle">&lt;0.0001</text>
<line x1="261.2" y1="269.1" x2="273" y2="269.1" stroke="#1e1e1e" stroke-width="1"/>
<text x="267.1" y="266.7" font-size="9" text-anchor="middle">ns</text>
<line x1="290.6" y1="257.1" x2="313.7" y2="257.1" stroke="#1e1e1e" stroke-width="1"/>
<text x="300.35" y="253.6" font-size="8" text-anchor="middle">&lt;0.0001</text>
<line x1="301.5" y1="269.2" x2="313.7" y2="269.2" stroke="#1e1e1e" stroke-width="1"/>
<text x="306.5" y="265.9" font-size="8.2" text-anchor="middle">0.0447</text>
<text x="251.07" y="336.43" font-size="11" text-anchor="middle" transform="rotate(-15 251.07 336.43)">MC38</text>
<text x="275.17" y="341.18" font-size="11" text-anchor="middle" transform="rotate(-15 275.17 341.18)">MC38.HER2</text>
<line x1="345" y1="269.9" x2="345" y2="319.9" stroke="#1e1e1e" stroke-width="1"/>
<line x1="342" y1="319.9" x2="345" y2="319.9" stroke="#1e1e1e" stroke-width="1"/>
<text x="340.8" y="323.75" font-size="11" text-anchor="end">0</text>
<line x1="342" y1="307.4" x2="345" y2="307.4" stroke="#1e1e1e" stroke-width="1"/>
<text x="340.8" y="311.25" font-size="11" text-anchor="end">10</text>
<line x1="342" y1="294.9" x2="345" y2="294.9" stroke="#1e1e1e" stroke-width="1"/>
<text x="340.8" y="298.75" font-size="11" text-anchor="end">20</text>
<line x1="342" y1="282.4" x2="345" y2="282.4" stroke="#1e1e1e" stroke-width="1"/>
<text x="340.8" y="286.25" font-size="11" text-anchor="end">30</text>
<line x1="342" y1="269.9" x2="345" y2="269.9" stroke="#1e1e1e" stroke-width="1"/>
<text x="340.8" y="273.75" font-size="11" text-anchor="end">40</text>
<line x1="343.3" y1="313.65" x2="345" y2="313.65" stroke="#1e1e1e" stroke-width="1"/>
<line x1="343.3" y1="301.15" x2="345" y2="301.15" stroke="#1e1e1e" stroke-width="1"/>
<line x1="343.3" y1="288.65" x2="345" y2="288.65" stroke="#1e1e1e" stroke-width="1"/>
<line x1="343.3" y1="276.15" x2="345" y2="276.15" stroke="#1e1e1e" stroke-width="1"/>
<line x1="345" y1="319.9" x2="420.5" y2="319.9" stroke="#1e1e1e" stroke-width="1"/>
<line x1="362.8" y1="319.9" x2="362.8" y2="322.9" stroke="#1e1e1e" stroke-width="1"/>
<line x1="402.6" y1="319.9" x2="402.6" y2="322.9" stroke="#1e1e1e" stroke-width="1"/>
<ellipse cx="351.5" cy="316.77" rx="3.8" ry="2.6" fill="#a8a8a8"/>
<line x1="348.3" y1="316.77" x2="354.7" y2="316.77" stroke="#111" stroke-width="1.1"/>
<ellipse cx="362.8" cy="315.4" rx="3.8" ry="2.6" fill="#3aa0f0"/>
<line x1="359.6" y1="315.4" x2="366" y2="315.4" stroke="#111" stroke-width="1.1"/>
<ellipse cx="373.6" cy="315.4" rx="3.8" ry="2.6" fill="#f8a444"/>
<line x1="370.4" y1="315.4" x2="376.8" y2="315.4" stroke="#111" stroke-width="1.1"/>
<ellipse cx="391.4" cy="315.77" rx="3.8" ry="2.6" fill="#a8a8a8"/>
<line x1="388.2" y1="315.77" x2="394.6" y2="315.77" stroke="#111" stroke-width="1.1"/>
<ellipse cx="402.2" cy="284.27" rx="3.8" ry="2.6" fill="#3aa0f0"/>
<line x1="399" y1="284.27" x2="405.4" y2="284.27" stroke="#111" stroke-width="1.1"/>
<line x1="402.2" y1="281.77" x2="402.2" y2="286.77" stroke="#111" stroke-width="0.8"/>
<line x1="400.7" y1="281.77" x2="403.7" y2="281.77" stroke="#111" stroke-width="0.8"/>
<line x1="400.7" y1="286.77" x2="403.7" y2="286.77" stroke="#111" stroke-width="0.8"/>
<ellipse cx="412.8" cy="283.65" rx="3.8" ry="2.6" fill="#f8a444"/>
<line x1="409.6" y1="283.65" x2="416" y2="283.65" stroke="#111" stroke-width="1.1"/>
<line x1="351.1" y1="257.2" x2="373.6" y2="257.2" stroke="#1e1e1e" stroke-width="1"/>
<text x="362.35" y="254.8" font-size="9" text-anchor="middle">ns</text>
<line x1="362.4" y1="270.9" x2="373.6" y2="270.9" stroke="#1e1e1e" stroke-width="1"/>
<text x="368" y="268.5" font-size="9" text-anchor="middle">ns</text>
<line x1="391.4" y1="257.2" x2="414.5" y2="257.2" stroke="#1e1e1e" stroke-width="1"/>
<text x="400.95" y="253.7" font-size="8" text-anchor="middle">&lt;0.0001</text>
<line x1="402.2" y1="270.9" x2="413.9" y2="270.9" stroke="#1e1e1e" stroke-width="1"/>
<text x="408.05" y="268.5" font-size="9" text-anchor="middle">ns</text>
<text x="356.82" y="335.33" font-size="11" text-anchor="middle" transform="rotate(-15 356.82 335.33)">4T1</text>
<text x="381.62" y="339.73" font-size="11" text-anchor="middle" transform="rotate(-15 381.62 339.73)">4T1.HER2</text>
<line x1="443.9" y1="269.3" x2="443.9" y2="319.3" stroke="#1e1e1e" stroke-width="1"/>
<line x1="440.9" y1="319.3" x2="443.9" y2="319.3" stroke="#1e1e1e" stroke-width="1"/>
<text x="439.7" y="323.15" font-size="11" text-anchor="end">0</text>
<line x1="440.9" y1="294.3" x2="443.9" y2="294.3" stroke="#1e1e1e" stroke-width="1"/>
<text x="439.7" y="298.15" font-size="11" text-anchor="end">10</text>
<line x1="440.9" y1="269.3" x2="443.9" y2="269.3" stroke="#1e1e1e" stroke-width="1"/>
<text x="439.7" y="273.15" font-size="11" text-anchor="end">20</text>
<line x1="442.2" y1="306.8" x2="443.9" y2="306.8" stroke="#1e1e1e" stroke-width="1"/>
<line x1="442.2" y1="281.8" x2="443.9" y2="281.8" stroke="#1e1e1e" stroke-width="1"/>
<line x1="443.9" y1="319.3" x2="521.2" y2="319.3" stroke="#1e1e1e" stroke-width="1"/>
<line x1="462.6" y1="319.3" x2="462.6" y2="322.3" stroke="#1e1e1e" stroke-width="1"/>
<line x1="503.1" y1="319.3" x2="503.1" y2="322.3" stroke="#1e1e1e" stroke-width="1"/>
<ellipse cx="452" cy="313.55" rx="3.8" ry="2.6" fill="#a8a8a8"/>
<line x1="448.8" y1="313.55" x2="455.2" y2="313.55" stroke="#111" stroke-width="1.1"/>
<ellipse cx="462.6" cy="310.05" rx="3.8" ry="2.6" fill="#3aa0f0"/>
<line x1="459.4" y1="310.05" x2="465.8" y2="310.05" stroke="#111" stroke-width="1.1"/>
<ellipse cx="473.9" cy="310.8" rx="3.8" ry="2.6" fill="#f8a444"/>
<line x1="470.7" y1="310.8" x2="477.1" y2="310.8" stroke="#111" stroke-width="1.1"/>
<ellipse cx="492.8" cy="314.55" rx="3.8" ry="2.6" fill="#a8a8a8"/>
<line x1="489.6" y1="314.55" x2="496" y2="314.55" stroke="#111" stroke-width="1.1"/>
<ellipse cx="503.1" cy="276.8" rx="3.8" ry="2.6" fill="#3aa0f0"/>
<line x1="499.9" y1="276.8" x2="506.3" y2="276.8" stroke="#111" stroke-width="1.1"/>
<line x1="503.1" y1="273.05" x2="503.1" y2="280.55" stroke="#111" stroke-width="0.8"/>
<line x1="501.6" y1="273.05" x2="504.6" y2="273.05" stroke="#111" stroke-width="0.8"/>
<line x1="501.6" y1="280.55" x2="504.6" y2="280.55" stroke="#111" stroke-width="0.8"/>
<ellipse cx="514" cy="277.55" rx="3.8" ry="2.6" fill="#f8a444"/>
<line x1="510.8" y1="277.55" x2="517.2" y2="277.55" stroke="#111" stroke-width="1.1"/>
<line x1="514" y1="275.05" x2="514" y2="280.05" stroke="#111" stroke-width="0.8"/>
<line x1="512.5" y1="275.05" x2="515.5" y2="275.05" stroke="#111" stroke-width="0.8"/>
<line x1="512.5" y1="280.05" x2="515.5" y2="280.05" stroke="#111" stroke-width="0.8"/>
<line x1="451.6" y1="257.4" x2="474.6" y2="257.4" stroke="#1e1e1e" stroke-width="1"/>
<text x="463.1" y="254.1" font-size="8.2" text-anchor="middle">0.0131</text>
<line x1="463.2" y1="270.5" x2="474.6" y2="270.5" stroke="#1e1e1e" stroke-width="1"/>
<text x="468.9" y="268.1" font-size="9" text-anchor="middle">ns</text>
<line x1="492.1" y1="257.4" x2="514.7" y2="257.4" stroke="#1e1e1e" stroke-width="1"/>
<text x="503.4" y="253.9" font-size="8" text-anchor="middle">&lt;0.0001</text>
<line x1="503.7" y1="270.5" x2="514.7" y2="270.5" stroke="#1e1e1e" stroke-width="1"/>
<text x="509.2" y="268.1" font-size="9" text-anchor="middle">ns</text>
<text x="454.87" y="335.33" font-size="11" text-anchor="middle" transform="rotate(-15 454.87 335.33)">CT26</text>
<text x="478.82" y="340.43" font-size="11" text-anchor="middle" transform="rotate(-15 478.82 340.43)">CT26.HER2</text>
<circle cx="530.2" cy="279.9" r="2.8" fill="#fff" stroke="#b0b0b0" stroke-width="1.6"/>
<text x="537.5" y="283.8" font-size="10.9">UTD</text>
<circle cx="530.2" cy="293.5" r="2.8" fill="#fff" stroke="#3aa0f0" stroke-width="1.6"/>
<text x="537.5" y="297.4" font-size="10.9">HER2.CAR</text>
<circle cx="530.2" cy="306.6" r="2.8" fill="#fff" stroke="#f8a444" stroke-width="1.6"/>
<text x="537.5" y="310.5" font-size="10.9">HER2.eSPR</text>
<text x="3.3" y="376" font-size="12.5" font-weight="bold">i</text>
<text x="10.6" y="500.8" font-size="11" text-anchor="middle" transform="rotate(-90 10.6 500.8)">Norm'ed Tumor Cell Killing (%)</text>
<line x1="6.9" y1="422" x2="6.9" y2="389" stroke="#222" stroke-width="1"/>
<path d="M4.8 390.5 L6.9 384.6 L9 390.5Z" stroke="none" fill="#222" stroke-width="1"/>
<text x="21.1" y="575.4" font-size="10.5">E:T ratio</text>
<line x1="63.4" y1="572.3" x2="113" y2="572.3" stroke="#222" stroke-width="1.2"/>
<path d="M111.6 569.4 L118.6 572.3 L111.6 575.2Z" stroke="none" fill="#222" stroke-width="1"/>
<line x1="47.2" y1="388.6" x2="47.2" y2="439.2" stroke="#1e1e1e" stroke-width="1"/>
<line x1="44.2" y1="388.6" x2="47.2" y2="388.6" stroke="#1e1e1e" stroke-width="1"/>
<text x="43" y="392.03" font-size="9.8" text-anchor="end">100</text>
<line x1="44.2" y1="405.45" x2="47.2" y2="405.45" stroke="#1e1e1e" stroke-width="1"/>
<text x="43" y="408.88" font-size="9.8" text-anchor="end">50</text>
<line x1="44.2" y1="422.3" x2="47.2" y2="422.3" stroke="#1e1e1e" stroke-width="1"/>
<text x="43" y="425.73" font-size="9.8" text-anchor="end">0</text>
<line x1="44.2" y1="439.2" x2="47.2" y2="439.2" stroke="#1e1e1e" stroke-width="1"/>
<text x="43" y="442.63" font-size="9.8" text-anchor="end">-50</text>
<line x1="45.5" y1="397.03" x2="47.2" y2="397.03" stroke="#1e1e1e" stroke-width="1"/>
<line x1="45.5" y1="413.88" x2="47.2" y2="413.88" stroke="#1e1e1e" stroke-width="1"/>
<line x1="45.5" y1="430.73" x2="47.2" y2="430.73" stroke="#1e1e1e" stroke-width="1"/>
<line x1="47.2" y1="439.2" x2="122.8" y2="439.2" stroke="#1e1e1e" stroke-width="1"/>
<line x1="53.4" y1="439.2" x2="53.4" y2="442.2" stroke="#1e1e1e" stroke-width="1"/>
<line x1="66.13" y1="439.2" x2="66.13" y2="442.2" stroke="#1e1e1e" stroke-width="1"/>
<line x1="78.86" y1="439.2" x2="78.86" y2="442.2" stroke="#1e1e1e" stroke-width="1"/>
<line x1="91.59" y1="439.2" x2="91.59" y2="442.2" stroke="#1e1e1e" stroke-width="1"/>
<line x1="104.32" y1="439.2" x2="104.32" y2="442.2" stroke="#1e1e1e" stroke-width="1"/>
<line x1="117.05" y1="439.2" x2="117.05" y2="442.2" stroke="#1e1e1e" stroke-width="1"/>
<text x="56.4" y="448.4" font-size="10.5" text-anchor="end" transform="rotate(-45 56.4 448.4)">0</text>
<text x="69.13" y="448.4" font-size="10.5" text-anchor="end" transform="rotate(-45 69.13 448.4)">0.625</text>
<text x="81.86" y="448.4" font-size="10.5" text-anchor="end" transform="rotate(-45 81.86 448.4)">1.25</text>
<text x="94.59" y="448.4" font-size="10.5" text-anchor="end" transform="rotate(-45 94.59 448.4)">2.5</text>
<text x="107.32" y="448.4" font-size="10.5" text-anchor="end" transform="rotate(-45 107.32 448.4)">5</text>
<text x="120.05" y="448.4" font-size="10.5" text-anchor="end" transform="rotate(-45 120.05 448.4)">10</text>
<text x="23.3" y="411.6" font-size="9.3" text-anchor="middle" transform="rotate(-90 23.3 411.6)">MC38.WT</text>
<path d="M53.4 422.3 L66.13 423.99 L78.86 429.04 L91.59 428.37 L104.32 428.37 L117.05 419.6" stroke="#3aa0f0" fill="none" stroke-width="1.45" stroke-linejoin="round"/>
<circle cx="53.4" cy="422.3" r="2.1" fill="#fff" stroke="#3aa0f0" stroke-width="1.25"/>
<circle cx="66.13" cy="423.99" r="2.1" fill="#fff" stroke="#3aa0f0" stroke-width="1.25"/>
<circle cx="78.86" cy="429.04" r="2.1" fill="#fff" stroke="#3aa0f0" stroke-width="1.25"/>
<circle cx="91.59" cy="428.37" r="2.1" fill="#fff" stroke="#3aa0f0" stroke-width="1.25"/>
<circle cx="104.32" cy="428.37" r="2.1" fill="#fff" stroke="#3aa0f0" stroke-width="1.25"/>
<circle cx="117.05" cy="419.6" r="2.1" fill="#fff" stroke="#3aa0f0" stroke-width="1.25"/>
<path d="M53.4 422.3 L66.13 420.62 L78.86 423.31 L91.59 423.99 L104.32 420.62 L117.05 413.54" stroke="#f8a444" fill="none" stroke-width="1.45" stroke-linejoin="round"/>
<circle cx="53.4" cy="422.3" r="2.1" fill="#fff" stroke="#f8a444" stroke-width="1.25"/>
<line x1="66.13" y1="418.93" x2="66.13" y2="422.3" stroke="#f8a444" stroke-width="1"/>
<line x1="64.33" y1="418.93" x2="67.93" y2="418.93" stroke="#f8a444" stroke-width="1"/>
<line x1="64.33" y1="422.3" x2="67.93" y2="422.3" stroke="#f8a444" stroke-width="1"/>
<circle cx="66.13" cy="420.62" r="2.1" fill="#fff" stroke="#f8a444" stroke-width="1.25"/>
<circle cx="78.86" cy="423.31" r="2.1" fill="#fff" stroke="#f8a444" stroke-width="1.25"/>
<circle cx="91.59" cy="423.99" r="2.1" fill="#fff" stroke="#f8a444" stroke-width="1.25"/>
<circle cx="104.32" cy="420.62" r="2.1" fill="#fff" stroke="#f8a444" stroke-width="1.25"/>
<circle cx="117.05" cy="413.54" r="2.1" fill="#fff" stroke="#f8a444" stroke-width="1.25"/>
<path d="M53.4 422.3 L66.13 427.36 L78.86 428.37 L91.59 431.74 L104.32 432.41 L117.05 431.74" stroke="#a8a8a8" fill="none" stroke-width="1.45" stroke-linejoin="round"/>
<rect x="51.3" y="420.2" width="4.2" height="4.2" fill="#fff" stroke="#a8a8a8" stroke-width="1.25"/>
<rect x="64.03" y="425.25" width="4.2" height="4.2" fill="#fff" stroke="#a8a8a8" stroke-width="1.25"/>
<rect x="76.76" y="426.27" width="4.2" height="4.2" fill="#fff" stroke="#a8a8a8" stroke-width="1.25"/>
<line x1="91.59" y1="430.05" x2="91.59" y2="433.42" stroke="#a8a8a8" stroke-width="1"/>
<line x1="89.79" y1="430.05" x2="93.39" y2="430.05" stroke="#a8a8a8" stroke-width="1"/>
<line x1="89.79" y1="433.42" x2="93.39" y2="433.42" stroke="#a8a8a8" stroke-width="1"/>
<rect x="89.49" y="429.64" width="4.2" height="4.2" fill="#fff" stroke="#a8a8a8" stroke-width="1.25"/>
<rect x="102.22" y="430.31" width="4.2" height="4.2" fill="#fff" stroke="#a8a8a8" stroke-width="1.25"/>
<line x1="117.05" y1="427.69" x2="117.05" y2="435.78" stroke="#a8a8a8" stroke-width="1"/>
<line x1="115.25" y1="427.69" x2="118.85" y2="427.69" stroke="#a8a8a8" stroke-width="1"/>
<line x1="115.25" y1="435.78" x2="118.85" y2="435.78" stroke="#a8a8a8" stroke-width="1"/>
<rect x="114.95" y="429.64" width="4.2" height="4.2" fill="#fff" stroke="#a8a8a8" stroke-width="1.25"/>
<line x1="48.9" y1="374.5" x2="61.4" y2="374.5" stroke="#a8a8a8" stroke-width="1.6"/>
<line x1="48.9" y1="381.75" x2="61.4" y2="381.75" stroke="#3aa0f0" stroke-width="1.6"/>
<line x1="48.9" y1="389" x2="61.4" y2="389" stroke="#f8a444" stroke-width="1.6"/>
<line x1="63.1" y1="381.1" x2="63.1" y2="389.7" stroke="#222" stroke-width="1.3"/>
<text x="65.5" y="389" font-size="8.1">&lt;0.0001</text>
<line x1="96.6" y1="374.5" x2="96.6" y2="389.7" stroke="#222" stroke-width="1.3"/>
<text x="97.7" y="385.6" font-size="8.1">&lt;0.0001</text>
<line x1="158.3" y1="388.6" x2="158.3" y2="439.2" stroke="#1e1e1e" stroke-width="1"/>
<line x1="155.3" y1="388.6" x2="158.3" y2="388.6" stroke="#1e1e1e" stroke-width="1"/>
<text x="154.1" y="392.03" font-size="9.8" text-anchor="end">100</text>
<line x1="155.3" y1="405.45" x2="158.3" y2="405.45" stroke="#1e1e1e" stroke-width="1"/>
<text x="154.1" y="408.88" font-size="9.8" text-anchor="end">50</text>
<line x1="155.3" y1="422.3" x2="158.3" y2="422.3" stroke="#1e1e1e" stroke-width="1"/>
<text x="154.1" y="425.73" font-size="9.8" text-anchor="end">0</text>
<line x1="155.3" y1="439.2" x2="158.3" y2="439.2" stroke="#1e1e1e" stroke-width="1"/>
<text x="154.1" y="442.63" font-size="9.8" text-anchor="end">-50</text>
<line x1="156.6" y1="397.03" x2="158.3" y2="397.03" stroke="#1e1e1e" stroke-width="1"/>
<line x1="156.6" y1="413.88" x2="158.3" y2="413.88" stroke="#1e1e1e" stroke-width="1"/>
<line x1="156.6" y1="430.73" x2="158.3" y2="430.73" stroke="#1e1e1e" stroke-width="1"/>
<line x1="158.3" y1="439.2" x2="233.9" y2="439.2" stroke="#1e1e1e" stroke-width="1"/>
<line x1="164.5" y1="439.2" x2="164.5" y2="442.2" stroke="#1e1e1e" stroke-width="1"/>
<line x1="177.23" y1="439.2" x2="177.23" y2="442.2" stroke="#1e1e1e" stroke-width="1"/>
<line x1="189.96" y1="439.2" x2="189.96" y2="442.2" stroke="#1e1e1e" stroke-width="1"/>
<line x1="202.69" y1="439.2" x2="202.69" y2="442.2" stroke="#1e1e1e" stroke-width="1"/>
<line x1="215.42" y1="439.2" x2="215.42" y2="442.2" stroke="#1e1e1e" stroke-width="1"/>
<line x1="228.15" y1="439.2" x2="228.15" y2="442.2" stroke="#1e1e1e" stroke-width="1"/>
<text x="167.5" y="448.4" font-size="10.5" text-anchor="end" transform="rotate(-45 167.5 448.4)">0</text>
<text x="180.23" y="448.4" font-size="10.5" text-anchor="end" transform="rotate(-45 180.23 448.4)">0.625</text>
<text x="192.96" y="448.4" font-size="10.5" text-anchor="end" transform="rotate(-45 192.96 448.4)">1.25</text>
<text x="205.69" y="448.4" font-size="10.5" text-anchor="end" transform="rotate(-45 205.69 448.4)">2.5</text>
<text x="218.42" y="448.4" font-size="10.5" text-anchor="end" transform="rotate(-45 218.42 448.4)">5</text>
<text x="231.15" y="448.4" font-size="10.5" text-anchor="end" transform="rotate(-45 231.15 448.4)">10</text>
<text x="135.7" y="413.3" font-size="9.3" text-anchor="middle" transform="rotate(-90 135.7 413.3)">4T1.WT</text>
<path d="M164.5 422.3 L177.23 420.62 L189.96 421.63 L202.69 418.93 L215.42 411.52 L228.15 407.13" stroke="#3aa0f0" fill="none" stroke-width="1.45" stroke-linejoin="round"/>
<circle cx="164.5" cy="422.3" r="2.1" fill="#fff" stroke="#3aa0f0" stroke-width="1.25"/>
<line x1="177.23" y1="416.23" x2="177.23" y2="425" stroke="#3aa0f0" stroke-width="1"/>
<line x1="175.43" y1="416.23" x2="179.03" y2="416.23" stroke="#3aa0f0" stroke-width="1"/>
<line x1="175.43" y1="425" x2="179.03" y2="425" stroke="#3aa0f0" stroke-width="1"/>
<circle cx="177.23" cy="420.62" r="2.1" fill="#fff" stroke="#3aa0f0" stroke-width="1.25"/>
<line x1="189.96" y1="419.94" x2="189.96" y2="423.31" stroke="#3aa0f0" stroke-width="1"/>
<line x1="188.16" y1="419.94" x2="191.76" y2="419.94" stroke="#3aa0f0" stroke-width="1"/>
<line x1="188.16" y1="423.31" x2="191.76" y2="423.31" stroke="#3aa0f0" stroke-width="1"/>
<circle cx="189.96" cy="421.63" r="2.1" fill="#fff" stroke="#3aa0f0" stroke-width="1.25"/>
<line x1="202.69" y1="416.57" x2="202.69" y2="421.29" stroke="#3aa0f0" stroke-width="1"/>
<line x1="200.89" y1="416.57" x2="204.49" y2="416.57" stroke="#3aa0f0" stroke-width="1"/>
<line x1="200.89" y1="421.29" x2="204.49" y2="421.29" stroke="#3aa0f0" stroke-width="1"/>
<circle cx="202.69" cy="418.93" r="2.1" fill="#fff" stroke="#3aa0f0" stroke-width="1.25"/>
<line x1="215.42" y1="408.65" x2="215.42" y2="414.38" stroke="#3aa0f0" stroke-width="1"/>
<line x1="213.62" y1="408.65" x2="217.22" y2="408.65" stroke="#3aa0f0" stroke-width="1"/>
<line x1="213.62" y1="414.38" x2="217.22" y2="414.38" stroke="#3aa0f0" stroke-width="1"/>
<circle cx="215.42" cy="411.52" r="2.1" fill="#fff" stroke="#3aa0f0" stroke-width="1.25"/>
<circle cx="228.15" cy="407.13" r="2.1" fill="#fff" stroke="#3aa0f0" stroke-width="1.25"/>
<path d="M164.5 422.3 L177.23 418.93 L189.96 415.56 L202.69 411.18 L215.42 403.43 L228.15 397.03" stroke="#f8a444" fill="none" stroke-width="1.45" stroke-linejoin="round"/>
<circle cx="164.5" cy="422.3" r="2.1" fill="#fff" stroke="#f8a444" stroke-width="1.25"/>
<circle cx="177.23" cy="418.93" r="2.1" fill="#fff" stroke="#f8a444" stroke-width="1.25"/>
<line x1="189.96" y1="412.53" x2="189.96" y2="418.59" stroke="#f8a444" stroke-width="1"/>
<line x1="188.16" y1="412.53" x2="191.76" y2="412.53" stroke="#f8a444" stroke-width="1"/>
<line x1="188.16" y1="418.59" x2="191.76" y2="418.59" stroke="#f8a444" stroke-width="1"/>
<circle cx="189.96" cy="415.56" r="2.1" fill="#fff" stroke="#f8a444" stroke-width="1.25"/>
<circle cx="202.69" cy="411.18" r="2.1" fill="#fff" stroke="#f8a444" stroke-width="1.25"/>
<circle cx="215.42" cy="403.43" r="2.1" fill="#fff" stroke="#f8a444" stroke-width="1.25"/>
<circle cx="228.15" cy="397.03" r="2.1" fill="#fff" stroke="#f8a444" stroke-width="1.25"/>
<path d="M164.5 422.3 L177.23 423.31 L189.96 421.29 L202.69 420.62 L215.42 418.93 L228.15 418.93" stroke="#a8a8a8" fill="none" stroke-width="1.45" stroke-linejoin="round"/>
<circle cx="164.5" cy="422.3" r="2.1" fill="#fff" stroke="#a8a8a8" stroke-width="1.25"/>
<line x1="177.23" y1="420.62" x2="177.23" y2="426.01" stroke="#a8a8a8" stroke-width="1"/>
<line x1="175.43" y1="420.62" x2="179.03" y2="420.62" stroke="#a8a8a8" stroke-width="1"/>
<line x1="175.43" y1="426.01" x2="179.03" y2="426.01" stroke="#a8a8a8" stroke-width="1"/>
<circle cx="177.23" cy="423.31" r="2.1" fill="#fff" stroke="#a8a8a8" stroke-width="1.25"/>
<circle cx="189.96" cy="421.29" r="2.1" fill="#fff" stroke="#a8a8a8" stroke-width="1.25"/>
<line x1="202.69" y1="416.23" x2="202.69" y2="425" stroke="#a8a8a8" stroke-width="1"/>
<line x1="200.89" y1="416.23" x2="204.49" y2="416.23" stroke="#a8a8a8" stroke-width="1"/>
<line x1="200.89" y1="425" x2="204.49" y2="425" stroke="#a8a8a8" stroke-width="1"/>
<circle cx="202.69" cy="420.62" r="2.1" fill="#fff" stroke="#a8a8a8" stroke-width="1.25"/>
<line x1="215.42" y1="416.91" x2="215.42" y2="420.95" stroke="#a8a8a8" stroke-width="1"/>
<line x1="213.62" y1="416.91" x2="217.22" y2="416.91" stroke="#a8a8a8" stroke-width="1"/>
<line x1="213.62" y1="420.95" x2="217.22" y2="420.95" stroke="#a8a8a8" stroke-width="1"/>
<circle cx="215.42" cy="418.93" r="2.1" fill="#fff" stroke="#a8a8a8" stroke-width="1.25"/>
<circle cx="228.15" cy="418.93" r="2.1" fill="#fff" stroke="#a8a8a8" stroke-width="1.25"/>
<line x1="159.9" y1="372.8" x2="171.7" y2="372.8" stroke="#a8a8a8" stroke-width="1.6"/>
<line x1="159.9" y1="380.25" x2="171.7" y2="380.25" stroke="#3aa0f0" stroke-width="1.6"/>
<line x1="159.9" y1="387.7" x2="171.7" y2="387.7" stroke="#f8a444" stroke-width="1.6"/>
<line x1="174.5" y1="381.1" x2="174.5" y2="389.7" stroke="#222" stroke-width="1.3"/>
<text x="176.9" y="389" font-size="8.1">&lt;0.0001</text>
<line x1="208.2" y1="374.5" x2="208.2" y2="389.7" stroke="#222" stroke-width="1.3"/>
<text x="209.1" y="385.6" font-size="8.1">&lt;0.0001</text>
<line x1="272.3" y1="388.6" x2="272.3" y2="439.2" stroke="#1e1e1e" stroke-width="1"/>
<line x1="269.3" y1="388.6" x2="272.3" y2="388.6" stroke="#1e1e1e" stroke-width="1"/>
<text x="268.1" y="392.03" font-size="9.8" text-anchor="end">100</text>
<line x1="269.3" y1="405.45" x2="272.3" y2="405.45" stroke="#1e1e1e" stroke-width="1"/>
<text x="268.1" y="408.88" font-size="9.8" text-anchor="end">50</text>
<line x1="269.3" y1="422.3" x2="272.3" y2="422.3" stroke="#1e1e1e" stroke-width="1"/>
<text x="268.1" y="425.73" font-size="9.8" text-anchor="end">0</text>
<line x1="269.3" y1="439.2" x2="272.3" y2="439.2" stroke="#1e1e1e" stroke-width="1"/>
<text x="268.1" y="442.63" font-size="9.8" text-anchor="end">-50</text>
<line x1="270.6" y1="397.03" x2="272.3" y2="397.03" stroke="#1e1e1e" stroke-width="1"/>
<line x1="270.6" y1="413.88" x2="272.3" y2="413.88" stroke="#1e1e1e" stroke-width="1"/>
<line x1="270.6" y1="430.73" x2="272.3" y2="430.73" stroke="#1e1e1e" stroke-width="1"/>
<line x1="272.3" y1="439.2" x2="347.9" y2="439.2" stroke="#1e1e1e" stroke-width="1"/>
<line x1="278.5" y1="439.2" x2="278.5" y2="442.2" stroke="#1e1e1e" stroke-width="1"/>
<line x1="291.23" y1="439.2" x2="291.23" y2="442.2" stroke="#1e1e1e" stroke-width="1"/>
<line x1="303.96" y1="439.2" x2="303.96" y2="442.2" stroke="#1e1e1e" stroke-width="1"/>
<line x1="316.69" y1="439.2" x2="316.69" y2="442.2" stroke="#1e1e1e" stroke-width="1"/>
<line x1="329.42" y1="439.2" x2="329.42" y2="442.2" stroke="#1e1e1e" stroke-width="1"/>
<line x1="342.15" y1="439.2" x2="342.15" y2="442.2" stroke="#1e1e1e" stroke-width="1"/>
<text x="281.5" y="448.4" font-size="10.5" text-anchor="end" transform="rotate(-45 281.5 448.4)">0</text>
<text x="294.23" y="448.4" font-size="10.5" text-anchor="end" transform="rotate(-45 294.23 448.4)">0.625</text>
<text x="306.96" y="448.4" font-size="10.5" text-anchor="end" transform="rotate(-45 306.96 448.4)">1.25</text>
<text x="319.69" y="448.4" font-size="10.5" text-anchor="end" transform="rotate(-45 319.69 448.4)">2.5</text>
<text x="332.42" y="448.4" font-size="10.5" text-anchor="end" transform="rotate(-45 332.42 448.4)">5</text>
<text x="345.15" y="448.4" font-size="10.5" text-anchor="end" transform="rotate(-45 345.15 448.4)">10</text>
<text x="246.9" y="415.3" font-size="9.3" text-anchor="middle" transform="rotate(-90 246.9 415.3)">CT26.WT</text>
<path d="M278.5 422.3 L291.23 418.93 L303.96 420.62 L316.69 419.6 L329.42 418.26 L342.15 409.83" stroke="#3aa0f0" fill="none" stroke-width="1.45" stroke-linejoin="round"/>
<circle cx="278.5" cy="422.3" r="2.1" fill="#fff" stroke="#3aa0f0" stroke-width="1.25"/>
<circle cx="291.23" cy="418.93" r="2.1" fill="#fff" stroke="#3aa0f0" stroke-width="1.25"/>
<circle cx="303.96" cy="420.62" r="2.1" fill="#fff" stroke="#3aa0f0" stroke-width="1.25"/>
<circle cx="316.69" cy="419.6" r="2.1" fill="#fff" stroke="#3aa0f0" stroke-width="1.25"/>
<circle cx="329.42" cy="418.26" r="2.1" fill="#fff" stroke="#3aa0f0" stroke-width="1.25"/>
<circle cx="342.15" cy="409.83" r="2.1" fill="#fff" stroke="#3aa0f0" stroke-width="1.25"/>
<path d="M278.5 422.3 L291.23 418.93 L303.96 417.25 L316.69 413.2 L329.42 409.49 L342.15 405.45" stroke="#f8a444" fill="none" stroke-width="1.45" stroke-linejoin="round"/>
<circle cx="278.5" cy="422.3" r="2.1" fill="#fff" stroke="#f8a444" stroke-width="1.25"/>
<circle cx="291.23" cy="418.93" r="2.1" fill="#fff" stroke="#f8a444" stroke-width="1.25"/>
<line x1="303.96" y1="414.55" x2="303.96" y2="419.94" stroke="#f8a444" stroke-width="1"/>
<line x1="302.16" y1="414.55" x2="305.76" y2="414.55" stroke="#f8a444" stroke-width="1"/>
<line x1="302.16" y1="419.94" x2="305.76" y2="419.94" stroke="#f8a444" stroke-width="1"/>
<circle cx="303.96" cy="417.25" r="2.1" fill="#fff" stroke="#f8a444" stroke-width="1.25"/>
<circle cx="316.69" cy="413.2" r="2.1" fill="#fff" stroke="#f8a444" stroke-width="1.25"/>
<circle cx="329.42" cy="409.49" r="2.1" fill="#fff" stroke="#f8a444" stroke-width="1.25"/>
<circle cx="342.15" cy="405.45" r="2.1" fill="#fff" stroke="#f8a444" stroke-width="1.25"/>
<path d="M278.5 422.97 L291.23 421.63 L303.96 422.97 L316.69 423.31 L329.42 422.3 L342.15 417.25" stroke="#a8a8a8" fill="none" stroke-width="1.45" stroke-linejoin="round"/>
<rect x="276.4" y="420.87" width="4.2" height="4.2" fill="#fff" stroke="#a8a8a8" stroke-width="1.25"/>
<line x1="291.23" y1="419.94" x2="291.23" y2="423.31" stroke="#a8a8a8" stroke-width="1"/>
<line x1="289.43" y1="419.94" x2="293.03" y2="419.94" stroke="#a8a8a8" stroke-width="1"/>
<line x1="289.43" y1="423.31" x2="293.03" y2="423.31" stroke="#a8a8a8" stroke-width="1"/>
<rect x="289.13" y="419.53" width="4.2" height="4.2" fill="#fff" stroke="#a8a8a8" stroke-width="1.25"/>
<rect x="301.86" y="420.87" width="4.2" height="4.2" fill="#fff" stroke="#a8a8a8" stroke-width="1.25"/>
<rect x="314.59" y="421.21" width="4.2" height="4.2" fill="#fff" stroke="#a8a8a8" stroke-width="1.25"/>
<rect x="327.32" y="420.2" width="4.2" height="4.2" fill="#fff" stroke="#a8a8a8" stroke-width="1.25"/>
<rect x="340.05" y="415.14" width="4.2" height="4.2" fill="#fff" stroke="#a8a8a8" stroke-width="1.25"/>
<line x1="274.2" y1="373.5" x2="286.4" y2="373.5" stroke="#a8a8a8" stroke-width="1.6"/>
<line x1="274.2" y1="380.9" x2="286.4" y2="380.9" stroke="#3aa0f0" stroke-width="1.6"/>
<line x1="274.2" y1="388.3" x2="286.4" y2="388.3" stroke="#f8a444" stroke-width="1.6"/>
<line x1="288.4" y1="381.1" x2="288.4" y2="389.7" stroke="#222" stroke-width="1.3"/>
<text x="290.5" y="389" font-size="8.1">&lt;0.0001</text>
<line x1="322.3" y1="374.5" x2="322.3" y2="389.7" stroke="#222" stroke-width="1.3"/>
<text x="323.4" y="385.6" font-size="8.1">&lt;0.0001</text>
<line x1="384.5" y1="385.8" x2="384.5" y2="436.5" stroke="#1e1e1e" stroke-width="1"/>
<line x1="381.5" y1="385.8" x2="384.5" y2="385.8" stroke="#1e1e1e" stroke-width="1"/>
<text x="380.3" y="389.23" font-size="9.8" text-anchor="end">100</text>
<line x1="381.5" y1="402.7" x2="384.5" y2="402.7" stroke="#1e1e1e" stroke-width="1"/>
<text x="380.3" y="406.13" font-size="9.8" text-anchor="end">50</text>
<line x1="381.5" y1="419.6" x2="384.5" y2="419.6" stroke="#1e1e1e" stroke-width="1"/>
<text x="380.3" y="423.03" font-size="9.8" text-anchor="end">0</text>
<line x1="381.5" y1="436.5" x2="384.5" y2="436.5" stroke="#1e1e1e" stroke-width="1"/>
<text x="380.3" y="439.93" font-size="9.8" text-anchor="end">-50</text>
<line x1="382.8" y1="394.25" x2="384.5" y2="394.25" stroke="#1e1e1e" stroke-width="1"/>
<line x1="382.8" y1="411.15" x2="384.5" y2="411.15" stroke="#1e1e1e" stroke-width="1"/>
<line x1="382.8" y1="428.05" x2="384.5" y2="428.05" stroke="#1e1e1e" stroke-width="1"/>
<line x1="384.5" y1="436.5" x2="460.1" y2="436.5" stroke="#1e1e1e" stroke-width="1"/>
<line x1="390.7" y1="436.5" x2="390.7" y2="439.5" stroke="#1e1e1e" stroke-width="1"/>
<line x1="403.43" y1="436.5" x2="403.43" y2="439.5" stroke="#1e1e1e" stroke-width="1"/>
<line x1="416.16" y1="436.5" x2="416.16" y2="439.5" stroke="#1e1e1e" stroke-width="1"/>
<line x1="428.89" y1="436.5" x2="428.89" y2="439.5" stroke="#1e1e1e" stroke-width="1"/>
<line x1="441.62" y1="436.5" x2="441.62" y2="439.5" stroke="#1e1e1e" stroke-width="1"/>
<line x1="454.35" y1="436.5" x2="454.35" y2="439.5" stroke="#1e1e1e" stroke-width="1"/>
<text x="393.7" y="447.7" font-size="10.5" text-anchor="end" transform="rotate(-45 393.7 447.7)">0</text>
<text x="406.43" y="447.7" font-size="10.5" text-anchor="end" transform="rotate(-45 406.43 447.7)">0.625</text>
<text x="419.16" y="447.7" font-size="10.5" text-anchor="end" transform="rotate(-45 419.16 447.7)">1.25</text>
<text x="431.89" y="447.7" font-size="10.5" text-anchor="end" transform="rotate(-45 431.89 447.7)">2.5</text>
<text x="444.62" y="447.7" font-size="10.5" text-anchor="end" transform="rotate(-45 444.62 447.7)">5</text>
<text x="457.35" y="447.7" font-size="10.5" text-anchor="end" transform="rotate(-45 457.35 447.7)">10</text>
<text x="359.6" y="411.6" font-size="9.3" text-anchor="middle" transform="rotate(-90 359.6 411.6)">4T1.WT</text>
<path d="M390.7 420.61 L403.43 422.98 L416.16 421.29 L428.89 418.59 L441.62 419.6 L454.35 411.15" stroke="#a4f0f6" fill="none" stroke-width="1.45" stroke-linejoin="round"/>
<rect x="388.6" y="418.51" width="4.2" height="4.2" fill="#fff" stroke="#a4f0f6" stroke-width="1.25"/>
<line x1="403.43" y1="420.95" x2="403.43" y2="425.01" stroke="#a4f0f6" stroke-width="1"/>
<line x1="401.63" y1="420.95" x2="405.23" y2="420.95" stroke="#a4f0f6" stroke-width="1"/>
<line x1="401.63" y1="425.01" x2="405.23" y2="425.01" stroke="#a4f0f6" stroke-width="1"/>
<rect x="401.33" y="420.88" width="4.2" height="4.2" fill="#fff" stroke="#a4f0f6" stroke-width="1.25"/>
<rect x="414.06" y="419.19" width="4.2" height="4.2" fill="#fff" stroke="#a4f0f6" stroke-width="1.25"/>
<line x1="428.89" y1="416.9" x2="428.89" y2="420.28" stroke="#a4f0f6" stroke-width="1"/>
<line x1="427.09" y1="416.9" x2="430.69" y2="416.9" stroke="#a4f0f6" stroke-width="1"/>
<line x1="427.09" y1="420.28" x2="430.69" y2="420.28" stroke="#a4f0f6" stroke-width="1"/>
<rect x="426.79" y="416.49" width="4.2" height="4.2" fill="#fff" stroke="#a4f0f6" stroke-width="1.25"/>
<rect x="439.52" y="417.5" width="4.2" height="4.2" fill="#fff" stroke="#a4f0f6" stroke-width="1.25"/>
<line x1="454.35" y1="409.12" x2="454.35" y2="413.18" stroke="#a4f0f6" stroke-width="1"/>
<line x1="452.55" y1="409.12" x2="456.15" y2="409.12" stroke="#a4f0f6" stroke-width="1"/>
<line x1="452.55" y1="413.18" x2="456.15" y2="413.18" stroke="#a4f0f6" stroke-width="1"/>
<rect x="452.25" y="409.05" width="4.2" height="4.2" fill="#fff" stroke="#a4f0f6" stroke-width="1.25"/>
<path d="M390.7 419.6 L403.43 417.91 L416.16 412.84 L428.89 408.78 L441.62 404.39 L454.35 401.01" stroke="#d84ad8" fill="none" stroke-width="1.45" stroke-linejoin="round"/>
<circle cx="390.7" cy="419.6" r="2.1" fill="#fff" stroke="#d84ad8" stroke-width="1.25"/>
<circle cx="403.43" cy="417.91" r="2.1" fill="#fff" stroke="#d84ad8" stroke-width="1.25"/>
<circle cx="416.16" cy="412.84" r="2.1" fill="#fff" stroke="#d84ad8" stroke-width="1.25"/>
<circle cx="428.89" cy="408.78" r="2.1" fill="#fff" stroke="#d84ad8" stroke-width="1.25"/>
<circle cx="441.62" cy="404.39" r="2.1" fill="#fff" stroke="#d84ad8" stroke-width="1.25"/>
<circle cx="454.35" cy="401.01" r="2.1" fill="#fff" stroke="#d84ad8" stroke-width="1.25"/>
<path d="M390.7 419.6 L403.43 420.61 L416.16 422.3 L428.89 422.98 L441.62 419.6 L454.35 413.52" stroke="#a8a8a8" fill="none" stroke-width="1.45" stroke-linejoin="round"/>
<rect x="388.6" y="417.5" width="4.2" height="4.2" fill="#fff" stroke="#a8a8a8" stroke-width="1.25"/>
<rect x="401.33" y="418.51" width="4.2" height="4.2" fill="#fff" stroke="#a8a8a8" stroke-width="1.25"/>
<rect x="414.06" y="420.2" width="4.2" height="4.2" fill="#fff" stroke="#a8a8a8" stroke-width="1.25"/>
<line x1="428.89" y1="420.61" x2="428.89" y2="425.35" stroke="#a8a8a8" stroke-width="1"/>
<line x1="427.09" y1="420.61" x2="430.69" y2="420.61" stroke="#a8a8a8" stroke-width="1"/>
<line x1="427.09" y1="425.35" x2="430.69" y2="425.35" stroke="#a8a8a8" stroke-width="1"/>
<rect x="426.79" y="420.88" width="4.2" height="4.2" fill="#fff" stroke="#a8a8a8" stroke-width="1.25"/>
<rect x="439.52" y="417.5" width="4.2" height="4.2" fill="#fff" stroke="#a8a8a8" stroke-width="1.25"/>
<rect x="452.25" y="411.42" width="4.2" height="4.2" fill="#fff" stroke="#a8a8a8" stroke-width="1.25"/>
<line x1="387.3" y1="370.6" x2="399.1" y2="370.6" stroke="#a8a8a8" stroke-width="1.6"/>
<line x1="387.3" y1="377.8" x2="399.1" y2="377.8" stroke="#a4f0f6" stroke-width="1.6"/>
<line x1="387.3" y1="385" x2="399.1" y2="385" stroke="#d84ad8" stroke-width="1.6"/>
<line x1="397.8" y1="381.1" x2="397.8" y2="389.7" stroke="#222" stroke-width="1.3"/>
<text x="399.9" y="389" font-size="8.1">&lt;0.0001</text>
<line x1="431.7" y1="374.5" x2="431.7" y2="389.7" stroke="#222" stroke-width="1.3"/>
<text x="432.7" y="385.6" font-size="8.1">&lt;0.0001</text>
<line x1="495.6" y1="388.6" x2="495.6" y2="439.2" stroke="#1e1e1e" stroke-width="1"/>
<line x1="492.6" y1="388.6" x2="495.6" y2="388.6" stroke="#1e1e1e" stroke-width="1"/>
<text x="491.4" y="392.03" font-size="9.8" text-anchor="end">100</text>
<line x1="492.6" y1="405.45" x2="495.6" y2="405.45" stroke="#1e1e1e" stroke-width="1"/>
<text x="491.4" y="408.88" font-size="9.8" text-anchor="end">50</text>
<line x1="492.6" y1="422.3" x2="495.6" y2="422.3" stroke="#1e1e1e" stroke-width="1"/>
<text x="491.4" y="425.73" font-size="9.8" text-anchor="end">0</text>
<line x1="492.6" y1="439.2" x2="495.6" y2="439.2" stroke="#1e1e1e" stroke-width="1"/>
<text x="491.4" y="442.63" font-size="9.8" text-anchor="end">-50</text>
<line x1="493.9" y1="397.03" x2="495.6" y2="397.03" stroke="#1e1e1e" stroke-width="1"/>
<line x1="493.9" y1="413.88" x2="495.6" y2="413.88" stroke="#1e1e1e" stroke-width="1"/>
<line x1="493.9" y1="430.73" x2="495.6" y2="430.73" stroke="#1e1e1e" stroke-width="1"/>
<line x1="495.6" y1="439.2" x2="571.2" y2="439.2" stroke="#1e1e1e" stroke-width="1"/>
<line x1="501.8" y1="439.2" x2="501.8" y2="442.2" stroke="#1e1e1e" stroke-width="1"/>
<line x1="514.53" y1="439.2" x2="514.53" y2="442.2" stroke="#1e1e1e" stroke-width="1"/>
<line x1="527.26" y1="439.2" x2="527.26" y2="442.2" stroke="#1e1e1e" stroke-width="1"/>
<line x1="539.99" y1="439.2" x2="539.99" y2="442.2" stroke="#1e1e1e" stroke-width="1"/>
<line x1="552.72" y1="439.2" x2="552.72" y2="442.2" stroke="#1e1e1e" stroke-width="1"/>
<line x1="565.45" y1="439.2" x2="565.45" y2="442.2" stroke="#1e1e1e" stroke-width="1"/>
<text x="504.8" y="448.4" font-size="10.5" text-anchor="end" transform="rotate(-45 504.8 448.4)">0</text>
<text x="517.53" y="448.4" font-size="10.5" text-anchor="end" transform="rotate(-45 517.53 448.4)">0.625</text>
<text x="530.26" y="448.4" font-size="10.5" text-anchor="end" transform="rotate(-45 530.26 448.4)">1.25</text>
<text x="542.99" y="448.4" font-size="10.5" text-anchor="end" transform="rotate(-45 542.99 448.4)">2.5</text>
<text x="555.72" y="448.4" font-size="10.5" text-anchor="end" transform="rotate(-45 555.72 448.4)">5</text>
<text x="568.45" y="448.4" font-size="10.5" text-anchor="end" transform="rotate(-45 568.45 448.4)">10</text>
<text x="472.8" y="412.7" font-size="9.3" text-anchor="middle" transform="rotate(-90 472.8 412.7)">231.WT</text>
<path d="M501.8 423.31 L514.53 426.34 L527.26 423.31 L539.99 422.97 L552.72 417.25 L565.45 405.11" stroke="#98ec98" fill="none" stroke-width="1.45" stroke-linejoin="round"/>
<rect x="499.7" y="421.21" width="4.2" height="4.2" fill="#fff" stroke="#98ec98" stroke-width="1.25"/>
<rect x="512.43" y="424.24" width="4.2" height="4.2" fill="#fff" stroke="#98ec98" stroke-width="1.25"/>
<rect x="525.16" y="421.21" width="4.2" height="4.2" fill="#fff" stroke="#98ec98" stroke-width="1.25"/>
<rect x="537.89" y="420.87" width="4.2" height="4.2" fill="#fff" stroke="#98ec98" stroke-width="1.25"/>
<rect x="550.62" y="415.14" width="4.2" height="4.2" fill="#fff" stroke="#98ec98" stroke-width="1.25"/>
<rect x="563.35" y="403.01" width="4.2" height="4.2" fill="#fff" stroke="#98ec98" stroke-width="1.25"/>
<path d="M501.8 422.3 L514.53 411.18 L527.26 404.44 L539.99 397.03 L552.72 392.98 L565.45 391.63" stroke="#e0561e" fill="none" stroke-width="1.45" stroke-linejoin="round"/>
<circle cx="501.8" cy="422.3" r="2.1" fill="#fff" stroke="#e0561e" stroke-width="1.25"/>
<circle cx="514.53" cy="411.18" r="2.1" fill="#fff" stroke="#e0561e" stroke-width="1.25"/>
<circle cx="527.26" cy="404.44" r="2.1" fill="#fff" stroke="#e0561e" stroke-width="1.25"/>
<circle cx="539.99" cy="397.03" r="2.1" fill="#fff" stroke="#e0561e" stroke-width="1.25"/>
<circle cx="552.72" cy="392.98" r="2.1" fill="#fff" stroke="#e0561e" stroke-width="1.25"/>
<circle cx="565.45" cy="391.63" r="2.1" fill="#fff" stroke="#e0561e" stroke-width="1.25"/>
<path d="M501.8 421.63 L514.53 426.68 L527.26 430.73 L539.99 432.41 L552.72 433.42 L565.45 429.04" stroke="#a8a8a8" fill="none" stroke-width="1.45" stroke-linejoin="round"/>
<circle cx="501.8" cy="421.63" r="2.1" fill="#fff" stroke="#a8a8a8" stroke-width="1.25"/>
<circle cx="514.53" cy="426.68" r="2.1" fill="#fff" stroke="#a8a8a8" stroke-width="1.25"/>
<circle cx="527.26" cy="430.73" r="2.1" fill="#fff" stroke="#a8a8a8" stroke-width="1.25"/>
<circle cx="539.99" cy="432.41" r="2.1" fill="#fff" stroke="#a8a8a8" stroke-width="1.25"/>
<circle cx="552.72" cy="433.42" r="2.1" fill="#fff" stroke="#a8a8a8" stroke-width="1.25"/>
<circle cx="565.45" cy="429.04" r="2.1" fill="#fff" stroke="#a8a8a8" stroke-width="1.25"/>
<line x1="496.9" y1="374.1" x2="508.8" y2="374.1" stroke="#a8a8a8" stroke-width="1.6"/>
<line x1="496.9" y1="381.4" x2="508.8" y2="381.4" stroke="#98ec98" stroke-width="1.6"/>
<line x1="496.9" y1="388.7" x2="508.8" y2="388.7" stroke="#e0561e" stroke-width="1.6"/>
<line x1="510.7" y1="381.1" x2="510.7" y2="389.7" stroke="#222" stroke-width="1.3"/>
<text x="513.3" y="389" font-size="8.1">&lt;0.0001</text>
<line x1="544.9" y1="374.5" x2="544.9" y2="389.7" stroke="#222" stroke-width="1.3"/>
<text x="546.1" y="385.6" font-size="8.1">&lt;0.0001</text>
<line x1="46.7" y1="486.3" x2="46.7" y2="536.7" stroke="#1e1e1e" stroke-width="1"/>
<line x1="43.7" y1="486.3" x2="46.7" y2="486.3" stroke="#1e1e1e" stroke-width="1"/>
<text x="42.5" y="489.73" font-size="9.8" text-anchor="end">100</text>
<line x1="43.7" y1="503.1" x2="46.7" y2="503.1" stroke="#1e1e1e" stroke-width="1"/>
<text x="42.5" y="506.53" font-size="9.8" text-anchor="end">50</text>
<line x1="43.7" y1="519.9" x2="46.7" y2="519.9" stroke="#1e1e1e" stroke-width="1"/>
<text x="42.5" y="523.33" font-size="9.8" text-anchor="end">0</text>
<line x1="43.7" y1="536.7" x2="46.7" y2="536.7" stroke="#1e1e1e" stroke-width="1"/>
<text x="42.5" y="540.13" font-size="9.8" text-anchor="end">-50</text>
<line x1="45" y1="494.7" x2="46.7" y2="494.7" stroke="#1e1e1e" stroke-width="1"/>
<line x1="45" y1="511.5" x2="46.7" y2="511.5" stroke="#1e1e1e" stroke-width="1"/>
<line x1="45" y1="528.3" x2="46.7" y2="528.3" stroke="#1e1e1e" stroke-width="1"/>
<line x1="46.7" y1="536.7" x2="122.3" y2="536.7" stroke="#1e1e1e" stroke-width="1"/>
<line x1="52.9" y1="536.7" x2="52.9" y2="539.7" stroke="#1e1e1e" stroke-width="1"/>
<line x1="65.63" y1="536.7" x2="65.63" y2="539.7" stroke="#1e1e1e" stroke-width="1"/>
<line x1="78.36" y1="536.7" x2="78.36" y2="539.7" stroke="#1e1e1e" stroke-width="1"/>
<line x1="91.09" y1="536.7" x2="91.09" y2="539.7" stroke="#1e1e1e" stroke-width="1"/>
<line x1="103.82" y1="536.7" x2="103.82" y2="539.7" stroke="#1e1e1e" stroke-width="1"/>
<line x1="116.55" y1="536.7" x2="116.55" y2="539.7" stroke="#1e1e1e" stroke-width="1"/>
<text x="55.9" y="545.7" font-size="10.5" text-anchor="end" transform="rotate(-45 55.9 545.7)">0</text>
<text x="68.63" y="545.7" font-size="10.5" text-anchor="end" transform="rotate(-45 68.63 545.7)">0.625</text>
<text x="81.36" y="545.7" font-size="10.5" text-anchor="end" transform="rotate(-45 81.36 545.7)">1.25</text>
<text x="94.09" y="545.7" font-size="10.5" text-anchor="end" transform="rotate(-45 94.09 545.7)">2.5</text>
<text x="106.82" y="545.7" font-size="10.5" text-anchor="end" transform="rotate(-45 106.82 545.7)">5</text>
<text x="119.55" y="545.7" font-size="10.5" text-anchor="end" transform="rotate(-45 119.55 545.7)">10</text>
<text x="23.2" y="510.5" font-size="9.3" text-anchor="middle" transform="rotate(-90 23.2 510.5)">MC38.HER2</text>
<path d="M52.9 519.9 L65.63 519.9 L78.36 510.49 L91.09 505.79 L103.82 497.05 L116.55 492.35" stroke="#f8a444" fill="none" stroke-width="1.45" stroke-linejoin="round"/>
<circle cx="52.9" cy="519.9" r="2.3" fill="#f8a444" stroke="none" stroke-width="1"/>
<circle cx="65.63" cy="519.9" r="2.3" fill="#f8a444" stroke="none" stroke-width="1"/>
<line x1="78.36" y1="508.81" x2="78.36" y2="512.17" stroke="#f8a444" stroke-width="1"/>
<line x1="76.56" y1="508.81" x2="80.16" y2="508.81" stroke="#f8a444" stroke-width="1"/>
<line x1="76.56" y1="512.17" x2="80.16" y2="512.17" stroke="#f8a444" stroke-width="1"/>
<circle cx="78.36" cy="510.49" r="2.3" fill="#f8a444" stroke="none" stroke-width="1"/>
<circle cx="91.09" cy="505.79" r="2.3" fill="#f8a444" stroke="none" stroke-width="1"/>
<circle cx="103.82" cy="497.05" r="2.3" fill="#f8a444" stroke="none" stroke-width="1"/>
<circle cx="116.55" cy="492.35" r="2.3" fill="#f8a444" stroke="none" stroke-width="1"/>
<path d="M52.9 519.9 L65.63 514.52 L78.36 512.51 L91.09 507.47 L103.82 502.43 L116.55 499.07" stroke="#3aa0f0" fill="none" stroke-width="1.45" stroke-linejoin="round"/>
<circle cx="52.9" cy="519.9" r="2.3" fill="#3aa0f0" stroke="none" stroke-width="1"/>
<circle cx="65.63" cy="514.52" r="2.3" fill="#3aa0f0" stroke="none" stroke-width="1"/>
<circle cx="78.36" cy="512.51" r="2.3" fill="#3aa0f0" stroke="none" stroke-width="1"/>
<circle cx="91.09" cy="507.47" r="2.3" fill="#3aa0f0" stroke="none" stroke-width="1"/>
<circle cx="103.82" cy="502.43" r="2.3" fill="#3aa0f0" stroke="none" stroke-width="1"/>
<circle cx="116.55" cy="499.07" r="2.3" fill="#3aa0f0" stroke="none" stroke-width="1"/>
<path d="M52.9 519.9 L65.63 523.93 L78.36 524.27 L91.09 526.62 L103.82 528.3 L116.55 527.29" stroke="#a8a8a8" fill="none" stroke-width="1.45" stroke-linejoin="round"/>
<circle cx="52.9" cy="519.9" r="2.3" fill="#a8a8a8" stroke="none" stroke-width="1"/>
<circle cx="65.63" cy="523.93" r="2.3" fill="#a8a8a8" stroke="none" stroke-width="1"/>
<circle cx="78.36" cy="524.27" r="2.3" fill="#a8a8a8" stroke="none" stroke-width="1"/>
<line x1="91.09" y1="523.93" x2="91.09" y2="529.31" stroke="#a8a8a8" stroke-width="1"/>
<line x1="89.29" y1="523.93" x2="92.89" y2="523.93" stroke="#a8a8a8" stroke-width="1"/>
<line x1="89.29" y1="529.31" x2="92.89" y2="529.31" stroke="#a8a8a8" stroke-width="1"/>
<circle cx="91.09" cy="526.62" r="2.3" fill="#a8a8a8" stroke="none" stroke-width="1"/>
<circle cx="103.82" cy="528.3" r="2.3" fill="#a8a8a8" stroke="none" stroke-width="1"/>
<line x1="116.55" y1="524.94" x2="116.55" y2="529.64" stroke="#a8a8a8" stroke-width="1"/>
<line x1="114.75" y1="524.94" x2="118.35" y2="524.94" stroke="#a8a8a8" stroke-width="1"/>
<line x1="114.75" y1="529.64" x2="118.35" y2="529.64" stroke="#a8a8a8" stroke-width="1"/>
<circle cx="116.55" cy="527.29" r="2.3" fill="#a8a8a8" stroke="none" stroke-width="1"/>
<line x1="48.9" y1="471.9" x2="61" y2="471.9" stroke="#a8a8a8" stroke-width="1.6"/>
<line x1="48.9" y1="479.25" x2="61" y2="479.25" stroke="#3aa0f0" stroke-width="1.6"/>
<line x1="48.9" y1="486.6" x2="61" y2="486.6" stroke="#f8a444" stroke-width="1.6"/>
<line x1="62.7" y1="478.4" x2="62.7" y2="487" stroke="#222" stroke-width="1.3"/>
<text x="65.3" y="486.7" font-size="8.1">&lt;0.0001</text>
<line x1="96.9" y1="472" x2="96.9" y2="487" stroke="#222" stroke-width="1.3"/>
<text x="98.4" y="482.9" font-size="8.1">&lt;0.0001</text>
<line x1="158.3" y1="486.3" x2="158.3" y2="536.7" stroke="#1e1e1e" stroke-width="1"/>
<line x1="155.3" y1="486.3" x2="158.3" y2="486.3" stroke="#1e1e1e" stroke-width="1"/>
<text x="154.1" y="489.73" font-size="9.8" text-anchor="end">100</text>
<line x1="155.3" y1="503.1" x2="158.3" y2="503.1" stroke="#1e1e1e" stroke-width="1"/>
<text x="154.1" y="506.53" font-size="9.8" text-anchor="end">50</text>
<line x1="155.3" y1="519.9" x2="158.3" y2="519.9" stroke="#1e1e1e" stroke-width="1"/>
<text x="154.1" y="523.33" font-size="9.8" text-anchor="end">0</text>
<line x1="155.3" y1="536.7" x2="158.3" y2="536.7" stroke="#1e1e1e" stroke-width="1"/>
<text x="154.1" y="540.13" font-size="9.8" text-anchor="end">-50</text>
<line x1="156.6" y1="494.7" x2="158.3" y2="494.7" stroke="#1e1e1e" stroke-width="1"/>
<line x1="156.6" y1="511.5" x2="158.3" y2="511.5" stroke="#1e1e1e" stroke-width="1"/>
<line x1="156.6" y1="528.3" x2="158.3" y2="528.3" stroke="#1e1e1e" stroke-width="1"/>
<line x1="158.3" y1="536.7" x2="233.9" y2="536.7" stroke="#1e1e1e" stroke-width="1"/>
<line x1="164.5" y1="536.7" x2="164.5" y2="539.7" stroke="#1e1e1e" stroke-width="1"/>
<line x1="177.23" y1="536.7" x2="177.23" y2="539.7" stroke="#1e1e1e" stroke-width="1"/>
<line x1="189.96" y1="536.7" x2="189.96" y2="539.7" stroke="#1e1e1e" stroke-width="1"/>
<line x1="202.69" y1="536.7" x2="202.69" y2="539.7" stroke="#1e1e1e" stroke-width="1"/>
<line x1="215.42" y1="536.7" x2="215.42" y2="539.7" stroke="#1e1e1e" stroke-width="1"/>
<line x1="228.15" y1="536.7" x2="228.15" y2="539.7" stroke="#1e1e1e" stroke-width="1"/>
<text x="167.5" y="545.7" font-size="10.5" text-anchor="end" transform="rotate(-45 167.5 545.7)">0</text>
<text x="180.23" y="545.7" font-size="10.5" text-anchor="end" transform="rotate(-45 180.23 545.7)">0.625</text>
<text x="192.96" y="545.7" font-size="10.5" text-anchor="end" transform="rotate(-45 192.96 545.7)">1.25</text>
<text x="205.69" y="545.7" font-size="10.5" text-anchor="end" transform="rotate(-45 205.69 545.7)">2.5</text>
<text x="218.42" y="545.7" font-size="10.5" text-anchor="end" transform="rotate(-45 218.42 545.7)">5</text>
<text x="231.15" y="545.7" font-size="10.5" text-anchor="end" transform="rotate(-45 231.15 545.7)">10</text>
<text x="135.7" y="510.4" font-size="9.3" text-anchor="middle" transform="rotate(-90 135.7 510.4)">4T1.HER2</text>
<path d="M164.5 519.9 L177.23 507.47 L189.96 500.41 L202.69 494.7 L215.42 490.67 L228.15 489.32" stroke="#f8a444" fill="none" stroke-width="1.45" stroke-linejoin="round"/>
<circle cx="164.5" cy="519.9" r="2.3" fill="#f8a444" stroke="none" stroke-width="1"/>
<circle cx="177.23" cy="507.47" r="2.3" fill="#f8a444" stroke="none" stroke-width="1"/>
<line x1="189.96" y1="498.73" x2="189.96" y2="502.09" stroke="#f8a444" stroke-width="1"/>
<line x1="188.16" y1="498.73" x2="191.76" y2="498.73" stroke="#f8a444" stroke-width="1"/>
<line x1="188.16" y1="502.09" x2="191.76" y2="502.09" stroke="#f8a444" stroke-width="1"/>
<circle cx="189.96" cy="500.41" r="2.3" fill="#f8a444" stroke="none" stroke-width="1"/>
<circle cx="202.69" cy="494.7" r="2.3" fill="#f8a444" stroke="none" stroke-width="1"/>
<circle cx="215.42" cy="490.67" r="2.3" fill="#f8a444" stroke="none" stroke-width="1"/>
<circle cx="228.15" cy="489.32" r="2.3" fill="#f8a444" stroke="none" stroke-width="1"/>
<path d="M164.5 519.9 L177.23 517.21 L189.96 508.81 L202.69 503.77 L215.42 498.06 L228.15 493.02" stroke="#3aa0f0" fill="none" stroke-width="1.45" stroke-linejoin="round"/>
<circle cx="164.5" cy="519.9" r="2.3" fill="#3aa0f0" stroke="none" stroke-width="1"/>
<circle cx="177.23" cy="517.21" r="2.3" fill="#3aa0f0" stroke="none" stroke-width="1"/>
<line x1="189.96" y1="506.8" x2="189.96" y2="510.83" stroke="#3aa0f0" stroke-width="1"/>
<line x1="188.16" y1="506.8" x2="191.76" y2="506.8" stroke="#3aa0f0" stroke-width="1"/>
<line x1="188.16" y1="510.83" x2="191.76" y2="510.83" stroke="#3aa0f0" stroke-width="1"/>
<circle cx="189.96" cy="508.81" r="2.3" fill="#3aa0f0" stroke="none" stroke-width="1"/>
<line x1="202.69" y1="500.75" x2="202.69" y2="506.8" stroke="#3aa0f0" stroke-width="1"/>
<line x1="200.89" y1="500.75" x2="204.49" y2="500.75" stroke="#3aa0f0" stroke-width="1"/>
<line x1="200.89" y1="506.8" x2="204.49" y2="506.8" stroke="#3aa0f0" stroke-width="1"/>
<circle cx="202.69" cy="503.77" r="2.3" fill="#3aa0f0" stroke="none" stroke-width="1"/>
<line x1="215.42" y1="495.71" x2="215.42" y2="500.41" stroke="#3aa0f0" stroke-width="1"/>
<line x1="213.62" y1="495.71" x2="217.22" y2="495.71" stroke="#3aa0f0" stroke-width="1"/>
<line x1="213.62" y1="500.41" x2="217.22" y2="500.41" stroke="#3aa0f0" stroke-width="1"/>
<circle cx="215.42" cy="498.06" r="2.3" fill="#3aa0f0" stroke="none" stroke-width="1"/>
<circle cx="228.15" cy="493.02" r="2.3" fill="#3aa0f0" stroke="none" stroke-width="1"/>
<path d="M164.5 519.9 L177.23 522.59 L189.96 519.9 L202.69 519.9 L215.42 518.89 L228.15 515.87" stroke="#a8a8a8" fill="none" stroke-width="1.45" stroke-linejoin="round"/>
<circle cx="164.5" cy="519.9" r="2.3" fill="#a8a8a8" stroke="none" stroke-width="1"/>
<line x1="177.23" y1="519.9" x2="177.23" y2="525.28" stroke="#a8a8a8" stroke-width="1"/>
<line x1="175.43" y1="519.9" x2="179.03" y2="519.9" stroke="#a8a8a8" stroke-width="1"/>
<line x1="175.43" y1="525.28" x2="179.03" y2="525.28" stroke="#a8a8a8" stroke-width="1"/>
<circle cx="177.23" cy="522.59" r="2.3" fill="#a8a8a8" stroke="none" stroke-width="1"/>
<circle cx="189.96" cy="519.9" r="2.3" fill="#a8a8a8" stroke="none" stroke-width="1"/>
<line x1="202.69" y1="516.2" x2="202.69" y2="523.6" stroke="#a8a8a8" stroke-width="1"/>
<line x1="200.89" y1="516.2" x2="204.49" y2="516.2" stroke="#a8a8a8" stroke-width="1"/>
<line x1="200.89" y1="523.6" x2="204.49" y2="523.6" stroke="#a8a8a8" stroke-width="1"/>
<circle cx="202.69" cy="519.9" r="2.3" fill="#a8a8a8" stroke="none" stroke-width="1"/>
<line x1="215.42" y1="516.54" x2="215.42" y2="521.24" stroke="#a8a8a8" stroke-width="1"/>
<line x1="213.62" y1="516.54" x2="217.22" y2="516.54" stroke="#a8a8a8" stroke-width="1"/>
<line x1="213.62" y1="521.24" x2="217.22" y2="521.24" stroke="#a8a8a8" stroke-width="1"/>
<circle cx="215.42" cy="518.89" r="2.3" fill="#a8a8a8" stroke="none" stroke-width="1"/>
<circle cx="228.15" cy="515.87" r="2.3" fill="#a8a8a8" stroke="none" stroke-width="1"/>
<line x1="159.9" y1="470.9" x2="171.8" y2="470.9" stroke="#a8a8a8" stroke-width="1.6"/>
<line x1="159.9" y1="478.3" x2="171.8" y2="478.3" stroke="#3aa0f0" stroke-width="1.6"/>
<line x1="159.9" y1="485.7" x2="171.8" y2="485.7" stroke="#f8a444" stroke-width="1.6"/>
<line x1="174.3" y1="478.4" x2="174.3" y2="487" stroke="#222" stroke-width="1.3"/>
<text x="176.9" y="486.7" font-size="8.1">&lt;0.0001</text>
<line x1="208.2" y1="472" x2="208.2" y2="487" stroke="#222" stroke-width="1.3"/>
<text x="209.1" y="482.9" font-size="8.1">&lt;0.0001</text>
<line x1="272.9" y1="486.3" x2="272.9" y2="536.7" stroke="#1e1e1e" stroke-width="1"/>
<line x1="269.9" y1="486.3" x2="272.9" y2="486.3" stroke="#1e1e1e" stroke-width="1"/>
<text x="268.7" y="489.73" font-size="9.8" text-anchor="end">100</text>
<line x1="269.9" y1="503.1" x2="272.9" y2="503.1" stroke="#1e1e1e" stroke-width="1"/>
<text x="268.7" y="506.53" font-size="9.8" text-anchor="end">50</text>
<line x1="269.9" y1="519.9" x2="272.9" y2="519.9" stroke="#1e1e1e" stroke-width="1"/>
<text x="268.7" y="523.33" font-size="9.8" text-anchor="end">0</text>
<line x1="269.9" y1="536.7" x2="272.9" y2="536.7" stroke="#1e1e1e" stroke-width="1"/>
<text x="268.7" y="540.13" font-size="9.8" text-anchor="end">-50</text>
<line x1="271.2" y1="494.7" x2="272.9" y2="494.7" stroke="#1e1e1e" stroke-width="1"/>
<line x1="271.2" y1="511.5" x2="272.9" y2="511.5" stroke="#1e1e1e" stroke-width="1"/>
<line x1="271.2" y1="528.3" x2="272.9" y2="528.3" stroke="#1e1e1e" stroke-width="1"/>
<line x1="272.9" y1="536.7" x2="348.5" y2="536.7" stroke="#1e1e1e" stroke-width="1"/>
<line x1="279.1" y1="536.7" x2="279.1" y2="539.7" stroke="#1e1e1e" stroke-width="1"/>
<line x1="291.83" y1="536.7" x2="291.83" y2="539.7" stroke="#1e1e1e" stroke-width="1"/>
<line x1="304.56" y1="536.7" x2="304.56" y2="539.7" stroke="#1e1e1e" stroke-width="1"/>
<line x1="317.29" y1="536.7" x2="317.29" y2="539.7" stroke="#1e1e1e" stroke-width="1"/>
<line x1="330.02" y1="536.7" x2="330.02" y2="539.7" stroke="#1e1e1e" stroke-width="1"/>
<line x1="342.75" y1="536.7" x2="342.75" y2="539.7" stroke="#1e1e1e" stroke-width="1"/>
<text x="282.1" y="545.7" font-size="10.5" text-anchor="end" transform="rotate(-45 282.1 545.7)">0</text>
<text x="294.83" y="545.7" font-size="10.5" text-anchor="end" transform="rotate(-45 294.83 545.7)">0.625</text>
<text x="307.56" y="545.7" font-size="10.5" text-anchor="end" transform="rotate(-45 307.56 545.7)">1.25</text>
<text x="320.29" y="545.7" font-size="10.5" text-anchor="end" transform="rotate(-45 320.29 545.7)">2.5</text>
<text x="333.02" y="545.7" font-size="10.5" text-anchor="end" transform="rotate(-45 333.02 545.7)">5</text>
<text x="345.75" y="545.7" font-size="10.5" text-anchor="end" transform="rotate(-45 345.75 545.7)">10</text>
<text x="245.7" y="511" font-size="9.3" text-anchor="middle" transform="rotate(-90 245.7 511)">CT26.HER2</text>
<path d="M279.1 519.9 L291.83 512.17 L304.56 505.79 L317.29 498.4 L330.02 493.36 L342.75 490.33" stroke="#f8a444" fill="none" stroke-width="1.45" stroke-linejoin="round"/>
<circle cx="279.1" cy="519.9" r="2.3" fill="#f8a444" stroke="none" stroke-width="1"/>
<line x1="291.83" y1="507.8" x2="291.83" y2="516.54" stroke="#f8a444" stroke-width="1"/>
<line x1="290.03" y1="507.8" x2="293.63" y2="507.8" stroke="#f8a444" stroke-width="1"/>
<line x1="290.03" y1="516.54" x2="293.63" y2="516.54" stroke="#f8a444" stroke-width="1"/>
<circle cx="291.83" cy="512.17" r="2.3" fill="#f8a444" stroke="none" stroke-width="1"/>
<line x1="304.56" y1="503.44" x2="304.56" y2="508.14" stroke="#f8a444" stroke-width="1"/>
<line x1="302.76" y1="503.44" x2="306.36" y2="503.44" stroke="#f8a444" stroke-width="1"/>
<line x1="302.76" y1="508.14" x2="306.36" y2="508.14" stroke="#f8a444" stroke-width="1"/>
<circle cx="304.56" cy="505.79" r="2.3" fill="#f8a444" stroke="none" stroke-width="1"/>
<line x1="317.29" y1="495.71" x2="317.29" y2="501.08" stroke="#f8a444" stroke-width="1"/>
<line x1="315.49" y1="495.71" x2="319.09" y2="495.71" stroke="#f8a444" stroke-width="1"/>
<line x1="315.49" y1="501.08" x2="319.09" y2="501.08" stroke="#f8a444" stroke-width="1"/>
<circle cx="317.29" cy="498.4" r="2.3" fill="#f8a444" stroke="none" stroke-width="1"/>
<circle cx="330.02" cy="493.36" r="2.3" fill="#f8a444" stroke="none" stroke-width="1"/>
<circle cx="342.75" cy="490.33" r="2.3" fill="#f8a444" stroke="none" stroke-width="1"/>
<path d="M279.1 519.9 L291.83 519.9 L304.56 513.18 L317.29 503.1 L330.02 498.73 L342.75 496.72" stroke="#3aa0f0" fill="none" stroke-width="1.45" stroke-linejoin="round"/>
<circle cx="279.1" cy="519.9" r="2.3" fill="#3aa0f0" stroke="none" stroke-width="1"/>
<line x1="291.83" y1="516.54" x2="291.83" y2="523.26" stroke="#3aa0f0" stroke-width="1"/>
<line x1="290.03" y1="516.54" x2="293.63" y2="516.54" stroke="#3aa0f0" stroke-width="1"/>
<line x1="290.03" y1="523.26" x2="293.63" y2="523.26" stroke="#3aa0f0" stroke-width="1"/>
<circle cx="291.83" cy="519.9" r="2.3" fill="#3aa0f0" stroke="none" stroke-width="1"/>
<line x1="304.56" y1="509.82" x2="304.56" y2="516.54" stroke="#3aa0f0" stroke-width="1"/>
<line x1="302.76" y1="509.82" x2="306.36" y2="509.82" stroke="#3aa0f0" stroke-width="1"/>
<line x1="302.76" y1="516.54" x2="306.36" y2="516.54" stroke="#3aa0f0" stroke-width="1"/>
<circle cx="304.56" cy="513.18" r="2.3" fill="#3aa0f0" stroke="none" stroke-width="1"/>
<circle cx="317.29" cy="503.1" r="2.3" fill="#3aa0f0" stroke="none" stroke-width="1"/>
<circle cx="330.02" cy="498.73" r="2.3" fill="#3aa0f0" stroke="none" stroke-width="1"/>
<circle cx="342.75" cy="496.72" r="2.3" fill="#3aa0f0" stroke="none" stroke-width="1"/>
<path d="M279.1 520.57 L291.83 524.94 L304.56 525.95 L317.29 525.95 L330.02 532.33 L342.75 533.68" stroke="#a8a8a8" fill="none" stroke-width="1.45" stroke-linejoin="round"/>
<circle cx="279.1" cy="520.57" r="2.3" fill="#a8a8a8" stroke="none" stroke-width="1"/>
<circle cx="291.83" cy="524.94" r="2.3" fill="#a8a8a8" stroke="none" stroke-width="1"/>
<line x1="304.56" y1="522.59" x2="304.56" y2="529.31" stroke="#a8a8a8" stroke-width="1"/>
<line x1="302.76" y1="522.59" x2="306.36" y2="522.59" stroke="#a8a8a8" stroke-width="1"/>
<line x1="302.76" y1="529.31" x2="306.36" y2="529.31" stroke="#a8a8a8" stroke-width="1"/>
<circle cx="304.56" cy="525.95" r="2.3" fill="#a8a8a8" stroke="none" stroke-width="1"/>
<circle cx="317.29" cy="525.95" r="2.3" fill="#a8a8a8" stroke="none" stroke-width="1"/>
<line x1="330.02" y1="528.64" x2="330.02" y2="536.03" stroke="#a8a8a8" stroke-width="1"/>
<line x1="328.22" y1="528.64" x2="331.82" y2="528.64" stroke="#a8a8a8" stroke-width="1"/>
<line x1="328.22" y1="536.03" x2="331.82" y2="536.03" stroke="#a8a8a8" stroke-width="1"/>
<circle cx="330.02" cy="532.33" r="2.3" fill="#a8a8a8" stroke="none" stroke-width="1"/>
<circle cx="342.75" cy="533.68" r="2.3" fill="#a8a8a8" stroke="none" stroke-width="1"/>
<line x1="275.9" y1="470.9" x2="287.7" y2="470.9" stroke="#a8a8a8" stroke-width="1.6"/>
<line x1="275.9" y1="478.3" x2="287.7" y2="478.3" stroke="#3aa0f0" stroke-width="1.6"/>
<line x1="275.9" y1="485.7" x2="287.7" y2="485.7" stroke="#f8a444" stroke-width="1.6"/>
<line x1="288.4" y1="478.4" x2="288.4" y2="487" stroke="#222" stroke-width="1.3"/>
<text x="290.5" y="486.7" font-size="8.1">&lt;0.0001</text>
<line x1="322.6" y1="472" x2="322.6" y2="487" stroke="#222" stroke-width="1.3"/>
<text x="323.4" y="482.9" font-size="8.1">&lt;0.0001</text>
<line x1="383.4" y1="486.3" x2="383.4" y2="536.7" stroke="#1e1e1e" stroke-width="1"/>
<line x1="380.4" y1="486.3" x2="383.4" y2="486.3" stroke="#1e1e1e" stroke-width="1"/>
<text x="379.2" y="489.73" font-size="9.8" text-anchor="end">100</text>
<line x1="380.4" y1="503.1" x2="383.4" y2="503.1" stroke="#1e1e1e" stroke-width="1"/>
<text x="379.2" y="506.53" font-size="9.8" text-anchor="end">50</text>
<line x1="380.4" y1="519.9" x2="383.4" y2="519.9" stroke="#1e1e1e" stroke-width="1"/>
<text x="379.2" y="523.33" font-size="9.8" text-anchor="end">0</text>
<line x1="380.4" y1="536.7" x2="383.4" y2="536.7" stroke="#1e1e1e" stroke-width="1"/>
<text x="379.2" y="540.13" font-size="9.8" text-anchor="end">-50</text>
<line x1="381.7" y1="494.7" x2="383.4" y2="494.7" stroke="#1e1e1e" stroke-width="1"/>
<line x1="381.7" y1="511.5" x2="383.4" y2="511.5" stroke="#1e1e1e" stroke-width="1"/>
<line x1="381.7" y1="528.3" x2="383.4" y2="528.3" stroke="#1e1e1e" stroke-width="1"/>
<line x1="383.4" y1="536.7" x2="459" y2="536.7" stroke="#1e1e1e" stroke-width="1"/>
<line x1="389.6" y1="536.7" x2="389.6" y2="539.7" stroke="#1e1e1e" stroke-width="1"/>
<line x1="402.33" y1="536.7" x2="402.33" y2="539.7" stroke="#1e1e1e" stroke-width="1"/>
<line x1="415.06" y1="536.7" x2="415.06" y2="539.7" stroke="#1e1e1e" stroke-width="1"/>
<line x1="427.79" y1="536.7" x2="427.79" y2="539.7" stroke="#1e1e1e" stroke-width="1"/>
<line x1="440.52" y1="536.7" x2="440.52" y2="539.7" stroke="#1e1e1e" stroke-width="1"/>
<line x1="453.25" y1="536.7" x2="453.25" y2="539.7" stroke="#1e1e1e" stroke-width="1"/>
<text x="392.6" y="548.1" font-size="10.5" text-anchor="end" transform="rotate(-45 392.6 548.1)">0</text>
<text x="405.33" y="548.1" font-size="10.5" text-anchor="end" transform="rotate(-45 405.33 548.1)">0.625</text>
<text x="418.06" y="548.1" font-size="10.5" text-anchor="end" transform="rotate(-45 418.06 548.1)">1.25</text>
<text x="430.79" y="548.1" font-size="10.5" text-anchor="end" transform="rotate(-45 430.79 548.1)">2.5</text>
<text x="443.52" y="548.1" font-size="10.5" text-anchor="end" transform="rotate(-45 443.52 548.1)">5</text>
<text x="456.25" y="548.1" font-size="10.5" text-anchor="end" transform="rotate(-45 456.25 548.1)">10</text>
<text x="359.6" y="512.1" font-size="9.3" text-anchor="middle" transform="rotate(-90 359.6 512.1)">4T1.CD19t</text>
<path d="M389.6 520.91 L402.33 514.19 L415.06 512.51 L427.79 506.46 L440.52 503.1 L453.25 497.05" stroke="#a4f0f6" fill="none" stroke-width="1.45" stroke-linejoin="round"/>
<circle cx="389.6" cy="520.91" r="2.3" fill="#a4f0f6" stroke="none" stroke-width="1"/>
<circle cx="402.33" cy="514.19" r="2.3" fill="#a4f0f6" stroke="none" stroke-width="1"/>
<circle cx="415.06" cy="512.51" r="2.3" fill="#a4f0f6" stroke="none" stroke-width="1"/>
<circle cx="427.79" cy="506.46" r="2.3" fill="#a4f0f6" stroke="none" stroke-width="1"/>
<circle cx="440.52" cy="503.1" r="2.3" fill="#a4f0f6" stroke="none" stroke-width="1"/>
<circle cx="453.25" cy="497.05" r="2.3" fill="#a4f0f6" stroke="none" stroke-width="1"/>
<path d="M389.6 519.9 L402.33 510.83 L415.06 507.47 L427.79 499.07 L440.52 495.71 L453.25 491" stroke="#d84ad8" fill="none" stroke-width="1.45" stroke-linejoin="round"/>
<circle cx="389.6" cy="519.9" r="2.3" fill="#d84ad8" stroke="none" stroke-width="1"/>
<line x1="402.33" y1="509.15" x2="402.33" y2="512.51" stroke="#d84ad8" stroke-width="1"/>
<line x1="400.53" y1="509.15" x2="404.13" y2="509.15" stroke="#d84ad8" stroke-width="1"/>
<line x1="400.53" y1="512.51" x2="404.13" y2="512.51" stroke="#d84ad8" stroke-width="1"/>
<circle cx="402.33" cy="510.83" r="2.3" fill="#d84ad8" stroke="none" stroke-width="1"/>
<circle cx="415.06" cy="507.47" r="2.3" fill="#d84ad8" stroke="none" stroke-width="1"/>
<circle cx="427.79" cy="499.07" r="2.3" fill="#d84ad8" stroke="none" stroke-width="1"/>
<line x1="440.52" y1="493.36" x2="440.52" y2="498.06" stroke="#d84ad8" stroke-width="1"/>
<line x1="438.72" y1="493.36" x2="442.32" y2="493.36" stroke="#d84ad8" stroke-width="1"/>
<line x1="438.72" y1="498.06" x2="442.32" y2="498.06" stroke="#d84ad8" stroke-width="1"/>
<circle cx="440.52" cy="495.71" r="2.3" fill="#d84ad8" stroke="none" stroke-width="1"/>
<circle cx="453.25" cy="491" r="2.3" fill="#d84ad8" stroke="none" stroke-width="1"/>
<path d="M389.6 519.23 L402.33 521.58 L415.06 520.91 L427.79 519.9 L440.52 517.21 L453.25 517.21" stroke="#a8a8a8" fill="none" stroke-width="1.45" stroke-linejoin="round"/>
<circle cx="389.6" cy="519.23" r="2.3" fill="#a8a8a8" stroke="none" stroke-width="1"/>
<line x1="402.33" y1="515.87" x2="402.33" y2="527.29" stroke="#a8a8a8" stroke-width="1"/>
<line x1="400.53" y1="515.87" x2="404.13" y2="515.87" stroke="#a8a8a8" stroke-width="1"/>
<line x1="400.53" y1="527.29" x2="404.13" y2="527.29" stroke="#a8a8a8" stroke-width="1"/>
<circle cx="402.33" cy="521.58" r="2.3" fill="#a8a8a8" stroke="none" stroke-width="1"/>
<line x1="415.06" y1="517.55" x2="415.06" y2="524.27" stroke="#a8a8a8" stroke-width="1"/>
<line x1="413.26" y1="517.55" x2="416.86" y2="517.55" stroke="#a8a8a8" stroke-width="1"/>
<line x1="413.26" y1="524.27" x2="416.86" y2="524.27" stroke="#a8a8a8" stroke-width="1"/>
<circle cx="415.06" cy="520.91" r="2.3" fill="#a8a8a8" stroke="none" stroke-width="1"/>
<line x1="427.79" y1="516.71" x2="427.79" y2="523.09" stroke="#a8a8a8" stroke-width="1"/>
<line x1="425.99" y1="516.71" x2="429.59" y2="516.71" stroke="#a8a8a8" stroke-width="1"/>
<line x1="425.99" y1="523.09" x2="429.59" y2="523.09" stroke="#a8a8a8" stroke-width="1"/>
<circle cx="427.79" cy="519.9" r="2.3" fill="#a8a8a8" stroke="none" stroke-width="1"/>
<circle cx="440.52" cy="517.21" r="2.3" fill="#a8a8a8" stroke="none" stroke-width="1"/>
<line x1="453.25" y1="514.52" x2="453.25" y2="519.9" stroke="#a8a8a8" stroke-width="1"/>
<line x1="451.45" y1="514.52" x2="455.05" y2="514.52" stroke="#a8a8a8" stroke-width="1"/>
<line x1="451.45" y1="519.9" x2="455.05" y2="519.9" stroke="#a8a8a8" stroke-width="1"/>
<circle cx="453.25" cy="517.21" r="2.3" fill="#a8a8a8" stroke="none" stroke-width="1"/>
<line x1="383.9" y1="470.9" x2="395.8" y2="470.9" stroke="#a8a8a8" stroke-width="1.6"/>
<line x1="383.9" y1="478.3" x2="395.8" y2="478.3" stroke="#a4f0f6" stroke-width="1.6"/>
<line x1="383.9" y1="485.7" x2="395.8" y2="485.7" stroke="#d84ad8" stroke-width="1.6"/>
<line x1="397.4" y1="478.4" x2="397.4" y2="487" stroke="#222" stroke-width="1.3"/>
<text x="399.9" y="486.7" font-size="8.1">&lt;0.0001</text>
<line x1="431.3" y1="472" x2="431.3" y2="487" stroke="#222" stroke-width="1.3"/>
<text x="432.4" y="482.9" font-size="8.1">&lt;0.0001</text>
<line x1="495.6" y1="486.3" x2="495.6" y2="536.7" stroke="#1e1e1e" stroke-width="1"/>
<line x1="492.6" y1="486.3" x2="495.6" y2="486.3" stroke="#1e1e1e" stroke-width="1"/>
<text x="491.4" y="489.73" font-size="9.8" text-anchor="end">100</text>
<line x1="492.6" y1="503.1" x2="495.6" y2="503.1" stroke="#1e1e1e" stroke-width="1"/>
<text x="491.4" y="506.53" font-size="9.8" text-anchor="end">50</text>
<line x1="492.6" y1="519.9" x2="495.6" y2="519.9" stroke="#1e1e1e" stroke-width="1"/>
<text x="491.4" y="523.33" font-size="9.8" text-anchor="end">0</text>
<line x1="492.6" y1="536.7" x2="495.6" y2="536.7" stroke="#1e1e1e" stroke-width="1"/>
<text x="491.4" y="540.13" font-size="9.8" text-anchor="end">-50</text>
<line x1="493.9" y1="494.7" x2="495.6" y2="494.7" stroke="#1e1e1e" stroke-width="1"/>
<line x1="493.9" y1="511.5" x2="495.6" y2="511.5" stroke="#1e1e1e" stroke-width="1"/>
<line x1="493.9" y1="528.3" x2="495.6" y2="528.3" stroke="#1e1e1e" stroke-width="1"/>
<line x1="495.6" y1="536.7" x2="571.2" y2="536.7" stroke="#1e1e1e" stroke-width="1"/>
<line x1="501.8" y1="536.7" x2="501.8" y2="539.7" stroke="#1e1e1e" stroke-width="1"/>
<line x1="514.53" y1="536.7" x2="514.53" y2="539.7" stroke="#1e1e1e" stroke-width="1"/>
<line x1="527.26" y1="536.7" x2="527.26" y2="539.7" stroke="#1e1e1e" stroke-width="1"/>
<line x1="539.99" y1="536.7" x2="539.99" y2="539.7" stroke="#1e1e1e" stroke-width="1"/>
<line x1="552.72" y1="536.7" x2="552.72" y2="539.7" stroke="#1e1e1e" stroke-width="1"/>
<line x1="565.45" y1="536.7" x2="565.45" y2="539.7" stroke="#1e1e1e" stroke-width="1"/>
<text x="504.8" y="545.7" font-size="10.5" text-anchor="end" transform="rotate(-45 504.8 545.7)">0</text>
<text x="517.53" y="545.7" font-size="10.5" text-anchor="end" transform="rotate(-45 517.53 545.7)">0.625</text>
<text x="530.26" y="545.7" font-size="10.5" text-anchor="end" transform="rotate(-45 530.26 545.7)">1.25</text>
<text x="542.99" y="545.7" font-size="10.5" text-anchor="end" transform="rotate(-45 542.99 545.7)">2.5</text>
<text x="555.72" y="545.7" font-size="10.5" text-anchor="end" transform="rotate(-45 555.72 545.7)">5</text>
<text x="568.45" y="545.7" font-size="10.5" text-anchor="end" transform="rotate(-45 568.45 545.7)">10</text>
<text x="471.6" y="510.8" font-size="9.3" text-anchor="middle" transform="rotate(-90 471.6 510.8)">231.IL13Ra2</text>
<path d="M501.8 519.9 L514.53 499.07 L527.26 490.67 L539.99 487.98 L552.72 487.98 L565.45 487.98" stroke="#e0561e" fill="none" stroke-width="1.45" stroke-linejoin="round"/>
<circle cx="501.8" cy="519.9" r="1.9" fill="#e0561e" stroke="none" stroke-width="1"/>
<circle cx="514.53" cy="499.07" r="1.9" fill="#e0561e" stroke="none" stroke-width="1"/>
<circle cx="527.26" cy="490.67" r="1.9" fill="#e0561e" stroke="none" stroke-width="1"/>
<circle cx="539.99" cy="487.98" r="1.9" fill="#e0561e" stroke="none" stroke-width="1"/>
<circle cx="552.72" cy="487.98" r="1.9" fill="#e0561e" stroke="none" stroke-width="1"/>
<circle cx="565.45" cy="487.98" r="1.9" fill="#e0561e" stroke="none" stroke-width="1"/>
<path d="M501.8 519.9 L514.53 502.43 L527.26 493.36 L539.99 490.33 L552.72 490 L565.45 487.98" stroke="#98ec98" fill="none" stroke-width="1.45" stroke-linejoin="round"/>
<circle cx="501.8" cy="519.9" r="2.3" fill="#98ec98" stroke="none" stroke-width="1"/>
<circle cx="514.53" cy="502.43" r="2.3" fill="#98ec98" stroke="none" stroke-width="1"/>
<circle cx="527.26" cy="493.36" r="2.3" fill="#98ec98" stroke="none" stroke-width="1"/>
<circle cx="539.99" cy="490.33" r="2.3" fill="#98ec98" stroke="none" stroke-width="1"/>
<circle cx="552.72" cy="490" r="2.3" fill="#98ec98" stroke="none" stroke-width="1"/>
<circle cx="565.45" cy="487.98" r="2.3" fill="#98ec98" stroke="none" stroke-width="1"/>
<path d="M501.8 519.9 L514.53 528.97 L527.26 524.94 L539.99 527.29 L552.72 528.3 L565.45 527.29" stroke="#a8a8a8" fill="none" stroke-width="1.45" stroke-linejoin="round"/>
<line x1="501.8" y1="518.56" x2="501.8" y2="521.24" stroke="#a8a8a8" stroke-width="1"/>
<line x1="500" y1="518.56" x2="503.6" y2="518.56" stroke="#a8a8a8" stroke-width="1"/>
<line x1="500" y1="521.24" x2="503.6" y2="521.24" stroke="#a8a8a8" stroke-width="1"/>
<rect x="499.4" y="517.5" width="4.8" height="4.8" fill="#a8a8a8" stroke="none" stroke-width="1"/>
<rect x="512.13" y="526.57" width="4.8" height="4.8" fill="#a8a8a8" stroke="none" stroke-width="1"/>
<line x1="527.26" y1="520.91" x2="527.26" y2="528.97" stroke="#a8a8a8" stroke-width="1"/>
<line x1="525.46" y1="520.91" x2="529.06" y2="520.91" stroke="#a8a8a8" stroke-width="1"/>
<line x1="525.46" y1="528.97" x2="529.06" y2="528.97" stroke="#a8a8a8" stroke-width="1"/>
<rect x="524.86" y="522.54" width="4.8" height="4.8" fill="#a8a8a8" stroke="none" stroke-width="1"/>
<line x1="539.99" y1="525.28" x2="539.99" y2="529.31" stroke="#a8a8a8" stroke-width="1"/>
<line x1="538.19" y1="525.28" x2="541.79" y2="525.28" stroke="#a8a8a8" stroke-width="1"/>
<line x1="538.19" y1="529.31" x2="541.79" y2="529.31" stroke="#a8a8a8" stroke-width="1"/>
<rect x="537.59" y="524.89" width="4.8" height="4.8" fill="#a8a8a8" stroke="none" stroke-width="1"/>
<line x1="552.72" y1="525.11" x2="552.72" y2="531.49" stroke="#a8a8a8" stroke-width="1"/>
<line x1="550.92" y1="525.11" x2="554.52" y2="525.11" stroke="#a8a8a8" stroke-width="1"/>
<line x1="550.92" y1="531.49" x2="554.52" y2="531.49" stroke="#a8a8a8" stroke-width="1"/>
<rect x="550.32" y="525.9" width="4.8" height="4.8" fill="#a8a8a8" stroke="none" stroke-width="1"/>
<line x1="565.45" y1="525.28" x2="565.45" y2="529.31" stroke="#a8a8a8" stroke-width="1"/>
<line x1="563.65" y1="525.28" x2="567.25" y2="525.28" stroke="#a8a8a8" stroke-width="1"/>
<line x1="563.65" y1="529.31" x2="567.25" y2="529.31" stroke="#a8a8a8" stroke-width="1"/>
<rect x="563.05" y="524.89" width="4.8" height="4.8" fill="#a8a8a8" stroke="none" stroke-width="1"/>
<line x1="496.9" y1="470.9" x2="508.8" y2="470.9" stroke="#a8a8a8" stroke-width="1.6"/>
<line x1="496.9" y1="478.3" x2="508.8" y2="478.3" stroke="#98ec98" stroke-width="1.6"/>
<line x1="496.9" y1="485.7" x2="508.8" y2="485.7" stroke="#e0561e" stroke-width="1.6"/>
<line x1="510.7" y1="478.4" x2="510.7" y2="487" stroke="#222" stroke-width="1.3"/>
<text x="512.2" y="486.7" font-size="8.1">0.0097</text>
<line x1="544.6" y1="472" x2="544.6" y2="487" stroke="#222" stroke-width="1.3"/>
<text x="546.1" y="482.9" font-size="8.1">&lt;0.0001</text>
<line x1="587.4" y1="406.8" x2="601" y2="406.8" stroke="#a8a8a8" stroke-width="1.6"/>
<text x="606.9" y="410.6" font-size="10.5">UTD</text>
<line x1="587.4" y1="424.65" x2="601" y2="424.65" stroke="#3aa0f0" stroke-width="1.6"/>
<text x="606.9" y="428.45" font-size="10.5">HER2.CAR</text>
<line x1="587.4" y1="442.5" x2="601" y2="442.5" stroke="#f8a444" stroke-width="1.6"/>
<text x="606.9" y="446.3" font-size="10.5">HER2.eSPR</text>
<line x1="587.4" y1="460.35" x2="601" y2="460.35" stroke="#a4f0f6" stroke-width="1.6"/>
<text x="606.9" y="464.15" font-size="10.5">CD19.CAR</text>
<line x1="587.4" y1="478.2" x2="601" y2="478.2" stroke="#d84ad8" stroke-width="1.6"/>
<text x="606.9" y="482" font-size="10.5">CD19.eSPR</text>
<line x1="587.4" y1="496.05" x2="601" y2="496.05" stroke="#98ec98" stroke-width="1.6"/>
<text x="606.9" y="499.85" font-size="10.5">IL13R&#945;2.CAR</text>
<line x1="587.4" y1="513.9" x2="601" y2="513.9" stroke="#e0561e" stroke-width="1.6"/>
<text x="606.9" y="517.7" font-size="10.5">IL13R&#945;2.eSPR</text>
</svg>
</body></html>
